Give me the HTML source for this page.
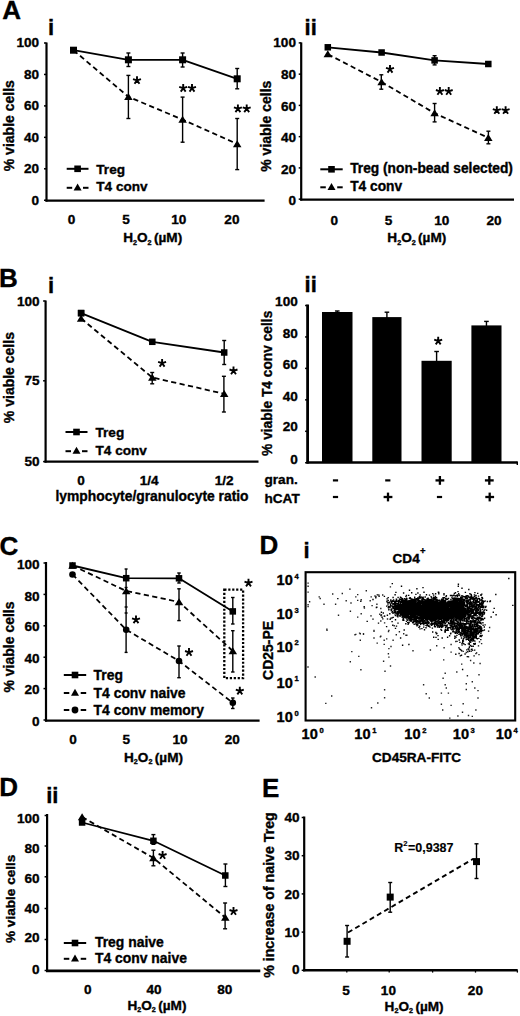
<!DOCTYPE html>
<html><head><meta charset="utf-8"><style>
html,body{margin:0;padding:0;background:#fff;overflow:hidden;}
svg{display:block;}
text{font-family:"Liberation Sans", sans-serif;font-weight:bold;fill:#000;stroke:#000;stroke-width:0.35px;}
</style></head><body>
<svg width="520" height="1016" viewBox="0 0 520 1016">
<rect width="520" height="1016" fill="#fff"/>
<text x="2.20" y="18.50" font-size="26" text-anchor="start">A</text>
<text x="47.90" y="34.60" font-size="22" text-anchor="start">i</text>
<line x1="46.50" y1="42.50" x2="46.50" y2="201.60" stroke="#000" stroke-width="2.2"/>
<line x1="44.00" y1="43.00" x2="46.50" y2="43.00" stroke="#000" stroke-width="1.5"/>
<line x1="44.00" y1="74.45" x2="46.50" y2="74.45" stroke="#000" stroke-width="1.5"/>
<line x1="44.00" y1="105.90" x2="46.50" y2="105.90" stroke="#000" stroke-width="1.5"/>
<line x1="44.00" y1="137.35" x2="46.50" y2="137.35" stroke="#000" stroke-width="1.5"/>
<line x1="44.00" y1="168.80" x2="46.50" y2="168.80" stroke="#000" stroke-width="1.5"/>
<line x1="44.00" y1="200.25" x2="46.50" y2="200.25" stroke="#000" stroke-width="1.5"/>
<text x="39.10" y="46.92" font-size="13.6" text-anchor="end">100</text>
<text x="39.10" y="78.72" font-size="13.6" text-anchor="end">80</text>
<text x="39.10" y="110.12" font-size="13.6" text-anchor="end">60</text>
<text x="39.10" y="141.52" font-size="13.6" text-anchor="end">40</text>
<text x="39.10" y="173.02" font-size="13.6" text-anchor="end">20</text>
<text x="39.10" y="204.72" font-size="13.6" text-anchor="end">0</text>
<line x1="45.50" y1="200.60" x2="264.60" y2="200.60" stroke="#000" stroke-width="2.4"/>
<text x="71.60" y="224.32" font-size="13.6" text-anchor="middle">0</text>
<text x="126.00" y="224.32" font-size="13.6" text-anchor="middle">5</text>
<text x="178.80" y="224.32" font-size="13.6" text-anchor="middle">10</text>
<text x="231.90" y="224.32" font-size="13.6" text-anchor="middle">20</text>
<text x="123.20" y="242.20" font-size="13.6" text-anchor="start">H<tspan font-size="7.2" dy="2.3">2</tspan><tspan dy="-2.3">O</tspan><tspan font-size="7.2" dy="2.3">2</tspan><tspan dy="-2.3" dx="2.4">(µM)</tspan></text>
<text x="14.30" y="125.70" font-size="14" text-anchor="middle" transform="rotate(-90 14.30 125.70)">% viable cells</text>
<polyline points="73.50,50.20 128.40,96.80 182.60,119.60 237.20,144.00" fill="none" stroke="#000" stroke-width="1.8" stroke-dasharray="5.2,3.4" stroke-linejoin="round"/>
<polyline points="73.50,50.20 128.40,59.80 182.60,59.80 237.20,78.80" fill="none" stroke="#000" stroke-width="1.8" stroke-linejoin="round"/>
<line x1="128.40" y1="53.00" x2="128.40" y2="66.50" stroke="#000" stroke-width="1.4"/>
<line x1="126.40" y1="53.00" x2="130.40" y2="53.00" stroke="#000" stroke-width="1.4"/>
<line x1="126.40" y1="66.50" x2="130.40" y2="66.50" stroke="#000" stroke-width="1.4"/>
<line x1="182.60" y1="53.00" x2="182.60" y2="67.00" stroke="#000" stroke-width="1.4"/>
<line x1="180.60" y1="53.00" x2="184.60" y2="53.00" stroke="#000" stroke-width="1.4"/>
<line x1="180.60" y1="67.00" x2="184.60" y2="67.00" stroke="#000" stroke-width="1.4"/>
<line x1="237.20" y1="68.50" x2="237.20" y2="88.80" stroke="#000" stroke-width="1.4"/>
<line x1="235.20" y1="68.50" x2="239.20" y2="68.50" stroke="#000" stroke-width="1.4"/>
<line x1="235.20" y1="88.80" x2="239.20" y2="88.80" stroke="#000" stroke-width="1.4"/>
<line x1="128.40" y1="75.40" x2="128.40" y2="118.50" stroke="#000" stroke-width="1.4"/>
<line x1="126.40" y1="75.40" x2="130.40" y2="75.40" stroke="#000" stroke-width="1.4"/>
<line x1="126.40" y1="118.50" x2="130.40" y2="118.50" stroke="#000" stroke-width="1.4"/>
<line x1="182.60" y1="97.10" x2="182.60" y2="142.20" stroke="#000" stroke-width="1.4"/>
<line x1="180.60" y1="97.10" x2="184.60" y2="97.10" stroke="#000" stroke-width="1.4"/>
<line x1="180.60" y1="142.20" x2="184.60" y2="142.20" stroke="#000" stroke-width="1.4"/>
<line x1="237.20" y1="118.50" x2="237.20" y2="169.60" stroke="#000" stroke-width="1.4"/>
<line x1="235.20" y1="118.50" x2="239.20" y2="118.50" stroke="#000" stroke-width="1.4"/>
<line x1="235.20" y1="169.60" x2="239.20" y2="169.60" stroke="#000" stroke-width="1.4"/>
<rect x="70.00" y="46.70" width="7" height="7" fill="#000"/>
<rect x="124.90" y="56.30" width="7" height="7" fill="#000"/>
<rect x="179.10" y="56.30" width="7" height="7" fill="#000"/>
<rect x="233.70" y="75.30" width="7" height="7" fill="#000"/>
<polygon points="128.40,92.95 132.65,99.95 124.15,99.95" fill="#000"/>
<polygon points="182.60,115.75 186.85,122.75 178.35,122.75" fill="#000"/>
<polygon points="237.20,140.15 241.45,147.15 232.95,147.15" fill="#000"/>
<path d="M137.00,80.40L137.00,76.20M137.00,80.40L140.99,79.10M137.00,80.40L139.47,83.80M137.00,80.40L134.53,83.80M137.00,80.40L133.01,79.10" stroke="#000" stroke-width="1.9" fill="none"/>
<path d="M183.20,88.20L183.20,84.00M183.20,88.20L187.19,86.90M183.20,88.20L185.67,91.60M183.20,88.20L180.73,91.60M183.20,88.20L179.21,86.90" stroke="#000" stroke-width="1.9" fill="none"/>
<path d="M192.00,88.20L192.00,84.00M192.00,88.20L195.99,86.90M192.00,88.20L194.47,91.60M192.00,88.20L189.53,91.60M192.00,88.20L188.01,86.90" stroke="#000" stroke-width="1.9" fill="none"/>
<path d="M237.90,108.70L237.90,104.50M237.90,108.70L241.89,107.40M237.90,108.70L240.37,112.10M237.90,108.70L235.43,112.10M237.90,108.70L233.91,107.40" stroke="#000" stroke-width="1.9" fill="none"/>
<path d="M246.70,108.70L246.70,104.50M246.70,108.70L250.69,107.40M246.70,108.70L249.17,112.10M246.70,108.70L244.23,112.10M246.70,108.70L242.71,107.40" stroke="#000" stroke-width="1.9" fill="none"/>
<line x1="66.70" y1="168.80" x2="88.50" y2="168.80" stroke="#000" stroke-width="2"/>
<rect x="74.30" y="165.50" width="6.6" height="6.6" fill="#000"/>
<text x="96.30" y="173.60" font-size="13.6" text-anchor="start">Treg</text>
<line x1="66.70" y1="187.80" x2="72.20" y2="187.80" stroke="#000" stroke-width="2"/>
<line x1="83.00" y1="187.80" x2="88.50" y2="187.80" stroke="#000" stroke-width="2"/>
<polygon points="77.60,183.45 81.60,190.45 73.60,190.45" fill="#000"/>
<text x="96.30" y="191.30" font-size="13.6" text-anchor="start">T4 conv</text>
<text x="304.60" y="34.60" font-size="22" text-anchor="start">ii</text>
<line x1="301.20" y1="42.40" x2="301.20" y2="200.60" stroke="#000" stroke-width="2.2"/>
<line x1="298.70" y1="42.90" x2="301.20" y2="42.90" stroke="#000" stroke-width="1.5"/>
<line x1="298.70" y1="74.15" x2="301.20" y2="74.15" stroke="#000" stroke-width="1.5"/>
<line x1="298.70" y1="105.40" x2="301.20" y2="105.40" stroke="#000" stroke-width="1.5"/>
<line x1="298.70" y1="136.65" x2="301.20" y2="136.65" stroke="#000" stroke-width="1.5"/>
<line x1="298.70" y1="167.90" x2="301.20" y2="167.90" stroke="#000" stroke-width="1.5"/>
<line x1="298.70" y1="199.15" x2="301.20" y2="199.15" stroke="#000" stroke-width="1.5"/>
<text x="296.00" y="47.42" font-size="13.6" text-anchor="end">100</text>
<text x="296.00" y="79.32" font-size="13.6" text-anchor="end">80</text>
<text x="296.00" y="110.82" font-size="13.6" text-anchor="end">60</text>
<text x="296.00" y="142.22" font-size="13.6" text-anchor="end">40</text>
<text x="296.00" y="173.52" font-size="13.6" text-anchor="end">20</text>
<text x="296.00" y="205.02" font-size="13.6" text-anchor="end">0</text>
<line x1="300.20" y1="199.60" x2="514.00" y2="199.60" stroke="#000" stroke-width="2.4"/>
<text x="334.20" y="224.52" font-size="13.6" text-anchor="middle">0</text>
<text x="388.60" y="224.52" font-size="13.6" text-anchor="middle">5</text>
<text x="441.70" y="224.52" font-size="13.6" text-anchor="middle">10</text>
<text x="494.00" y="224.52" font-size="13.6" text-anchor="middle">20</text>
<text x="387.30" y="242.20" font-size="13.6" text-anchor="start">H<tspan font-size="7.2" dy="2.3">2</tspan><tspan dy="-2.3">O</tspan><tspan font-size="7.2" dy="2.3">2</tspan><tspan dy="-2.3" dx="2.4">(µM)</tspan></text>
<text x="270.70" y="126.20" font-size="14" text-anchor="middle" transform="rotate(-90 270.70 126.20)">% viable cells</text>
<polyline points="327.80,54.20 381.60,82.00 434.60,113.20 488.30,137.80" fill="none" stroke="#000" stroke-width="1.8" stroke-dasharray="5.2,3.4" stroke-linejoin="round"/>
<polyline points="327.80,47.30 381.60,52.50 434.60,60.40 488.30,64.00" fill="none" stroke="#000" stroke-width="1.8" stroke-linejoin="round"/>
<line x1="381.30" y1="74.80" x2="381.30" y2="89.20" stroke="#000" stroke-width="1.4"/>
<line x1="379.30" y1="74.80" x2="383.30" y2="74.80" stroke="#000" stroke-width="1.4"/>
<line x1="379.30" y1="89.20" x2="383.30" y2="89.20" stroke="#000" stroke-width="1.4"/>
<line x1="434.60" y1="103.50" x2="434.60" y2="121.90" stroke="#000" stroke-width="1.4"/>
<line x1="432.60" y1="103.50" x2="436.60" y2="103.50" stroke="#000" stroke-width="1.4"/>
<line x1="432.60" y1="121.90" x2="436.60" y2="121.90" stroke="#000" stroke-width="1.4"/>
<line x1="488.40" y1="131.20" x2="488.40" y2="143.80" stroke="#000" stroke-width="1.4"/>
<line x1="486.40" y1="131.20" x2="490.40" y2="131.20" stroke="#000" stroke-width="1.4"/>
<line x1="486.40" y1="143.80" x2="490.40" y2="143.80" stroke="#000" stroke-width="1.4"/>
<line x1="434.60" y1="55.70" x2="434.60" y2="64.90" stroke="#000" stroke-width="1.4"/>
<line x1="432.60" y1="55.70" x2="436.60" y2="55.70" stroke="#000" stroke-width="1.4"/>
<line x1="432.60" y1="64.90" x2="436.60" y2="64.90" stroke="#000" stroke-width="1.4"/>
<rect x="324.55" y="44.05" width="6.5" height="6.5" fill="#000"/>
<rect x="378.35" y="49.25" width="6.5" height="6.5" fill="#000"/>
<rect x="431.35" y="57.15" width="6.5" height="6.5" fill="#000"/>
<rect x="485.05" y="60.75" width="6.5" height="6.5" fill="#000"/>
<polygon points="327.80,50.35 332.05,57.35 323.55,57.35" fill="#000"/>
<polygon points="381.60,78.15 385.85,85.15 377.35,85.15" fill="#000"/>
<polygon points="434.60,109.35 438.85,116.35 430.35,116.35" fill="#000"/>
<polygon points="488.30,133.95 492.55,140.95 484.05,140.95" fill="#000"/>
<path d="M390.00,69.20L390.00,65.00M390.00,69.20L393.99,67.90M390.00,69.20L392.47,72.60M390.00,69.20L387.53,72.60M390.00,69.20L386.01,67.90" stroke="#000" stroke-width="1.9" fill="none"/>
<path d="M439.90,91.30L439.90,87.10M439.90,91.30L443.89,90.00M439.90,91.30L442.37,94.70M439.90,91.30L437.43,94.70M439.90,91.30L435.91,90.00" stroke="#000" stroke-width="1.9" fill="none"/>
<path d="M448.70,91.30L448.70,87.10M448.70,91.30L452.69,90.00M448.70,91.30L451.17,94.70M448.70,91.30L446.23,94.70M448.70,91.30L444.71,90.00" stroke="#000" stroke-width="1.9" fill="none"/>
<path d="M496.80,110.40L496.80,106.20M496.80,110.40L500.79,109.10M496.80,110.40L499.27,113.80M496.80,110.40L494.33,113.80M496.80,110.40L492.81,109.10" stroke="#000" stroke-width="1.9" fill="none"/>
<path d="M505.60,110.40L505.60,106.20M505.60,110.40L509.59,109.10M505.60,110.40L508.07,113.80M505.60,110.40L503.13,113.80M505.60,110.40L501.61,109.10" stroke="#000" stroke-width="1.9" fill="none"/>
<line x1="320.30" y1="169.30" x2="342.70" y2="169.30" stroke="#000" stroke-width="2"/>
<rect x="328.20" y="166.00" width="6.6" height="6.6" fill="#000"/>
<text x="350.20" y="173.10" font-size="13.75" text-anchor="start">Treg (non-bead selected)</text>
<line x1="320.30" y1="187.30" x2="325.80" y2="187.30" stroke="#000" stroke-width="2"/>
<line x1="337.20" y1="187.30" x2="342.70" y2="187.30" stroke="#000" stroke-width="2"/>
<polygon points="331.50,182.95 335.50,189.95 327.50,189.95" fill="#000"/>
<text x="350.20" y="190.50" font-size="13.75" text-anchor="start">T4 conv</text>
<text x="-1.10" y="287.00" font-size="26" text-anchor="start">B</text>
<text x="47.90" y="292.50" font-size="22" text-anchor="start">i</text>
<line x1="45.60" y1="300.50" x2="45.60" y2="462.60" stroke="#000" stroke-width="2.2"/>
<line x1="43.10" y1="301.00" x2="45.60" y2="301.00" stroke="#000" stroke-width="1.5"/>
<line x1="43.10" y1="380.80" x2="45.60" y2="380.80" stroke="#000" stroke-width="1.5"/>
<line x1="43.10" y1="461.60" x2="45.60" y2="461.60" stroke="#000" stroke-width="1.5"/>
<text x="39.60" y="305.82" font-size="13.6" text-anchor="end">100</text>
<text x="39.60" y="385.22" font-size="13.6" text-anchor="end">75</text>
<text x="39.60" y="466.02" font-size="13.6" text-anchor="end">50</text>
<line x1="44.50" y1="461.60" x2="258.50" y2="461.60" stroke="#000" stroke-width="2.4"/>
<text x="81.00" y="484.92" font-size="13.6" text-anchor="middle">0</text>
<text x="149.10" y="484.92" font-size="13.6" text-anchor="middle">1/4</text>
<text x="224.10" y="484.92" font-size="13.6" text-anchor="middle">1/2</text>
<text x="152.00" y="501.30" font-size="13.85" text-anchor="middle">lymphocyte/granulocyte ratio</text>
<text x="14.20" y="377.60" font-size="14" text-anchor="middle" transform="rotate(-90 14.20 377.60)">% viable cells</text>
<polyline points="81.10,318.50 152.30,377.50 224.20,393.80" fill="none" stroke="#000" stroke-width="1.8" stroke-dasharray="5.2,3.4" stroke-linejoin="round"/>
<polyline points="81.10,313.10 152.30,341.80 224.20,352.50" fill="none" stroke="#000" stroke-width="1.8" stroke-linejoin="round"/>
<line x1="224.20" y1="340.50" x2="224.20" y2="364.50" stroke="#000" stroke-width="1.4"/>
<line x1="222.20" y1="340.50" x2="226.20" y2="340.50" stroke="#000" stroke-width="1.4"/>
<line x1="222.20" y1="364.50" x2="226.20" y2="364.50" stroke="#000" stroke-width="1.4"/>
<line x1="152.20" y1="372.50" x2="152.20" y2="383.80" stroke="#000" stroke-width="1.4"/>
<line x1="150.20" y1="372.50" x2="154.20" y2="372.50" stroke="#000" stroke-width="1.4"/>
<line x1="150.20" y1="383.80" x2="154.20" y2="383.80" stroke="#000" stroke-width="1.4"/>
<line x1="223.90" y1="376.30" x2="223.90" y2="412.00" stroke="#000" stroke-width="1.4"/>
<line x1="221.90" y1="376.30" x2="225.90" y2="376.30" stroke="#000" stroke-width="1.4"/>
<line x1="221.90" y1="412.00" x2="225.90" y2="412.00" stroke="#000" stroke-width="1.4"/>
<rect x="77.85" y="309.85" width="6.5" height="6.5" fill="#000"/>
<rect x="149.05" y="338.55" width="6.5" height="6.5" fill="#000"/>
<rect x="220.95" y="349.25" width="6.5" height="6.5" fill="#000"/>
<polygon points="81.10,314.65 85.35,321.65 76.85,321.65" fill="#000"/>
<polygon points="152.30,373.65 156.55,380.65 148.05,380.65" fill="#000"/>
<polygon points="224.20,389.95 228.45,396.95 219.95,396.95" fill="#000"/>
<rect x="77.85" y="309.85" width="6.5" height="6.5" fill="#000"/>
<path d="M162.10,363.20L162.10,359.00M162.10,363.20L166.09,361.90M162.10,363.20L164.57,366.60M162.10,363.20L159.63,366.60M162.10,363.20L158.11,361.90" stroke="#000" stroke-width="1.9" fill="none"/>
<path d="M233.50,370.80L233.50,366.60M233.50,370.80L237.49,369.50M233.50,370.80L235.97,374.20M233.50,370.80L231.03,374.20M233.50,370.80L229.51,369.50" stroke="#000" stroke-width="1.9" fill="none"/>
<line x1="65.50" y1="432.00" x2="87.50" y2="432.00" stroke="#000" stroke-width="2"/>
<rect x="73.20" y="428.70" width="6.6" height="6.6" fill="#000"/>
<text x="95.50" y="437.00" font-size="13.6" text-anchor="start">Treg</text>
<line x1="65.50" y1="451.20" x2="71.00" y2="451.20" stroke="#000" stroke-width="2"/>
<line x1="82.00" y1="451.20" x2="87.50" y2="451.20" stroke="#000" stroke-width="2"/>
<polygon points="76.50,446.85 80.50,453.85 72.50,453.85" fill="#000"/>
<text x="95.50" y="454.60" font-size="13.6" text-anchor="start">T4 conv</text>
<text x="304.60" y="292.00" font-size="22" text-anchor="start">ii</text>
<line x1="307.60" y1="304.50" x2="307.60" y2="463.50" stroke="#000" stroke-width="2.8"/>
<line x1="305.10" y1="305.50" x2="307.60" y2="305.50" stroke="#000" stroke-width="1.5"/>
<line x1="305.10" y1="336.95" x2="307.60" y2="336.95" stroke="#000" stroke-width="1.5"/>
<line x1="305.10" y1="368.40" x2="307.60" y2="368.40" stroke="#000" stroke-width="1.5"/>
<line x1="305.10" y1="399.85" x2="307.60" y2="399.85" stroke="#000" stroke-width="1.5"/>
<line x1="305.10" y1="431.30" x2="307.60" y2="431.30" stroke="#000" stroke-width="1.5"/>
<line x1="305.10" y1="462.75" x2="307.60" y2="462.75" stroke="#000" stroke-width="1.5"/>
<text x="297.80" y="306.12" font-size="13.6" text-anchor="end">100</text>
<text x="297.80" y="338.32" font-size="13.6" text-anchor="end">80</text>
<text x="297.80" y="368.72" font-size="13.6" text-anchor="end">60</text>
<text x="297.80" y="400.82" font-size="13.6" text-anchor="end">40</text>
<text x="297.80" y="431.22" font-size="13.6" text-anchor="end">20</text>
<text x="297.80" y="463.62" font-size="13.6" text-anchor="end">0</text>
<rect x="322" y="312" width="30.5" height="150.8" fill="#000"/>
<line x1="337.25" y1="311.00" x2="337.25" y2="314.00" stroke="#000" stroke-width="1.4"/>
<line x1="334.95" y1="311.00" x2="339.55" y2="311.00" stroke="#000" stroke-width="1.4"/>
<line x1="334.95" y1="314.00" x2="339.55" y2="314.00" stroke="#000" stroke-width="1.4"/>
<rect x="372.3" y="317.1" width="29.19999999999999" height="145.7" fill="#000"/>
<line x1="386.90" y1="312.20" x2="386.90" y2="319.10" stroke="#000" stroke-width="1.4"/>
<line x1="384.60" y1="312.20" x2="389.20" y2="312.20" stroke="#000" stroke-width="1.4"/>
<line x1="384.60" y1="319.10" x2="389.20" y2="319.10" stroke="#000" stroke-width="1.4"/>
<rect x="421.5" y="360.8" width="30.19999999999999" height="102.0" fill="#000"/>
<line x1="436.60" y1="351.50" x2="436.60" y2="362.80" stroke="#000" stroke-width="1.4"/>
<line x1="434.30" y1="351.50" x2="438.90" y2="351.50" stroke="#000" stroke-width="1.4"/>
<line x1="434.30" y1="362.80" x2="438.90" y2="362.80" stroke="#000" stroke-width="1.4"/>
<rect x="471.4" y="325.4" width="30.100000000000023" height="137.40000000000003" fill="#000"/>
<line x1="486.45" y1="321.40" x2="486.45" y2="327.40" stroke="#000" stroke-width="1.4"/>
<line x1="484.15" y1="321.40" x2="488.75" y2="321.40" stroke="#000" stroke-width="1.4"/>
<line x1="484.15" y1="327.40" x2="488.75" y2="327.40" stroke="#000" stroke-width="1.4"/>
<line x1="306.60" y1="462.50" x2="517.30" y2="462.50" stroke="#000" stroke-width="2.4"/>
<line x1="517.30" y1="461.60" x2="517.30" y2="465.00" stroke="#000" stroke-width="1.4"/>
<path d="M438.20,341.00L438.20,336.80M438.20,341.00L442.19,339.70M438.20,341.00L440.67,344.40M438.20,341.00L435.73,344.40M438.20,341.00L434.21,339.70" stroke="#000" stroke-width="1.9" fill="none"/>
<text x="272.10" y="383.30" font-size="13.75" text-anchor="middle" transform="rotate(-90 272.10 383.30)">% viable T4 conv cells</text>
<text x="264.50" y="483.70" font-size="13.6" text-anchor="start">gran.</text>
<text x="264.50" y="503.00" font-size="13.6" text-anchor="start">hCAT</text>
<line x1="332.90" y1="480.40" x2="338.10" y2="480.40" stroke="#000" stroke-width="2.2"/>
<line x1="385.20" y1="480.40" x2="390.40" y2="480.40" stroke="#000" stroke-width="2.2"/>
<line x1="435.50" y1="480.40" x2="444.30" y2="480.40" stroke="#000" stroke-width="2.3"/>
<line x1="439.90" y1="476.00" x2="439.90" y2="484.80" stroke="#000" stroke-width="2.3"/>
<line x1="484.90" y1="480.40" x2="493.70" y2="480.40" stroke="#000" stroke-width="2.3"/>
<line x1="489.30" y1="476.00" x2="489.30" y2="484.80" stroke="#000" stroke-width="2.3"/>
<line x1="332.90" y1="497.00" x2="338.10" y2="497.00" stroke="#000" stroke-width="2.2"/>
<line x1="383.60" y1="497.00" x2="392.40" y2="497.00" stroke="#000" stroke-width="2.3"/>
<line x1="388.00" y1="492.60" x2="388.00" y2="501.40" stroke="#000" stroke-width="2.3"/>
<line x1="436.90" y1="497.00" x2="442.10" y2="497.00" stroke="#000" stroke-width="2.2"/>
<line x1="485.30" y1="497.00" x2="494.10" y2="497.00" stroke="#000" stroke-width="2.3"/>
<line x1="489.70" y1="492.60" x2="489.70" y2="501.40" stroke="#000" stroke-width="2.3"/>
<text x="-0.60" y="554.50" font-size="26" text-anchor="start">C</text>
<line x1="46.00" y1="562.00" x2="46.00" y2="721.60" stroke="#000" stroke-width="2.2"/>
<line x1="43.50" y1="563.00" x2="46.00" y2="563.00" stroke="#000" stroke-width="1.5"/>
<line x1="43.50" y1="594.40" x2="46.00" y2="594.40" stroke="#000" stroke-width="1.5"/>
<line x1="43.50" y1="625.80" x2="46.00" y2="625.80" stroke="#000" stroke-width="1.5"/>
<line x1="43.50" y1="657.20" x2="46.00" y2="657.20" stroke="#000" stroke-width="1.5"/>
<line x1="43.50" y1="688.60" x2="46.00" y2="688.60" stroke="#000" stroke-width="1.5"/>
<line x1="43.50" y1="720.00" x2="46.00" y2="720.00" stroke="#000" stroke-width="1.5"/>
<text x="39.60" y="568.52" font-size="13.6" text-anchor="end">100</text>
<text x="39.60" y="600.92" font-size="13.6" text-anchor="end">80</text>
<text x="39.60" y="630.72" font-size="13.6" text-anchor="end">60</text>
<text x="39.60" y="662.72" font-size="13.6" text-anchor="end">40</text>
<text x="39.60" y="693.92" font-size="13.6" text-anchor="end">20</text>
<text x="39.60" y="725.82" font-size="13.6" text-anchor="end">0</text>
<line x1="45.00" y1="720.60" x2="259.60" y2="720.60" stroke="#000" stroke-width="2.4"/>
<text x="73.00" y="744.22" font-size="13.6" text-anchor="middle">0</text>
<text x="126.30" y="744.22" font-size="13.6" text-anchor="middle">5</text>
<text x="180.00" y="744.22" font-size="13.6" text-anchor="middle">10</text>
<text x="232.30" y="744.22" font-size="13.6" text-anchor="middle">20</text>
<text x="124.00" y="761.50" font-size="13.6" text-anchor="start">H<tspan font-size="7.2" dy="2.3">2</tspan><tspan dy="-2.3">O</tspan><tspan font-size="7.2" dy="2.3">2</tspan><tspan dy="-2.3" dx="2.4">(µM)</tspan></text>
<text x="14.20" y="647.00" font-size="14" text-anchor="middle" transform="rotate(-90 14.20 647.00)">% viable cells</text>
<polyline points="72.50,574.50 126.20,629.70 179.00,661.00 232.80,702.80" fill="none" stroke="#000" stroke-width="1.75" stroke-dasharray="5.2,3.4" stroke-linejoin="round"/>
<polyline points="72.50,565.50 126.20,591.00 179.00,602.00 232.80,651.00" fill="none" stroke="#000" stroke-width="1.75" stroke-dasharray="5.2,3.4" stroke-linejoin="round"/>
<polyline points="72.50,565.50 126.20,578.20 179.00,578.30 232.80,611.40" fill="none" stroke="#000" stroke-width="1.8" stroke-linejoin="round"/>
<line x1="126.10" y1="569.00" x2="126.10" y2="652.40" stroke="#000" stroke-width="1.4"/>
<line x1="124.60" y1="569.00" x2="127.60" y2="569.00" stroke="#000" stroke-width="1.4"/>
<line x1="124.60" y1="652.40" x2="127.60" y2="652.40" stroke="#000" stroke-width="1.4"/>
<line x1="124.60" y1="587.50" x2="127.60" y2="587.50" stroke="#000" stroke-width="1.4"/>
<line x1="124.60" y1="607.00" x2="127.60" y2="607.00" stroke="#000" stroke-width="1.4"/>
<line x1="124.60" y1="613.00" x2="127.60" y2="613.00" stroke="#000" stroke-width="1.4"/>
<line x1="179.00" y1="573.00" x2="179.00" y2="583.00" stroke="#000" stroke-width="1.4"/>
<line x1="177.25" y1="573.00" x2="180.75" y2="573.00" stroke="#000" stroke-width="1.4"/>
<line x1="177.25" y1="583.00" x2="180.75" y2="583.00" stroke="#000" stroke-width="1.4"/>
<line x1="179.00" y1="588.80" x2="179.00" y2="620.60" stroke="#000" stroke-width="1.4"/>
<line x1="177.25" y1="588.80" x2="180.75" y2="588.80" stroke="#000" stroke-width="1.4"/>
<line x1="177.25" y1="620.60" x2="180.75" y2="620.60" stroke="#000" stroke-width="1.4"/>
<line x1="179.00" y1="646.00" x2="179.00" y2="677.70" stroke="#000" stroke-width="1.4"/>
<line x1="177.25" y1="646.00" x2="180.75" y2="646.00" stroke="#000" stroke-width="1.4"/>
<line x1="177.25" y1="677.70" x2="180.75" y2="677.70" stroke="#000" stroke-width="1.4"/>
<line x1="232.80" y1="597.50" x2="232.80" y2="624.00" stroke="#000" stroke-width="1.4"/>
<line x1="231.05" y1="597.50" x2="234.55" y2="597.50" stroke="#000" stroke-width="1.4"/>
<line x1="231.05" y1="624.00" x2="234.55" y2="624.00" stroke="#000" stroke-width="1.4"/>
<line x1="232.80" y1="630.70" x2="232.80" y2="672.00" stroke="#000" stroke-width="1.4"/>
<line x1="231.05" y1="630.70" x2="234.55" y2="630.70" stroke="#000" stroke-width="1.4"/>
<line x1="231.05" y1="672.00" x2="234.55" y2="672.00" stroke="#000" stroke-width="1.4"/>
<line x1="232.80" y1="698.00" x2="232.80" y2="708.50" stroke="#000" stroke-width="1.4"/>
<line x1="231.05" y1="698.00" x2="234.55" y2="698.00" stroke="#000" stroke-width="1.4"/>
<line x1="231.05" y1="708.50" x2="234.55" y2="708.50" stroke="#000" stroke-width="1.4"/>
<circle cx="72.50" cy="574.50" r="3.3" fill="#000"/>
<circle cx="126.20" cy="629.70" r="3.3" fill="#000"/>
<circle cx="179.00" cy="661.00" r="3.3" fill="#000"/>
<circle cx="232.80" cy="702.80" r="3.3" fill="#000"/>
<polygon points="72.50,561.65 76.75,568.65 68.25,568.65" fill="#000"/>
<polygon points="126.20,587.15 130.45,594.15 121.95,594.15" fill="#000"/>
<polygon points="179.00,598.15 183.25,605.15 174.75,605.15" fill="#000"/>
<polygon points="232.80,647.15 237.05,654.15 228.55,654.15" fill="#000"/>
<rect x="69.25" y="562.25" width="6.5" height="6.5" fill="#000"/>
<rect x="122.95" y="574.95" width="6.5" height="6.5" fill="#000"/>
<rect x="175.75" y="575.05" width="6.5" height="6.5" fill="#000"/>
<rect x="229.55" y="608.15" width="6.5" height="6.5" fill="#000"/>
<rect x="224.3" y="589.6" width="18.8" height="88.6" fill="none" stroke="#000" stroke-width="2.3" stroke-dasharray="2.2,1.75"/>
<path d="M248.50,583.00L248.50,578.80M248.50,583.00L252.49,581.70M248.50,583.00L250.97,586.40M248.50,583.00L246.03,586.40M248.50,583.00L244.51,581.70" stroke="#000" stroke-width="1.9" fill="none"/>
<path d="M136.00,619.70L136.00,615.50M136.00,619.70L139.99,618.40M136.00,619.70L138.47,623.10M136.00,619.70L133.53,623.10M136.00,619.70L132.01,618.40" stroke="#000" stroke-width="1.9" fill="none"/>
<path d="M189.00,652.30L189.00,648.10M189.00,652.30L192.99,651.00M189.00,652.30L191.47,655.70M189.00,652.30L186.53,655.70M189.00,652.30L185.01,651.00" stroke="#000" stroke-width="1.9" fill="none"/>
<path d="M239.80,691.00L239.80,686.80M239.80,691.00L243.79,689.70M239.80,691.00L242.27,694.40M239.80,691.00L237.33,694.40M239.80,691.00L235.81,689.70" stroke="#000" stroke-width="1.9" fill="none"/>
<line x1="63.80" y1="675.00" x2="86.20" y2="675.00" stroke="#000" stroke-width="2"/>
<rect x="71.70" y="671.70" width="6.6" height="6.6" fill="#000"/>
<text x="93.60" y="680.20" font-size="13.9" text-anchor="start">Treg</text>
<line x1="63.80" y1="693.00" x2="69.30" y2="693.00" stroke="#000" stroke-width="2"/>
<line x1="80.70" y1="693.00" x2="86.20" y2="693.00" stroke="#000" stroke-width="2"/>
<polygon points="75.00,688.65 79.00,695.65 71.00,695.65" fill="#000"/>
<text x="93.60" y="697.60" font-size="13.9" text-anchor="start">T4 conv naive</text>
<line x1="63.80" y1="710.00" x2="69.30" y2="710.00" stroke="#000" stroke-width="2"/>
<line x1="80.70" y1="710.00" x2="86.20" y2="710.00" stroke="#000" stroke-width="2"/>
<circle cx="75.00" cy="710.00" r="3.4" fill="#000"/>
<text x="93.60" y="715.00" font-size="13.9" text-anchor="start">T4 conv memory</text>
<text x="259.60" y="553.80" font-size="26" text-anchor="start">D</text>
<text x="303.60" y="558.00" font-size="22" text-anchor="start">i</text>
<text x="392.50" y="563.30" font-size="13.6" text-anchor="start">CD4</text>
<text x="420.00" y="553.50" font-size="9.5" text-anchor="start">+</text>
<rect x="305.6" y="572.2" width="209.6" height="148.3" fill="none" stroke="#000" stroke-width="2.1"/>
<text x="292.80" y="585.23" font-size="14.6" text-anchor="end">10</text>
<text x="294.40" y="579.00" font-size="7.6" text-anchor="start">4</text>
<text x="292.80" y="619.03" font-size="14.6" text-anchor="end">10</text>
<text x="294.40" y="612.80" font-size="7.6" text-anchor="start">3</text>
<text x="292.80" y="651.53" font-size="14.6" text-anchor="end">10</text>
<text x="294.40" y="645.30" font-size="7.6" text-anchor="start">2</text>
<text x="292.80" y="687.53" font-size="14.6" text-anchor="end">10</text>
<text x="294.40" y="681.30" font-size="7.6" text-anchor="start">1</text>
<text x="292.80" y="721.83" font-size="14.6" text-anchor="end">10</text>
<text x="294.40" y="715.60" font-size="7.6" text-anchor="start">0</text>
<text x="317.80" y="739.03" font-size="14.6" text-anchor="end">10</text>
<text x="319.40" y="732.80" font-size="7.6" text-anchor="start">0</text>
<text x="370.60" y="739.03" font-size="14.6" text-anchor="end">10</text>
<text x="372.20" y="732.80" font-size="7.6" text-anchor="start">1</text>
<text x="420.60" y="739.03" font-size="14.6" text-anchor="end">10</text>
<text x="422.20" y="732.80" font-size="7.6" text-anchor="start">2</text>
<text x="469.00" y="739.03" font-size="14.6" text-anchor="end">10</text>
<text x="470.60" y="732.80" font-size="7.6" text-anchor="start">3</text>
<text x="512.00" y="739.03" font-size="14.6" text-anchor="end">10</text>
<text x="513.60" y="732.80" font-size="7.6" text-anchor="start">4</text>
<text x="372.00" y="761.70" font-size="13.6" text-anchor="start">CD45RA-FITC</text>
<text x="273.00" y="650.40" font-size="14" text-anchor="middle" transform="rotate(-90 273.00 650.40)">CD25-PE</text>
<path d="M402.5,613.1h1.4v1.4h-1.4zM434.8,603.2h1.4v1.4h-1.4zM475.6,597.1h1.4v1.4h-1.4zM396.9,613.7h1.4v1.4h-1.4zM482.1,603.3h1.4v1.4h-1.4zM446.8,617.6h1.4v1.4h-1.4zM425.8,602.0h1.4v1.4h-1.4zM434.3,596.7h1.4v1.4h-1.4zM450.3,624.9h1.4v1.4h-1.4zM415.7,608.7h1.4v1.4h-1.4zM464.8,623.1h1.4v1.4h-1.4zM434.3,598.6h1.4v1.4h-1.4zM464.8,617.8h1.4v1.4h-1.4zM407.8,614.7h1.4v1.4h-1.4zM447.0,606.1h1.4v1.4h-1.4zM408.5,606.4h1.4v1.4h-1.4zM465.5,631.4h1.4v1.4h-1.4zM468.5,607.9h1.4v1.4h-1.4zM431.1,616.5h1.4v1.4h-1.4zM474.6,621.7h1.4v1.4h-1.4zM400.0,601.4h1.4v1.4h-1.4zM406.9,606.9h1.4v1.4h-1.4zM477.1,623.5h1.4v1.4h-1.4zM430.9,611.3h1.4v1.4h-1.4zM474.0,599.2h1.4v1.4h-1.4zM422.0,611.2h1.4v1.4h-1.4zM433.2,600.5h1.4v1.4h-1.4zM468.3,635.6h1.4v1.4h-1.4zM396.9,608.7h1.4v1.4h-1.4zM402.1,614.0h1.4v1.4h-1.4zM388.8,601.8h1.4v1.4h-1.4zM467.8,608.7h1.4v1.4h-1.4zM459.4,600.8h1.4v1.4h-1.4zM442.9,604.8h1.4v1.4h-1.4zM474.4,598.2h1.4v1.4h-1.4zM463.0,599.5h1.4v1.4h-1.4zM414.8,602.4h1.4v1.4h-1.4zM457.5,630.8h1.4v1.4h-1.4zM433.4,605.0h1.4v1.4h-1.4zM472.2,636.2h1.4v1.4h-1.4zM417.9,599.2h1.4v1.4h-1.4zM413.8,600.7h1.4v1.4h-1.4zM481.1,603.5h1.4v1.4h-1.4zM419.5,604.4h1.4v1.4h-1.4zM415.6,620.0h1.4v1.4h-1.4zM459.7,618.8h1.4v1.4h-1.4zM391.3,605.3h1.4v1.4h-1.4zM427.0,611.7h1.4v1.4h-1.4zM468.1,614.4h1.4v1.4h-1.4zM459.9,613.9h1.4v1.4h-1.4zM439.4,607.0h1.4v1.4h-1.4zM453.7,602.7h1.4v1.4h-1.4zM455.4,617.3h1.4v1.4h-1.4zM463.0,632.2h1.4v1.4h-1.4zM475.1,601.3h1.4v1.4h-1.4zM445.7,595.0h1.4v1.4h-1.4zM428.4,598.8h1.4v1.4h-1.4zM466.3,621.4h1.4v1.4h-1.4zM474.2,607.4h1.4v1.4h-1.4zM460.7,624.0h1.4v1.4h-1.4zM423.0,606.2h1.4v1.4h-1.4zM403.1,615.4h1.4v1.4h-1.4zM408.8,599.8h1.4v1.4h-1.4zM419.9,611.4h1.4v1.4h-1.4zM475.1,603.1h1.4v1.4h-1.4zM450.8,615.8h1.4v1.4h-1.4zM394.3,603.7h1.4v1.4h-1.4zM397.6,603.2h1.4v1.4h-1.4zM446.5,624.2h1.4v1.4h-1.4zM417.2,599.8h1.4v1.4h-1.4zM447.8,618.2h1.4v1.4h-1.4zM416.3,609.2h1.4v1.4h-1.4zM425.4,621.3h1.4v1.4h-1.4zM475.6,609.2h1.4v1.4h-1.4zM440.2,602.5h1.4v1.4h-1.4zM480.8,630.8h1.4v1.4h-1.4zM474.9,635.2h1.4v1.4h-1.4zM454.1,622.8h1.4v1.4h-1.4zM465.1,612.1h1.4v1.4h-1.4zM456.1,599.9h1.4v1.4h-1.4zM465.8,635.2h1.4v1.4h-1.4zM456.6,602.1h1.4v1.4h-1.4zM466.8,619.6h1.4v1.4h-1.4zM458.5,599.3h1.4v1.4h-1.4zM463.6,605.1h1.4v1.4h-1.4zM414.0,602.4h1.4v1.4h-1.4zM424.0,619.9h1.4v1.4h-1.4zM434.9,626.1h1.4v1.4h-1.4zM422.7,602.1h1.4v1.4h-1.4zM457.5,599.7h1.4v1.4h-1.4zM466.0,611.6h1.4v1.4h-1.4zM454.9,626.5h1.4v1.4h-1.4zM438.6,613.0h1.4v1.4h-1.4zM482.3,619.1h1.4v1.4h-1.4zM414.2,600.5h1.4v1.4h-1.4zM441.6,608.5h1.4v1.4h-1.4zM467.9,611.4h1.4v1.4h-1.4zM465.5,607.4h1.4v1.4h-1.4zM452.5,599.1h1.4v1.4h-1.4zM477.5,633.2h1.4v1.4h-1.4zM416.2,604.9h1.4v1.4h-1.4zM449.1,605.7h1.4v1.4h-1.4zM418.9,601.5h1.4v1.4h-1.4zM459.8,625.1h1.4v1.4h-1.4zM399.1,612.0h1.4v1.4h-1.4zM470.4,631.7h1.4v1.4h-1.4zM459.0,598.1h1.4v1.4h-1.4zM462.7,623.1h1.4v1.4h-1.4zM428.7,610.5h1.4v1.4h-1.4zM393.5,600.8h1.4v1.4h-1.4zM441.4,610.6h1.4v1.4h-1.4zM466.4,601.4h1.4v1.4h-1.4zM464.5,630.9h1.4v1.4h-1.4zM433.2,622.4h1.4v1.4h-1.4zM473.1,639.9h1.4v1.4h-1.4zM475.3,604.3h1.4v1.4h-1.4zM423.4,612.1h1.4v1.4h-1.4zM447.7,608.3h1.4v1.4h-1.4zM431.6,611.1h1.4v1.4h-1.4zM469.8,629.6h1.4v1.4h-1.4zM449.6,624.4h1.4v1.4h-1.4zM429.4,599.0h1.4v1.4h-1.4zM435.2,602.3h1.4v1.4h-1.4zM397.9,609.4h1.4v1.4h-1.4zM471.2,598.3h1.4v1.4h-1.4zM406.6,610.7h1.4v1.4h-1.4zM437.1,623.1h1.4v1.4h-1.4zM400.1,607.8h1.4v1.4h-1.4zM406.1,614.8h1.4v1.4h-1.4zM453.1,608.2h1.4v1.4h-1.4zM470.8,633.3h1.4v1.4h-1.4zM461.5,597.8h1.4v1.4h-1.4zM426.2,606.8h1.4v1.4h-1.4zM459.6,621.4h1.4v1.4h-1.4zM481.5,617.8h1.4v1.4h-1.4zM394.5,611.4h1.4v1.4h-1.4zM435.3,615.0h1.4v1.4h-1.4zM392.3,600.0h1.4v1.4h-1.4zM426.7,610.1h1.4v1.4h-1.4zM443.5,613.7h1.4v1.4h-1.4zM392.8,607.5h1.4v1.4h-1.4zM430.5,602.1h1.4v1.4h-1.4zM470.8,638.2h1.4v1.4h-1.4zM475.5,636.0h1.4v1.4h-1.4zM471.9,637.4h1.4v1.4h-1.4zM478.0,597.7h1.4v1.4h-1.4zM459.9,635.2h1.4v1.4h-1.4zM440.8,615.0h1.4v1.4h-1.4zM397.1,604.8h1.4v1.4h-1.4zM449.6,607.9h1.4v1.4h-1.4zM468.8,603.4h1.4v1.4h-1.4zM475.0,599.9h1.4v1.4h-1.4zM430.2,613.0h1.4v1.4h-1.4zM397.2,616.1h1.4v1.4h-1.4zM475.9,604.5h1.4v1.4h-1.4zM472.5,596.9h1.4v1.4h-1.4zM481.9,602.8h1.4v1.4h-1.4zM406.0,602.9h1.4v1.4h-1.4zM414.7,614.5h1.4v1.4h-1.4zM419.0,600.0h1.4v1.4h-1.4zM435.9,596.9h1.4v1.4h-1.4zM430.9,614.7h1.4v1.4h-1.4zM481.5,611.6h1.4v1.4h-1.4zM402.9,614.2h1.4v1.4h-1.4zM479.3,635.5h1.4v1.4h-1.4zM404.0,610.6h1.4v1.4h-1.4zM398.5,599.6h1.4v1.4h-1.4zM438.4,622.0h1.4v1.4h-1.4zM471.8,635.4h1.4v1.4h-1.4zM472.6,621.1h1.4v1.4h-1.4zM466.3,629.6h1.4v1.4h-1.4zM436.0,607.3h1.4v1.4h-1.4zM438.3,616.0h1.4v1.4h-1.4zM427.3,624.9h1.4v1.4h-1.4zM426.7,614.9h1.4v1.4h-1.4zM465.5,637.2h1.4v1.4h-1.4zM411.7,605.7h1.4v1.4h-1.4zM456.6,626.4h1.4v1.4h-1.4zM421.9,610.5h1.4v1.4h-1.4zM404.6,610.8h1.4v1.4h-1.4zM470.8,622.0h1.4v1.4h-1.4zM426.8,619.0h1.4v1.4h-1.4zM465.0,634.3h1.4v1.4h-1.4zM443.9,602.1h1.4v1.4h-1.4zM410.1,601.5h1.4v1.4h-1.4zM424.9,603.4h1.4v1.4h-1.4zM419.4,608.5h1.4v1.4h-1.4zM443.7,621.8h1.4v1.4h-1.4zM474.9,610.1h1.4v1.4h-1.4zM421.8,615.8h1.4v1.4h-1.4zM405.9,614.2h1.4v1.4h-1.4zM443.1,612.5h1.4v1.4h-1.4zM387.2,602.4h1.4v1.4h-1.4zM422.3,611.6h1.4v1.4h-1.4zM419.2,614.9h1.4v1.4h-1.4zM406.6,616.6h1.4v1.4h-1.4zM471.2,608.3h1.4v1.4h-1.4zM458.5,616.3h1.4v1.4h-1.4zM477.6,627.0h1.4v1.4h-1.4zM467.0,631.2h1.4v1.4h-1.4zM476.8,607.7h1.4v1.4h-1.4zM397.7,602.4h1.4v1.4h-1.4zM406.3,611.1h1.4v1.4h-1.4zM428.2,611.6h1.4v1.4h-1.4zM462.4,610.4h1.4v1.4h-1.4zM393.7,608.4h1.4v1.4h-1.4zM411.9,621.5h1.4v1.4h-1.4zM458.0,599.4h1.4v1.4h-1.4zM453.9,598.3h1.4v1.4h-1.4zM426.8,618.8h1.4v1.4h-1.4zM412.6,621.7h1.4v1.4h-1.4zM467.8,600.1h1.4v1.4h-1.4zM465.2,628.3h1.4v1.4h-1.4zM480.7,602.6h1.4v1.4h-1.4zM406.4,606.5h1.4v1.4h-1.4zM414.7,618.0h1.4v1.4h-1.4zM414.9,615.2h1.4v1.4h-1.4zM426.0,613.1h1.4v1.4h-1.4zM388.9,601.6h1.4v1.4h-1.4zM409.5,600.1h1.4v1.4h-1.4zM472.2,605.5h1.4v1.4h-1.4zM414.6,605.2h1.4v1.4h-1.4zM472.2,611.2h1.4v1.4h-1.4zM456.3,602.9h1.4v1.4h-1.4zM464.9,604.9h1.4v1.4h-1.4zM403.4,607.0h1.4v1.4h-1.4zM404.5,608.6h1.4v1.4h-1.4zM460.5,615.4h1.4v1.4h-1.4zM456.9,610.3h1.4v1.4h-1.4zM476.7,608.3h1.4v1.4h-1.4zM463.7,596.1h1.4v1.4h-1.4zM427.7,622.2h1.4v1.4h-1.4zM473.8,613.3h1.4v1.4h-1.4zM453.1,616.5h1.4v1.4h-1.4zM443.3,611.1h1.4v1.4h-1.4zM421.9,599.6h1.4v1.4h-1.4zM421.0,602.3h1.4v1.4h-1.4zM435.8,607.9h1.4v1.4h-1.4zM457.3,606.7h1.4v1.4h-1.4zM479.6,612.8h1.4v1.4h-1.4zM465.9,629.6h1.4v1.4h-1.4zM479.2,603.2h1.4v1.4h-1.4zM463.0,598.5h1.4v1.4h-1.4zM465.9,609.5h1.4v1.4h-1.4zM471.3,607.2h1.4v1.4h-1.4zM401.4,610.1h1.4v1.4h-1.4zM446.0,608.8h1.4v1.4h-1.4zM403.9,616.5h1.4v1.4h-1.4zM469.2,633.3h1.4v1.4h-1.4zM443.1,609.0h1.4v1.4h-1.4zM417.7,620.7h1.4v1.4h-1.4zM448.2,603.2h1.4v1.4h-1.4zM434.6,609.4h1.4v1.4h-1.4zM438.2,617.4h1.4v1.4h-1.4zM472.2,632.3h1.4v1.4h-1.4zM432.8,604.5h1.4v1.4h-1.4zM432.6,599.4h1.4v1.4h-1.4zM412.2,614.3h1.4v1.4h-1.4zM480.2,629.0h1.4v1.4h-1.4zM471.7,597.8h1.4v1.4h-1.4zM443.5,608.8h1.4v1.4h-1.4zM403.1,609.8h1.4v1.4h-1.4zM480.1,638.9h1.4v1.4h-1.4zM466.1,622.3h1.4v1.4h-1.4zM442.9,621.2h1.4v1.4h-1.4zM457.6,599.2h1.4v1.4h-1.4zM456.7,595.7h1.4v1.4h-1.4zM408.2,608.6h1.4v1.4h-1.4zM431.0,601.6h1.4v1.4h-1.4zM475.1,614.3h1.4v1.4h-1.4zM466.7,598.2h1.4v1.4h-1.4zM484.2,608.8h1.4v1.4h-1.4zM475.4,629.8h1.4v1.4h-1.4zM409.1,613.6h1.4v1.4h-1.4zM418.6,603.3h1.4v1.4h-1.4zM402.7,613.1h1.4v1.4h-1.4zM388.2,608.5h1.4v1.4h-1.4zM473.8,628.5h1.4v1.4h-1.4zM421.2,618.7h1.4v1.4h-1.4zM448.3,608.0h1.4v1.4h-1.4zM429.7,619.7h1.4v1.4h-1.4zM460.1,609.1h1.4v1.4h-1.4zM463.4,607.8h1.4v1.4h-1.4zM436.7,601.7h1.4v1.4h-1.4zM408.1,612.1h1.4v1.4h-1.4zM418.8,614.9h1.4v1.4h-1.4zM418.8,601.3h1.4v1.4h-1.4zM469.8,626.8h1.4v1.4h-1.4zM448.0,619.3h1.4v1.4h-1.4zM479.5,603.3h1.4v1.4h-1.4zM408.2,615.4h1.4v1.4h-1.4zM475.8,615.2h1.4v1.4h-1.4zM410.2,620.5h1.4v1.4h-1.4zM437.4,621.9h1.4v1.4h-1.4zM451.4,614.5h1.4v1.4h-1.4zM464.5,607.7h1.4v1.4h-1.4zM413.9,610.9h1.4v1.4h-1.4zM481.9,613.7h1.4v1.4h-1.4zM476.4,604.7h1.4v1.4h-1.4zM442.6,606.7h1.4v1.4h-1.4zM466.0,631.7h1.4v1.4h-1.4zM472.0,621.2h1.4v1.4h-1.4zM484.6,606.6h1.4v1.4h-1.4zM430.6,611.5h1.4v1.4h-1.4zM399.9,609.5h1.4v1.4h-1.4zM438.0,611.5h1.4v1.4h-1.4zM444.1,620.1h1.4v1.4h-1.4zM457.0,600.9h1.4v1.4h-1.4zM451.5,612.6h1.4v1.4h-1.4zM451.6,615.0h1.4v1.4h-1.4zM476.0,622.8h1.4v1.4h-1.4zM453.0,609.7h1.4v1.4h-1.4zM478.4,613.3h1.4v1.4h-1.4zM438.0,613.4h1.4v1.4h-1.4zM466.3,632.6h1.4v1.4h-1.4zM475.9,618.7h1.4v1.4h-1.4zM471.6,615.8h1.4v1.4h-1.4zM448.6,611.4h1.4v1.4h-1.4zM472.2,616.8h1.4v1.4h-1.4zM456.2,625.2h1.4v1.4h-1.4zM480.2,609.2h1.4v1.4h-1.4zM479.4,614.1h1.4v1.4h-1.4zM416.1,606.5h1.4v1.4h-1.4zM432.9,623.4h1.4v1.4h-1.4zM431.1,620.5h1.4v1.4h-1.4zM414.7,599.1h1.4v1.4h-1.4zM471.4,610.0h1.4v1.4h-1.4zM478.6,617.3h1.4v1.4h-1.4zM402.5,617.8h1.4v1.4h-1.4zM414.2,598.0h1.4v1.4h-1.4zM474.8,597.2h1.4v1.4h-1.4zM422.4,596.6h1.4v1.4h-1.4zM468.5,596.5h1.4v1.4h-1.4zM391.6,601.1h1.4v1.4h-1.4zM475.2,606.5h1.4v1.4h-1.4zM403.3,602.8h1.4v1.4h-1.4zM458.5,626.6h1.4v1.4h-1.4zM459.3,600.8h1.4v1.4h-1.4zM477.0,621.8h1.4v1.4h-1.4zM444.6,599.6h1.4v1.4h-1.4zM467.4,632.0h1.4v1.4h-1.4zM438.3,608.8h1.4v1.4h-1.4zM444.1,604.4h1.4v1.4h-1.4zM460.1,602.8h1.4v1.4h-1.4zM478.3,613.9h1.4v1.4h-1.4zM468.2,616.4h1.4v1.4h-1.4zM479.3,635.5h1.4v1.4h-1.4zM450.1,621.9h1.4v1.4h-1.4zM456.2,619.1h1.4v1.4h-1.4zM444.7,606.3h1.4v1.4h-1.4zM460.4,614.8h1.4v1.4h-1.4zM406.9,610.7h1.4v1.4h-1.4zM463.1,619.6h1.4v1.4h-1.4zM432.8,616.6h1.4v1.4h-1.4zM442.4,604.0h1.4v1.4h-1.4zM431.2,599.7h1.4v1.4h-1.4zM396.5,613.2h1.4v1.4h-1.4zM420.9,613.0h1.4v1.4h-1.4zM403.8,603.7h1.4v1.4h-1.4zM433.8,608.9h1.4v1.4h-1.4zM478.2,618.2h1.4v1.4h-1.4zM395.8,605.4h1.4v1.4h-1.4zM406.1,601.7h1.4v1.4h-1.4zM409.6,617.3h1.4v1.4h-1.4zM401.2,613.5h1.4v1.4h-1.4zM394.9,606.7h1.4v1.4h-1.4zM404.6,600.5h1.4v1.4h-1.4zM409.8,617.4h1.4v1.4h-1.4zM421.2,605.6h1.4v1.4h-1.4zM401.8,609.3h1.4v1.4h-1.4zM395.9,603.0h1.4v1.4h-1.4zM434.0,624.6h1.4v1.4h-1.4zM468.6,628.1h1.4v1.4h-1.4zM455.3,601.9h1.4v1.4h-1.4zM407.3,615.0h1.4v1.4h-1.4zM424.1,618.0h1.4v1.4h-1.4zM453.4,618.1h1.4v1.4h-1.4zM452.8,599.9h1.4v1.4h-1.4zM442.3,615.0h1.4v1.4h-1.4zM476.1,612.7h1.4v1.4h-1.4zM441.9,602.0h1.4v1.4h-1.4zM440.9,616.4h1.4v1.4h-1.4zM484.4,600.2h1.4v1.4h-1.4zM444.2,606.8h1.4v1.4h-1.4zM455.5,615.8h1.4v1.4h-1.4zM402.4,605.7h1.4v1.4h-1.4zM444.5,614.7h1.4v1.4h-1.4zM425.4,599.6h1.4v1.4h-1.4zM404.8,600.4h1.4v1.4h-1.4zM468.8,603.9h1.4v1.4h-1.4zM461.9,599.1h1.4v1.4h-1.4zM403.5,600.9h1.4v1.4h-1.4zM469.9,601.5h1.4v1.4h-1.4zM462.8,611.3h1.4v1.4h-1.4zM477.7,608.7h1.4v1.4h-1.4zM413.0,599.1h1.4v1.4h-1.4zM455.2,604.2h1.4v1.4h-1.4zM399.6,609.7h1.4v1.4h-1.4zM419.4,609.2h1.4v1.4h-1.4zM419.0,604.8h1.4v1.4h-1.4zM457.0,624.1h1.4v1.4h-1.4zM427.5,597.4h1.4v1.4h-1.4zM469.7,598.7h1.4v1.4h-1.4zM479.8,614.0h1.4v1.4h-1.4zM424.5,601.3h1.4v1.4h-1.4zM470.5,603.1h1.4v1.4h-1.4zM472.5,632.6h1.4v1.4h-1.4zM455.7,597.6h1.4v1.4h-1.4zM415.9,617.2h1.4v1.4h-1.4zM457.9,621.6h1.4v1.4h-1.4zM457.0,613.8h1.4v1.4h-1.4zM409.7,613.1h1.4v1.4h-1.4zM470.0,624.8h1.4v1.4h-1.4zM417.1,597.8h1.4v1.4h-1.4zM469.2,632.3h1.4v1.4h-1.4zM469.1,596.7h1.4v1.4h-1.4zM392.3,603.0h1.4v1.4h-1.4zM413.5,610.5h1.4v1.4h-1.4zM402.7,608.4h1.4v1.4h-1.4zM434.5,605.7h1.4v1.4h-1.4zM424.3,608.0h1.4v1.4h-1.4zM468.1,615.8h1.4v1.4h-1.4zM464.1,600.2h1.4v1.4h-1.4zM436.8,610.3h1.4v1.4h-1.4zM460.9,633.1h1.4v1.4h-1.4zM474.9,602.1h1.4v1.4h-1.4zM429.6,609.9h1.4v1.4h-1.4zM476.6,615.2h1.4v1.4h-1.4zM462.6,633.3h1.4v1.4h-1.4zM465.2,623.8h1.4v1.4h-1.4zM409.2,597.4h1.4v1.4h-1.4zM432.0,608.7h1.4v1.4h-1.4zM472.1,605.1h1.4v1.4h-1.4zM412.3,615.0h1.4v1.4h-1.4zM468.4,616.2h1.4v1.4h-1.4zM438.2,603.4h1.4v1.4h-1.4zM408.5,621.4h1.4v1.4h-1.4zM426.4,601.7h1.4v1.4h-1.4zM452.7,625.8h1.4v1.4h-1.4zM457.4,610.5h1.4v1.4h-1.4zM393.2,603.1h1.4v1.4h-1.4zM459.9,616.3h1.4v1.4h-1.4zM466.7,597.8h1.4v1.4h-1.4zM443.4,605.9h1.4v1.4h-1.4zM399.1,614.9h1.4v1.4h-1.4zM477.6,609.2h1.4v1.4h-1.4zM443.0,614.2h1.4v1.4h-1.4zM397.8,599.9h1.4v1.4h-1.4zM393.9,611.8h1.4v1.4h-1.4zM403.4,605.5h1.4v1.4h-1.4zM443.3,608.7h1.4v1.4h-1.4zM444.6,609.1h1.4v1.4h-1.4zM466.1,601.6h1.4v1.4h-1.4zM394.3,610.5h1.4v1.4h-1.4zM424.1,617.9h1.4v1.4h-1.4zM427.9,601.7h1.4v1.4h-1.4zM394.5,603.4h1.4v1.4h-1.4zM395.1,601.4h1.4v1.4h-1.4zM462.0,630.7h1.4v1.4h-1.4zM413.9,618.3h1.4v1.4h-1.4zM463.1,605.4h1.4v1.4h-1.4zM416.4,621.5h1.4v1.4h-1.4zM436.3,615.4h1.4v1.4h-1.4zM431.1,604.7h1.4v1.4h-1.4zM442.1,620.5h1.4v1.4h-1.4zM466.8,634.7h1.4v1.4h-1.4zM391.2,608.2h1.4v1.4h-1.4zM441.4,621.2h1.4v1.4h-1.4zM441.5,606.1h1.4v1.4h-1.4zM469.6,609.2h1.4v1.4h-1.4zM415.4,611.5h1.4v1.4h-1.4zM439.8,606.4h1.4v1.4h-1.4zM438.8,614.2h1.4v1.4h-1.4zM476.6,638.1h1.4v1.4h-1.4zM446.3,610.8h1.4v1.4h-1.4zM477.7,603.9h1.4v1.4h-1.4zM410.2,598.0h1.4v1.4h-1.4zM449.3,605.5h1.4v1.4h-1.4zM440.8,611.5h1.4v1.4h-1.4zM450.4,611.1h1.4v1.4h-1.4zM394.3,601.6h1.4v1.4h-1.4zM431.2,623.6h1.4v1.4h-1.4zM410.0,614.3h1.4v1.4h-1.4zM452.4,628.0h1.4v1.4h-1.4zM417.1,604.3h1.4v1.4h-1.4zM397.3,600.4h1.4v1.4h-1.4zM445.6,625.3h1.4v1.4h-1.4zM432.0,602.7h1.4v1.4h-1.4zM432.5,605.8h1.4v1.4h-1.4zM477.0,611.3h1.4v1.4h-1.4zM410.2,620.3h1.4v1.4h-1.4zM444.5,605.3h1.4v1.4h-1.4zM443.9,617.5h1.4v1.4h-1.4zM455.2,612.0h1.4v1.4h-1.4zM409.2,603.2h1.4v1.4h-1.4zM419.8,620.4h1.4v1.4h-1.4zM428.8,618.4h1.4v1.4h-1.4zM418.7,597.3h1.4v1.4h-1.4zM394.3,600.5h1.4v1.4h-1.4zM442.5,598.0h1.4v1.4h-1.4zM440.1,611.7h1.4v1.4h-1.4zM455.5,610.4h1.4v1.4h-1.4zM421.1,616.9h1.4v1.4h-1.4zM476.9,598.2h1.4v1.4h-1.4zM454.2,598.8h1.4v1.4h-1.4zM429.5,623.4h1.4v1.4h-1.4zM448.3,612.0h1.4v1.4h-1.4zM424.5,611.1h1.4v1.4h-1.4zM471.8,624.1h1.4v1.4h-1.4zM465.2,620.7h1.4v1.4h-1.4zM423.8,620.3h1.4v1.4h-1.4zM437.1,605.9h1.4v1.4h-1.4zM415.8,597.9h1.4v1.4h-1.4zM463.9,627.3h1.4v1.4h-1.4zM455.7,602.8h1.4v1.4h-1.4zM429.4,612.3h1.4v1.4h-1.4zM450.4,621.8h1.4v1.4h-1.4zM425.3,608.9h1.4v1.4h-1.4zM396.5,614.7h1.4v1.4h-1.4zM410.2,614.1h1.4v1.4h-1.4zM413.3,606.0h1.4v1.4h-1.4zM425.2,617.1h1.4v1.4h-1.4zM476.1,602.3h1.4v1.4h-1.4zM435.6,622.5h1.4v1.4h-1.4zM435.1,619.7h1.4v1.4h-1.4zM476.6,617.9h1.4v1.4h-1.4zM468.6,623.7h1.4v1.4h-1.4zM450.1,613.9h1.4v1.4h-1.4zM475.2,611.0h1.4v1.4h-1.4zM458.3,625.2h1.4v1.4h-1.4zM455.2,611.3h1.4v1.4h-1.4zM427.2,599.2h1.4v1.4h-1.4zM401.2,601.5h1.4v1.4h-1.4zM459.6,612.4h1.4v1.4h-1.4zM480.4,594.5h1.4v1.4h-1.4zM473.1,633.8h1.4v1.4h-1.4zM407.3,602.3h1.4v1.4h-1.4zM478.5,630.3h1.4v1.4h-1.4zM481.0,627.6h1.4v1.4h-1.4zM452.3,608.2h1.4v1.4h-1.4zM411.5,615.2h1.4v1.4h-1.4zM482.2,622.1h1.4v1.4h-1.4zM427.4,600.7h1.4v1.4h-1.4zM461.3,613.4h1.4v1.4h-1.4zM474.5,608.2h1.4v1.4h-1.4zM416.8,616.3h1.4v1.4h-1.4zM473.2,626.2h1.4v1.4h-1.4zM418.4,605.2h1.4v1.4h-1.4zM440.6,606.0h1.4v1.4h-1.4zM441.0,599.5h1.4v1.4h-1.4zM458.7,613.2h1.4v1.4h-1.4zM413.6,613.8h1.4v1.4h-1.4zM443.2,600.6h1.4v1.4h-1.4zM464.2,615.2h1.4v1.4h-1.4zM459.8,627.6h1.4v1.4h-1.4zM459.4,598.2h1.4v1.4h-1.4zM454.7,614.1h1.4v1.4h-1.4zM437.9,602.5h1.4v1.4h-1.4zM471.0,629.3h1.4v1.4h-1.4zM424.9,604.6h1.4v1.4h-1.4zM450.7,616.1h1.4v1.4h-1.4zM398.3,611.9h1.4v1.4h-1.4zM418.7,603.3h1.4v1.4h-1.4zM458.8,609.9h1.4v1.4h-1.4zM453.6,599.8h1.4v1.4h-1.4zM425.4,599.6h1.4v1.4h-1.4zM438.2,599.7h1.4v1.4h-1.4zM456.5,597.5h1.4v1.4h-1.4zM473.0,635.0h1.4v1.4h-1.4zM467.6,610.5h1.4v1.4h-1.4zM432.5,602.7h1.4v1.4h-1.4zM420.1,604.7h1.4v1.4h-1.4zM392.5,616.7h1.4v1.4h-1.4zM457.9,599.8h1.4v1.4h-1.4zM479.4,630.0h1.4v1.4h-1.4zM429.4,606.1h1.4v1.4h-1.4zM468.3,598.9h1.4v1.4h-1.4zM458.7,627.7h1.4v1.4h-1.4zM419.2,613.7h1.4v1.4h-1.4zM460.3,615.8h1.4v1.4h-1.4zM477.8,624.9h1.4v1.4h-1.4zM469.6,639.1h1.4v1.4h-1.4zM409.7,597.2h1.4v1.4h-1.4zM475.0,625.9h1.4v1.4h-1.4zM473.9,620.0h1.4v1.4h-1.4zM453.1,607.6h1.4v1.4h-1.4zM455.1,626.8h1.4v1.4h-1.4zM440.5,622.9h1.4v1.4h-1.4zM441.2,610.3h1.4v1.4h-1.4zM455.1,626.9h1.4v1.4h-1.4zM431.5,624.2h1.4v1.4h-1.4zM452.8,599.3h1.4v1.4h-1.4zM430.2,616.4h1.4v1.4h-1.4zM463.7,626.5h1.4v1.4h-1.4zM457.9,625.0h1.4v1.4h-1.4zM413.2,613.2h1.4v1.4h-1.4zM399.4,615.6h1.4v1.4h-1.4zM417.9,601.3h1.4v1.4h-1.4zM409.3,603.0h1.4v1.4h-1.4zM463.5,617.5h1.4v1.4h-1.4zM422.2,611.8h1.4v1.4h-1.4zM471.6,612.7h1.4v1.4h-1.4zM408.9,613.2h1.4v1.4h-1.4zM454.1,622.3h1.4v1.4h-1.4zM467.9,638.4h1.4v1.4h-1.4zM450.9,618.6h1.4v1.4h-1.4zM460.1,600.1h1.4v1.4h-1.4zM462.3,605.1h1.4v1.4h-1.4zM468.9,615.3h1.4v1.4h-1.4zM387.6,606.8h1.4v1.4h-1.4zM460.9,599.9h1.4v1.4h-1.4zM480.9,601.9h1.4v1.4h-1.4zM472.9,598.7h1.4v1.4h-1.4zM429.0,601.3h1.4v1.4h-1.4zM468.9,606.0h1.4v1.4h-1.4zM389.9,604.0h1.4v1.4h-1.4zM438.2,603.1h1.4v1.4h-1.4zM447.5,604.7h1.4v1.4h-1.4zM406.9,608.8h1.4v1.4h-1.4zM450.3,628.3h1.4v1.4h-1.4zM426.2,614.4h1.4v1.4h-1.4zM425.2,617.4h1.4v1.4h-1.4zM433.8,602.8h1.4v1.4h-1.4zM425.9,621.8h1.4v1.4h-1.4zM436.3,598.8h1.4v1.4h-1.4zM447.9,615.4h1.4v1.4h-1.4zM470.3,637.3h1.4v1.4h-1.4zM442.5,598.9h1.4v1.4h-1.4zM481.9,597.7h1.4v1.4h-1.4zM388.4,606.4h1.4v1.4h-1.4zM478.6,613.1h1.4v1.4h-1.4zM412.5,616.6h1.4v1.4h-1.4zM402.5,609.8h1.4v1.4h-1.4zM425.1,604.0h1.4v1.4h-1.4zM418.8,616.7h1.4v1.4h-1.4zM470.7,605.7h1.4v1.4h-1.4zM408.4,601.3h1.4v1.4h-1.4zM478.7,625.3h1.4v1.4h-1.4zM427.2,609.1h1.4v1.4h-1.4zM420.0,623.5h1.4v1.4h-1.4zM462.0,630.4h1.4v1.4h-1.4zM476.0,597.4h1.4v1.4h-1.4zM436.0,613.7h1.4v1.4h-1.4zM466.2,613.0h1.4v1.4h-1.4zM411.6,604.5h1.4v1.4h-1.4zM419.6,607.7h1.4v1.4h-1.4zM445.7,612.4h1.4v1.4h-1.4zM408.9,601.3h1.4v1.4h-1.4zM412.1,598.6h1.4v1.4h-1.4zM406.1,608.4h1.4v1.4h-1.4zM413.7,604.8h1.4v1.4h-1.4zM468.5,627.7h1.4v1.4h-1.4zM463.9,623.9h1.4v1.4h-1.4zM397.8,612.6h1.4v1.4h-1.4zM421.7,622.9h1.4v1.4h-1.4zM458.5,605.5h1.4v1.4h-1.4zM471.3,615.3h1.4v1.4h-1.4zM442.6,609.6h1.4v1.4h-1.4zM454.5,597.8h1.4v1.4h-1.4zM409.2,608.3h1.4v1.4h-1.4zM464.1,629.2h1.4v1.4h-1.4zM467.0,626.6h1.4v1.4h-1.4zM427.6,604.4h1.4v1.4h-1.4zM448.6,602.3h1.4v1.4h-1.4zM439.6,625.2h1.4v1.4h-1.4zM430.1,598.7h1.4v1.4h-1.4zM424.6,609.3h1.4v1.4h-1.4zM472.2,602.9h1.4v1.4h-1.4zM408.5,603.0h1.4v1.4h-1.4zM478.6,631.7h1.4v1.4h-1.4zM413.9,600.9h1.4v1.4h-1.4zM444.8,606.4h1.4v1.4h-1.4zM446.7,616.7h1.4v1.4h-1.4zM452.6,610.1h1.4v1.4h-1.4zM447.3,607.0h1.4v1.4h-1.4zM451.3,626.5h1.4v1.4h-1.4zM429.5,600.1h1.4v1.4h-1.4zM410.4,620.0h1.4v1.4h-1.4zM469.5,608.4h1.4v1.4h-1.4zM412.8,612.9h1.4v1.4h-1.4zM405.0,598.5h1.4v1.4h-1.4zM465.3,629.8h1.4v1.4h-1.4zM462.0,606.4h1.4v1.4h-1.4zM469.1,603.9h1.4v1.4h-1.4zM442.5,600.4h1.4v1.4h-1.4zM445.8,606.5h1.4v1.4h-1.4zM480.2,617.3h1.4v1.4h-1.4zM462.6,616.3h1.4v1.4h-1.4zM479.7,610.4h1.4v1.4h-1.4zM476.8,599.0h1.4v1.4h-1.4zM451.7,615.6h1.4v1.4h-1.4zM435.1,606.9h1.4v1.4h-1.4zM455.2,604.9h1.4v1.4h-1.4zM475.4,637.7h1.4v1.4h-1.4zM405.2,599.8h1.4v1.4h-1.4zM402.4,609.3h1.4v1.4h-1.4zM460.8,612.8h1.4v1.4h-1.4zM467.1,610.9h1.4v1.4h-1.4zM396.2,613.3h1.4v1.4h-1.4zM418.7,616.9h1.4v1.4h-1.4zM454.4,623.4h1.4v1.4h-1.4zM461.2,603.5h1.4v1.4h-1.4zM475.8,611.1h1.4v1.4h-1.4zM472.1,631.4h1.4v1.4h-1.4zM456.6,599.4h1.4v1.4h-1.4zM458.6,606.4h1.4v1.4h-1.4zM475.3,607.7h1.4v1.4h-1.4zM401.2,608.0h1.4v1.4h-1.4zM435.3,613.0h1.4v1.4h-1.4zM420.5,622.6h1.4v1.4h-1.4zM465.3,609.4h1.4v1.4h-1.4zM399.3,611.7h1.4v1.4h-1.4zM469.9,622.7h1.4v1.4h-1.4zM447.0,610.0h1.4v1.4h-1.4zM464.0,603.4h1.4v1.4h-1.4zM458.9,617.2h1.4v1.4h-1.4zM470.5,639.9h1.4v1.4h-1.4zM482.4,624.5h1.4v1.4h-1.4zM459.0,599.9h1.4v1.4h-1.4zM467.4,617.9h1.4v1.4h-1.4zM476.5,617.9h1.4v1.4h-1.4zM409.9,607.2h1.4v1.4h-1.4zM417.7,609.3h1.4v1.4h-1.4zM465.3,608.4h1.4v1.4h-1.4zM418.8,603.2h1.4v1.4h-1.4zM461.6,602.5h1.4v1.4h-1.4zM475.7,605.1h1.4v1.4h-1.4zM468.7,637.3h1.4v1.4h-1.4zM454.4,603.0h1.4v1.4h-1.4zM388.1,609.2h1.4v1.4h-1.4zM472.2,604.6h1.4v1.4h-1.4zM450.8,610.0h1.4v1.4h-1.4zM394.6,611.7h1.4v1.4h-1.4zM416.8,599.0h1.4v1.4h-1.4zM473.6,628.2h1.4v1.4h-1.4zM421.8,613.5h1.4v1.4h-1.4zM470.3,614.0h1.4v1.4h-1.4zM397.5,614.4h1.4v1.4h-1.4zM455.5,598.7h1.4v1.4h-1.4zM468.2,634.7h1.4v1.4h-1.4zM436.7,609.3h1.4v1.4h-1.4zM410.1,615.9h1.4v1.4h-1.4zM413.6,609.0h1.4v1.4h-1.4zM457.5,610.6h1.4v1.4h-1.4zM439.6,601.1h1.4v1.4h-1.4zM419.7,605.9h1.4v1.4h-1.4zM392.2,603.6h1.4v1.4h-1.4zM403.8,601.3h1.4v1.4h-1.4zM454.1,614.1h1.4v1.4h-1.4zM459.6,600.7h1.4v1.4h-1.4zM403.8,607.6h1.4v1.4h-1.4zM444.8,599.9h1.4v1.4h-1.4zM406.1,605.6h1.4v1.4h-1.4zM460.7,632.9h1.4v1.4h-1.4zM451.9,627.5h1.4v1.4h-1.4zM451.8,613.3h1.4v1.4h-1.4zM444.0,607.6h1.4v1.4h-1.4zM467.3,610.3h1.4v1.4h-1.4zM459.0,607.6h1.4v1.4h-1.4zM432.3,604.8h1.4v1.4h-1.4zM458.5,625.4h1.4v1.4h-1.4zM421.3,598.8h1.4v1.4h-1.4zM460.6,601.0h1.4v1.4h-1.4zM430.4,596.1h1.4v1.4h-1.4zM459.5,620.2h1.4v1.4h-1.4zM454.9,601.3h1.4v1.4h-1.4zM478.9,626.5h1.4v1.4h-1.4zM427.2,620.8h1.4v1.4h-1.4zM482.7,611.7h1.4v1.4h-1.4zM436.0,617.0h1.4v1.4h-1.4zM455.4,622.5h1.4v1.4h-1.4zM480.5,599.3h1.4v1.4h-1.4zM448.8,611.2h1.4v1.4h-1.4zM462.6,627.1h1.4v1.4h-1.4zM477.0,609.0h1.4v1.4h-1.4zM472.6,614.9h1.4v1.4h-1.4zM458.9,618.1h1.4v1.4h-1.4zM472.4,619.0h1.4v1.4h-1.4zM436.4,620.9h1.4v1.4h-1.4zM393.5,609.7h1.4v1.4h-1.4zM442.4,616.2h1.4v1.4h-1.4zM480.5,635.8h1.4v1.4h-1.4zM471.9,638.8h1.4v1.4h-1.4zM459.4,624.5h1.4v1.4h-1.4zM415.1,617.0h1.4v1.4h-1.4zM435.4,599.5h1.4v1.4h-1.4zM446.3,625.1h1.4v1.4h-1.4zM421.8,619.8h1.4v1.4h-1.4zM404.1,616.8h1.4v1.4h-1.4zM477.9,605.3h1.4v1.4h-1.4zM409.2,617.9h1.4v1.4h-1.4zM413.0,602.4h1.4v1.4h-1.4zM441.8,607.8h1.4v1.4h-1.4zM391.4,611.5h1.4v1.4h-1.4zM481.5,597.7h1.4v1.4h-1.4zM437.8,603.3h1.4v1.4h-1.4zM483.9,617.6h1.4v1.4h-1.4zM402.2,615.7h1.4v1.4h-1.4zM457.6,624.1h1.4v1.4h-1.4zM435.1,601.7h1.4v1.4h-1.4zM412.5,618.8h1.4v1.4h-1.4zM422.9,598.6h1.4v1.4h-1.4zM436.9,606.6h1.4v1.4h-1.4zM425.5,610.1h1.4v1.4h-1.4zM410.9,603.5h1.4v1.4h-1.4zM427.2,609.6h1.4v1.4h-1.4zM426.5,615.4h1.4v1.4h-1.4zM451.4,624.0h1.4v1.4h-1.4zM408.2,599.9h1.4v1.4h-1.4zM467.7,610.2h1.4v1.4h-1.4zM394.0,607.3h1.4v1.4h-1.4zM447.2,601.2h1.4v1.4h-1.4zM440.3,613.4h1.4v1.4h-1.4zM405.9,604.4h1.4v1.4h-1.4zM475.7,607.4h1.4v1.4h-1.4zM402.8,614.8h1.4v1.4h-1.4zM446.5,614.9h1.4v1.4h-1.4zM444.8,622.5h1.4v1.4h-1.4zM453.4,621.4h1.4v1.4h-1.4zM400.3,612.1h1.4v1.4h-1.4zM460.8,600.6h1.4v1.4h-1.4zM431.3,604.8h1.4v1.4h-1.4zM481.1,596.7h1.4v1.4h-1.4zM446.2,617.7h1.4v1.4h-1.4zM412.2,607.7h1.4v1.4h-1.4zM477.3,626.8h1.4v1.4h-1.4zM401.4,614.2h1.4v1.4h-1.4zM460.0,610.8h1.4v1.4h-1.4zM460.9,603.0h1.4v1.4h-1.4zM437.1,612.3h1.4v1.4h-1.4zM412.9,616.9h1.4v1.4h-1.4zM399.1,598.2h1.4v1.4h-1.4zM407.1,606.5h1.4v1.4h-1.4zM409.7,602.7h1.4v1.4h-1.4zM475.4,605.7h1.4v1.4h-1.4zM399.9,607.1h1.4v1.4h-1.4zM450.2,625.0h1.4v1.4h-1.4zM481.4,615.5h1.4v1.4h-1.4zM411.0,598.4h1.4v1.4h-1.4zM469.8,616.2h1.4v1.4h-1.4zM451.0,605.4h1.4v1.4h-1.4zM457.2,607.6h1.4v1.4h-1.4zM429.0,619.0h1.4v1.4h-1.4zM402.2,599.2h1.4v1.4h-1.4zM464.0,618.8h1.4v1.4h-1.4zM430.6,622.8h1.4v1.4h-1.4zM461.6,628.5h1.4v1.4h-1.4zM454.4,626.2h1.4v1.4h-1.4zM424.5,610.8h1.4v1.4h-1.4zM449.7,627.0h1.4v1.4h-1.4zM433.6,610.3h1.4v1.4h-1.4zM407.3,602.2h1.4v1.4h-1.4zM479.2,605.8h1.4v1.4h-1.4zM430.3,600.4h1.4v1.4h-1.4zM426.3,598.2h1.4v1.4h-1.4zM473.2,613.5h1.4v1.4h-1.4zM475.6,624.4h1.4v1.4h-1.4zM416.9,608.0h1.4v1.4h-1.4zM482.1,601.1h1.4v1.4h-1.4zM473.2,635.8h1.4v1.4h-1.4zM426.6,606.5h1.4v1.4h-1.4zM432.6,600.5h1.4v1.4h-1.4zM473.0,604.6h1.4v1.4h-1.4zM466.4,604.0h1.4v1.4h-1.4zM428.6,606.0h1.4v1.4h-1.4zM460.4,616.9h1.4v1.4h-1.4zM391.9,610.7h1.4v1.4h-1.4zM428.4,622.0h1.4v1.4h-1.4zM471.2,596.3h1.4v1.4h-1.4zM476.8,612.6h1.4v1.4h-1.4zM469.8,636.1h1.4v1.4h-1.4zM413.3,616.1h1.4v1.4h-1.4zM446.8,620.0h1.4v1.4h-1.4zM420.2,602.8h1.4v1.4h-1.4zM463.2,615.1h1.4v1.4h-1.4zM413.4,616.2h1.4v1.4h-1.4zM392.4,596.8h1.4v1.4h-1.4zM405.9,610.9h1.4v1.4h-1.4zM413.8,605.9h1.4v1.4h-1.4zM458.8,614.4h1.4v1.4h-1.4zM411.0,599.8h1.4v1.4h-1.4zM426.8,614.4h1.4v1.4h-1.4zM441.6,605.8h1.4v1.4h-1.4zM419.3,599.7h1.4v1.4h-1.4zM417.0,597.3h1.4v1.4h-1.4zM478.1,605.8h1.4v1.4h-1.4zM446.9,628.0h1.4v1.4h-1.4zM412.7,599.8h1.4v1.4h-1.4zM440.2,611.8h1.4v1.4h-1.4zM478.1,600.9h1.4v1.4h-1.4zM392.3,612.6h1.4v1.4h-1.4zM480.1,626.2h1.4v1.4h-1.4zM460.9,599.6h1.4v1.4h-1.4zM476.1,609.2h1.4v1.4h-1.4zM444.4,603.3h1.4v1.4h-1.4zM467.8,617.0h1.4v1.4h-1.4zM456.2,603.4h1.4v1.4h-1.4zM415.9,605.2h1.4v1.4h-1.4zM450.1,617.6h1.4v1.4h-1.4zM415.6,615.6h1.4v1.4h-1.4zM432.7,618.6h1.4v1.4h-1.4zM469.0,625.4h1.4v1.4h-1.4zM404.9,599.7h1.4v1.4h-1.4zM468.9,617.1h1.4v1.4h-1.4zM432.0,602.7h1.4v1.4h-1.4zM415.3,609.6h1.4v1.4h-1.4zM477.4,631.5h1.4v1.4h-1.4zM432.9,597.5h1.4v1.4h-1.4zM478.3,605.6h1.4v1.4h-1.4zM476.4,623.9h1.4v1.4h-1.4zM442.7,606.0h1.4v1.4h-1.4zM461.3,607.0h1.4v1.4h-1.4zM395.8,600.3h1.4v1.4h-1.4zM393.2,605.6h1.4v1.4h-1.4zM431.7,602.7h1.4v1.4h-1.4zM446.6,616.1h1.4v1.4h-1.4zM459.6,624.6h1.4v1.4h-1.4zM473.4,625.0h1.4v1.4h-1.4zM472.3,612.2h1.4v1.4h-1.4zM445.0,625.4h1.4v1.4h-1.4zM430.8,604.3h1.4v1.4h-1.4zM469.2,627.0h1.4v1.4h-1.4zM468.5,611.8h1.4v1.4h-1.4zM451.3,612.6h1.4v1.4h-1.4zM458.3,617.8h1.4v1.4h-1.4zM401.8,613.8h1.4v1.4h-1.4zM448.7,601.0h1.4v1.4h-1.4zM460.3,603.7h1.4v1.4h-1.4zM401.7,608.9h1.4v1.4h-1.4zM459.6,602.0h1.4v1.4h-1.4zM457.1,622.6h1.4v1.4h-1.4zM452.3,602.5h1.4v1.4h-1.4zM478.4,627.4h1.4v1.4h-1.4zM471.3,634.6h1.4v1.4h-1.4zM454.4,631.6h1.4v1.4h-1.4zM422.2,620.0h1.4v1.4h-1.4zM434.7,605.9h1.4v1.4h-1.4zM466.0,621.3h1.4v1.4h-1.4zM464.5,614.8h1.4v1.4h-1.4zM409.5,602.8h1.4v1.4h-1.4zM456.0,619.1h1.4v1.4h-1.4zM481.8,600.4h1.4v1.4h-1.4zM449.7,608.1h1.4v1.4h-1.4zM464.9,629.6h1.4v1.4h-1.4zM434.4,608.7h1.4v1.4h-1.4zM464.8,605.7h1.4v1.4h-1.4zM424.2,599.0h1.4v1.4h-1.4zM465.7,601.6h1.4v1.4h-1.4zM430.7,624.5h1.4v1.4h-1.4zM423.3,617.6h1.4v1.4h-1.4zM453.4,613.8h1.4v1.4h-1.4zM473.9,601.6h1.4v1.4h-1.4zM469.8,633.6h1.4v1.4h-1.4zM465.9,611.9h1.4v1.4h-1.4zM450.1,616.1h1.4v1.4h-1.4zM466.5,600.0h1.4v1.4h-1.4zM436.8,624.6h1.4v1.4h-1.4zM441.0,598.6h1.4v1.4h-1.4zM402.6,613.5h1.4v1.4h-1.4zM453.3,605.0h1.4v1.4h-1.4zM425.3,611.9h1.4v1.4h-1.4zM442.7,618.3h1.4v1.4h-1.4zM451.9,605.0h1.4v1.4h-1.4zM453.6,626.2h1.4v1.4h-1.4zM438.9,604.5h1.4v1.4h-1.4zM471.4,611.6h1.4v1.4h-1.4zM422.6,616.3h1.4v1.4h-1.4zM431.3,617.2h1.4v1.4h-1.4zM473.9,625.7h1.4v1.4h-1.4zM480.9,615.5h1.4v1.4h-1.4zM467.6,602.3h1.4v1.4h-1.4zM476.6,600.1h1.4v1.4h-1.4zM429.9,607.6h1.4v1.4h-1.4zM429.2,606.1h1.4v1.4h-1.4zM477.1,629.9h1.4v1.4h-1.4zM448.9,612.7h1.4v1.4h-1.4zM437.7,601.3h1.4v1.4h-1.4zM439.5,620.9h1.4v1.4h-1.4zM445.3,595.9h1.4v1.4h-1.4zM429.9,603.4h1.4v1.4h-1.4zM397.4,607.0h1.4v1.4h-1.4zM431.0,597.2h1.4v1.4h-1.4zM451.3,623.6h1.4v1.4h-1.4zM410.7,608.6h1.4v1.4h-1.4zM415.0,620.4h1.4v1.4h-1.4zM465.7,636.0h1.4v1.4h-1.4zM403.9,615.3h1.4v1.4h-1.4zM465.5,622.8h1.4v1.4h-1.4zM472.4,635.8h1.4v1.4h-1.4zM464.9,597.3h1.4v1.4h-1.4zM459.3,624.9h1.4v1.4h-1.4zM476.3,628.3h1.4v1.4h-1.4zM476.9,624.2h1.4v1.4h-1.4zM482.6,602.2h1.4v1.4h-1.4zM448.0,619.9h1.4v1.4h-1.4zM449.6,615.9h1.4v1.4h-1.4zM468.3,619.2h1.4v1.4h-1.4zM426.3,613.7h1.4v1.4h-1.4zM400.9,609.6h1.4v1.4h-1.4zM426.9,623.4h1.4v1.4h-1.4zM426.0,602.2h1.4v1.4h-1.4zM437.1,603.5h1.4v1.4h-1.4zM437.0,626.3h1.4v1.4h-1.4zM422.2,605.7h1.4v1.4h-1.4zM479.5,625.5h1.4v1.4h-1.4zM402.8,618.4h1.4v1.4h-1.4zM481.0,628.5h1.4v1.4h-1.4zM443.6,604.2h1.4v1.4h-1.4zM409.3,597.2h1.4v1.4h-1.4zM411.7,600.3h1.4v1.4h-1.4zM414.5,602.0h1.4v1.4h-1.4zM421.5,597.8h1.4v1.4h-1.4zM482.8,606.5h1.4v1.4h-1.4zM444.8,600.4h1.4v1.4h-1.4zM407.7,603.8h1.4v1.4h-1.4zM428.0,617.6h1.4v1.4h-1.4zM436.9,604.9h1.4v1.4h-1.4zM475.3,630.0h1.4v1.4h-1.4zM455.9,601.3h1.4v1.4h-1.4zM402.3,599.7h1.4v1.4h-1.4zM475.7,617.8h1.4v1.4h-1.4zM422.4,606.4h1.4v1.4h-1.4zM398.5,609.2h1.4v1.4h-1.4zM481.2,600.4h1.4v1.4h-1.4zM451.3,596.7h1.4v1.4h-1.4zM427.5,605.7h1.4v1.4h-1.4zM468.4,617.8h1.4v1.4h-1.4zM428.4,625.3h1.4v1.4h-1.4zM458.6,628.4h1.4v1.4h-1.4zM460.6,627.2h1.4v1.4h-1.4zM407.0,616.2h1.4v1.4h-1.4zM456.7,608.4h1.4v1.4h-1.4zM478.2,601.6h1.4v1.4h-1.4zM453.8,601.1h1.4v1.4h-1.4zM463.3,611.8h1.4v1.4h-1.4zM431.1,621.0h1.4v1.4h-1.4zM441.3,600.8h1.4v1.4h-1.4zM459.9,633.8h1.4v1.4h-1.4zM447.9,611.4h1.4v1.4h-1.4zM394.0,603.8h1.4v1.4h-1.4zM467.7,615.4h1.4v1.4h-1.4zM406.0,607.1h1.4v1.4h-1.4zM418.9,608.0h1.4v1.4h-1.4zM467.7,635.1h1.4v1.4h-1.4zM412.9,611.2h1.4v1.4h-1.4zM458.7,598.5h1.4v1.4h-1.4zM421.1,611.6h1.4v1.4h-1.4zM470.8,633.9h1.4v1.4h-1.4zM403.1,616.4h1.4v1.4h-1.4zM415.3,610.4h1.4v1.4h-1.4zM441.8,623.6h1.4v1.4h-1.4zM386.3,601.2h1.4v1.4h-1.4zM466.7,616.4h1.4v1.4h-1.4zM467.3,631.1h1.4v1.4h-1.4zM435.8,623.5h1.4v1.4h-1.4zM448.6,616.4h1.4v1.4h-1.4zM455.8,624.9h1.4v1.4h-1.4zM457.2,620.7h1.4v1.4h-1.4zM423.3,616.0h1.4v1.4h-1.4zM412.7,603.5h1.4v1.4h-1.4zM472.7,604.6h1.4v1.4h-1.4zM475.9,611.4h1.4v1.4h-1.4zM475.3,598.0h1.4v1.4h-1.4zM404.0,599.9h1.4v1.4h-1.4zM476.5,621.6h1.4v1.4h-1.4zM460.1,597.7h1.4v1.4h-1.4zM442.6,605.1h1.4v1.4h-1.4zM457.9,605.9h1.4v1.4h-1.4zM460.9,608.1h1.4v1.4h-1.4zM467.7,603.2h1.4v1.4h-1.4zM473.9,606.2h1.4v1.4h-1.4zM446.0,610.6h1.4v1.4h-1.4zM471.0,631.8h1.4v1.4h-1.4zM428.5,606.2h1.4v1.4h-1.4zM409.2,603.3h1.4v1.4h-1.4zM466.3,605.1h1.4v1.4h-1.4zM475.1,633.9h1.4v1.4h-1.4zM388.9,602.0h1.4v1.4h-1.4zM456.8,618.0h1.4v1.4h-1.4zM441.9,616.2h1.4v1.4h-1.4zM473.7,594.2h1.4v1.4h-1.4zM400.6,614.4h1.4v1.4h-1.4zM449.2,611.7h1.4v1.4h-1.4zM413.4,620.1h1.4v1.4h-1.4zM478.8,598.6h1.4v1.4h-1.4zM401.5,615.0h1.4v1.4h-1.4zM475.4,615.2h1.4v1.4h-1.4zM471.1,601.4h1.4v1.4h-1.4zM456.1,628.4h1.4v1.4h-1.4zM433.8,615.0h1.4v1.4h-1.4zM484.4,624.2h1.4v1.4h-1.4zM440.9,613.2h1.4v1.4h-1.4zM473.6,612.7h1.4v1.4h-1.4zM471.5,635.9h1.4v1.4h-1.4zM458.2,633.4h1.4v1.4h-1.4zM429.9,620.3h1.4v1.4h-1.4zM418.6,620.2h1.4v1.4h-1.4zM419.4,610.3h1.4v1.4h-1.4zM414.7,613.3h1.4v1.4h-1.4zM445.1,614.1h1.4v1.4h-1.4zM467.1,629.8h1.4v1.4h-1.4zM439.6,621.8h1.4v1.4h-1.4zM469.6,623.4h1.4v1.4h-1.4zM456.6,615.3h1.4v1.4h-1.4zM454.0,603.6h1.4v1.4h-1.4zM463.4,602.0h1.4v1.4h-1.4zM468.2,615.0h1.4v1.4h-1.4zM444.1,622.2h1.4v1.4h-1.4zM399.4,606.9h1.4v1.4h-1.4zM404.6,610.6h1.4v1.4h-1.4zM414.9,620.1h1.4v1.4h-1.4zM467.2,613.5h1.4v1.4h-1.4zM420.3,618.5h1.4v1.4h-1.4zM425.9,608.2h1.4v1.4h-1.4zM402.8,606.5h1.4v1.4h-1.4zM440.9,607.5h1.4v1.4h-1.4zM429.7,605.9h1.4v1.4h-1.4zM475.0,612.6h1.4v1.4h-1.4zM449.9,614.0h1.4v1.4h-1.4zM469.5,627.4h1.4v1.4h-1.4zM435.6,608.6h1.4v1.4h-1.4zM411.5,610.6h1.4v1.4h-1.4zM458.4,616.1h1.4v1.4h-1.4zM450.5,604.0h1.4v1.4h-1.4zM418.9,609.6h1.4v1.4h-1.4zM433.0,605.3h1.4v1.4h-1.4zM463.3,628.1h1.4v1.4h-1.4zM401.7,603.4h1.4v1.4h-1.4zM413.2,620.8h1.4v1.4h-1.4zM477.8,595.4h1.4v1.4h-1.4zM416.4,608.7h1.4v1.4h-1.4zM401.5,598.0h1.4v1.4h-1.4zM447.2,604.9h1.4v1.4h-1.4zM465.4,595.3h1.4v1.4h-1.4zM483.4,610.0h1.4v1.4h-1.4zM442.4,601.8h1.4v1.4h-1.4zM422.5,619.2h1.4v1.4h-1.4zM464.3,623.3h1.4v1.4h-1.4zM476.3,610.4h1.4v1.4h-1.4zM462.2,595.5h1.4v1.4h-1.4zM397.5,612.9h1.4v1.4h-1.4zM444.9,627.1h1.4v1.4h-1.4zM464.0,616.7h1.4v1.4h-1.4zM427.8,601.7h1.4v1.4h-1.4zM467.7,622.9h1.4v1.4h-1.4zM437.9,620.3h1.4v1.4h-1.4zM464.2,631.8h1.4v1.4h-1.4zM428.9,599.7h1.4v1.4h-1.4zM456.5,609.0h1.4v1.4h-1.4zM424.6,615.2h1.4v1.4h-1.4zM463.4,631.2h1.4v1.4h-1.4zM441.1,605.3h1.4v1.4h-1.4zM454.2,599.5h1.4v1.4h-1.4zM452.8,601.2h1.4v1.4h-1.4zM479.2,621.5h1.4v1.4h-1.4zM429.7,610.9h1.4v1.4h-1.4zM407.9,605.5h1.4v1.4h-1.4zM407.9,617.7h1.4v1.4h-1.4zM407.1,605.3h1.4v1.4h-1.4zM442.9,620.9h1.4v1.4h-1.4zM468.2,626.9h1.4v1.4h-1.4zM434.2,617.3h1.4v1.4h-1.4zM403.2,609.3h1.4v1.4h-1.4zM444.5,610.2h1.4v1.4h-1.4zM428.9,602.5h1.4v1.4h-1.4zM476.7,604.0h1.4v1.4h-1.4zM441.2,609.1h1.4v1.4h-1.4zM458.8,625.7h1.4v1.4h-1.4zM419.6,605.4h1.4v1.4h-1.4zM472.4,606.8h1.4v1.4h-1.4zM444.7,614.7h1.4v1.4h-1.4zM475.6,636.9h1.4v1.4h-1.4zM396.9,605.5h1.4v1.4h-1.4zM392.5,607.0h1.4v1.4h-1.4zM420.2,608.4h1.4v1.4h-1.4zM460.3,633.0h1.4v1.4h-1.4zM430.7,613.1h1.4v1.4h-1.4zM415.1,607.9h1.4v1.4h-1.4zM439.5,609.1h1.4v1.4h-1.4zM444.0,611.3h1.4v1.4h-1.4zM445.4,610.5h1.4v1.4h-1.4zM402.8,611.0h1.4v1.4h-1.4zM437.3,616.8h1.4v1.4h-1.4zM390.7,609.3h1.4v1.4h-1.4zM408.8,603.5h1.4v1.4h-1.4zM443.4,610.9h1.4v1.4h-1.4zM450.2,610.9h1.4v1.4h-1.4zM456.7,601.3h1.4v1.4h-1.4zM441.3,622.2h1.4v1.4h-1.4zM407.6,603.9h1.4v1.4h-1.4zM458.6,614.1h1.4v1.4h-1.4zM448.2,615.2h1.4v1.4h-1.4zM405.9,616.7h1.4v1.4h-1.4zM463.9,624.8h1.4v1.4h-1.4zM458.5,608.4h1.4v1.4h-1.4zM409.5,609.3h1.4v1.4h-1.4zM446.2,620.1h1.4v1.4h-1.4zM475.7,619.0h1.4v1.4h-1.4zM482.0,608.9h1.4v1.4h-1.4zM447.8,603.1h1.4v1.4h-1.4zM412.2,600.4h1.4v1.4h-1.4zM397.1,612.5h1.4v1.4h-1.4zM407.1,619.6h1.4v1.4h-1.4zM413.8,619.0h1.4v1.4h-1.4zM456.7,617.1h1.4v1.4h-1.4zM450.6,619.6h1.4v1.4h-1.4zM468.2,636.5h1.4v1.4h-1.4zM475.2,628.4h1.4v1.4h-1.4zM389.8,604.7h1.4v1.4h-1.4zM475.4,604.0h1.4v1.4h-1.4zM461.6,627.9h1.4v1.4h-1.4zM395.9,600.8h1.4v1.4h-1.4zM482.4,607.2h1.4v1.4h-1.4zM395.4,612.3h1.4v1.4h-1.4zM460.3,608.0h1.4v1.4h-1.4zM410.9,613.4h1.4v1.4h-1.4zM455.6,629.7h1.4v1.4h-1.4zM471.2,630.6h1.4v1.4h-1.4zM417.9,622.2h1.4v1.4h-1.4zM474.2,602.0h1.4v1.4h-1.4zM433.9,598.0h1.4v1.4h-1.4zM393.9,605.6h1.4v1.4h-1.4zM397.2,607.3h1.4v1.4h-1.4zM461.9,610.6h1.4v1.4h-1.4zM431.3,622.6h1.4v1.4h-1.4zM422.1,621.6h1.4v1.4h-1.4zM432.6,602.3h1.4v1.4h-1.4zM449.7,607.7h1.4v1.4h-1.4zM457.2,623.0h1.4v1.4h-1.4zM462.6,616.8h1.4v1.4h-1.4zM462.5,607.9h1.4v1.4h-1.4zM459.7,627.4h1.4v1.4h-1.4zM431.7,615.4h1.4v1.4h-1.4zM472.8,610.6h1.4v1.4h-1.4zM444.4,617.9h1.4v1.4h-1.4zM449.7,620.9h1.4v1.4h-1.4zM483.8,612.0h1.4v1.4h-1.4zM406.0,616.0h1.4v1.4h-1.4zM442.6,620.1h1.4v1.4h-1.4zM398.6,609.6h1.4v1.4h-1.4zM413.0,620.6h1.4v1.4h-1.4zM475.8,606.5h1.4v1.4h-1.4zM430.7,606.0h1.4v1.4h-1.4zM442.7,621.3h1.4v1.4h-1.4zM459.2,606.0h1.4v1.4h-1.4zM411.0,602.7h1.4v1.4h-1.4zM451.3,601.0h1.4v1.4h-1.4zM410.4,601.5h1.4v1.4h-1.4zM390.4,608.6h1.4v1.4h-1.4zM419.7,616.0h1.4v1.4h-1.4zM436.6,621.4h1.4v1.4h-1.4zM463.0,616.9h1.4v1.4h-1.4zM444.6,601.6h1.4v1.4h-1.4zM460.1,608.7h1.4v1.4h-1.4zM408.8,609.1h1.4v1.4h-1.4zM412.2,622.0h1.4v1.4h-1.4zM444.1,608.2h1.4v1.4h-1.4zM450.8,618.8h1.4v1.4h-1.4zM436.8,609.2h1.4v1.4h-1.4zM462.4,600.3h1.4v1.4h-1.4zM454.9,619.6h1.4v1.4h-1.4zM408.6,603.9h1.4v1.4h-1.4zM475.4,595.2h1.4v1.4h-1.4zM406.3,618.6h1.4v1.4h-1.4zM435.7,600.4h1.4v1.4h-1.4zM457.8,631.5h1.4v1.4h-1.4zM451.3,608.5h1.4v1.4h-1.4zM408.7,597.7h1.4v1.4h-1.4zM397.5,604.9h1.4v1.4h-1.4zM457.1,615.2h1.4v1.4h-1.4zM432.2,610.6h1.4v1.4h-1.4zM463.5,637.0h1.4v1.4h-1.4zM406.9,600.4h1.4v1.4h-1.4zM481.9,615.2h1.4v1.4h-1.4zM392.9,599.2h1.4v1.4h-1.4zM439.1,608.8h1.4v1.4h-1.4zM454.3,628.1h1.4v1.4h-1.4zM418.8,604.9h1.4v1.4h-1.4zM421.3,598.2h1.4v1.4h-1.4zM405.2,595.7h1.4v1.4h-1.4zM413.4,600.5h1.4v1.4h-1.4zM469.4,614.1h1.4v1.4h-1.4zM398.6,609.7h1.4v1.4h-1.4zM451.5,601.2h1.4v1.4h-1.4zM422.3,598.8h1.4v1.4h-1.4zM437.1,619.4h1.4v1.4h-1.4zM424.5,596.3h1.4v1.4h-1.4zM457.1,628.8h1.4v1.4h-1.4zM482.6,611.3h1.4v1.4h-1.4zM430.7,611.2h1.4v1.4h-1.4zM454.9,625.7h1.4v1.4h-1.4zM440.6,626.3h1.4v1.4h-1.4zM429.3,609.1h1.4v1.4h-1.4zM410.5,601.3h1.4v1.4h-1.4zM441.9,626.2h1.4v1.4h-1.4zM397.8,605.8h1.4v1.4h-1.4zM447.8,597.8h1.4v1.4h-1.4zM466.8,605.2h1.4v1.4h-1.4zM463.5,611.3h1.4v1.4h-1.4zM439.5,606.9h1.4v1.4h-1.4zM398.6,603.5h1.4v1.4h-1.4zM404.0,610.9h1.4v1.4h-1.4zM453.5,623.3h1.4v1.4h-1.4zM456.0,611.6h1.4v1.4h-1.4zM481.8,612.2h1.4v1.4h-1.4zM411.6,618.6h1.4v1.4h-1.4zM425.2,606.9h1.4v1.4h-1.4zM476.4,608.8h1.4v1.4h-1.4zM449.1,616.4h1.4v1.4h-1.4zM456.6,632.5h1.4v1.4h-1.4zM433.7,623.0h1.4v1.4h-1.4zM433.6,602.4h1.4v1.4h-1.4zM403.8,597.9h1.4v1.4h-1.4zM463.3,635.6h1.4v1.4h-1.4zM473.6,622.0h1.4v1.4h-1.4zM477.8,609.6h1.4v1.4h-1.4zM440.2,603.7h1.4v1.4h-1.4zM404.6,604.3h1.4v1.4h-1.4zM400.4,613.5h1.4v1.4h-1.4zM453.5,623.5h1.4v1.4h-1.4zM418.2,611.2h1.4v1.4h-1.4zM451.6,607.3h1.4v1.4h-1.4zM473.4,623.8h1.4v1.4h-1.4zM442.3,596.9h1.4v1.4h-1.4zM401.9,607.0h1.4v1.4h-1.4zM403.8,609.7h1.4v1.4h-1.4zM458.4,633.5h1.4v1.4h-1.4zM443.4,620.6h1.4v1.4h-1.4zM463.5,604.7h1.4v1.4h-1.4zM451.6,614.6h1.4v1.4h-1.4zM438.4,622.0h1.4v1.4h-1.4zM466.3,603.1h1.4v1.4h-1.4zM403.1,619.7h1.4v1.4h-1.4zM478.8,604.2h1.4v1.4h-1.4zM468.0,620.9h1.4v1.4h-1.4zM460.1,625.5h1.4v1.4h-1.4zM474.6,602.8h1.4v1.4h-1.4zM425.8,616.2h1.4v1.4h-1.4zM477.5,601.1h1.4v1.4h-1.4zM403.7,598.4h1.4v1.4h-1.4zM421.8,617.4h1.4v1.4h-1.4zM415.3,616.1h1.4v1.4h-1.4zM479.4,599.4h1.4v1.4h-1.4zM424.3,604.6h1.4v1.4h-1.4zM470.8,616.2h1.4v1.4h-1.4zM460.3,609.5h1.4v1.4h-1.4zM418.9,618.0h1.4v1.4h-1.4zM418.3,612.0h1.4v1.4h-1.4zM432.7,619.6h1.4v1.4h-1.4zM477.4,619.2h1.4v1.4h-1.4zM473.2,599.9h1.4v1.4h-1.4zM444.6,608.4h1.4v1.4h-1.4zM475.1,611.1h1.4v1.4h-1.4zM427.7,609.7h1.4v1.4h-1.4zM451.6,600.2h1.4v1.4h-1.4zM474.0,606.1h1.4v1.4h-1.4zM425.2,599.7h1.4v1.4h-1.4zM467.0,607.1h1.4v1.4h-1.4zM430.9,609.1h1.4v1.4h-1.4zM448.7,603.5h1.4v1.4h-1.4zM465.3,614.9h1.4v1.4h-1.4zM456.8,602.2h1.4v1.4h-1.4zM420.1,608.8h1.4v1.4h-1.4zM413.7,609.2h1.4v1.4h-1.4zM436.5,602.4h1.4v1.4h-1.4zM443.9,603.4h1.4v1.4h-1.4zM470.6,611.4h1.4v1.4h-1.4zM443.9,612.5h1.4v1.4h-1.4zM425.3,624.7h1.4v1.4h-1.4zM436.2,617.9h1.4v1.4h-1.4zM396.1,607.3h1.4v1.4h-1.4zM463.2,623.9h1.4v1.4h-1.4zM437.9,620.3h1.4v1.4h-1.4zM414.5,603.3h1.4v1.4h-1.4zM426.6,598.5h1.4v1.4h-1.4zM462.8,615.1h1.4v1.4h-1.4zM415.6,618.5h1.4v1.4h-1.4zM411.7,610.1h1.4v1.4h-1.4zM417.4,607.7h1.4v1.4h-1.4zM463.5,615.7h1.4v1.4h-1.4zM418.3,597.6h1.4v1.4h-1.4zM408.7,617.0h1.4v1.4h-1.4zM430.0,609.7h1.4v1.4h-1.4zM441.9,600.2h1.4v1.4h-1.4zM451.3,604.3h1.4v1.4h-1.4zM428.5,608.0h1.4v1.4h-1.4zM471.8,625.0h1.4v1.4h-1.4zM481.6,618.9h1.4v1.4h-1.4zM439.2,611.2h1.4v1.4h-1.4zM482.2,603.1h1.4v1.4h-1.4zM478.2,604.5h1.4v1.4h-1.4zM453.0,597.6h1.4v1.4h-1.4zM402.2,619.3h1.4v1.4h-1.4zM451.5,616.7h1.4v1.4h-1.4zM439.8,601.3h1.4v1.4h-1.4zM453.8,598.5h1.4v1.4h-1.4zM412.7,604.9h1.4v1.4h-1.4zM414.0,608.0h1.4v1.4h-1.4zM430.5,610.4h1.4v1.4h-1.4zM414.0,618.0h1.4v1.4h-1.4zM452.1,602.1h1.4v1.4h-1.4zM459.2,607.7h1.4v1.4h-1.4zM476.5,607.7h1.4v1.4h-1.4zM443.9,606.2h1.4v1.4h-1.4zM415.6,606.7h1.4v1.4h-1.4zM460.2,599.1h1.4v1.4h-1.4zM461.8,634.1h1.4v1.4h-1.4zM466.1,634.9h1.4v1.4h-1.4zM477.1,621.6h1.4v1.4h-1.4zM455.8,602.1h1.4v1.4h-1.4zM422.8,623.2h1.4v1.4h-1.4zM469.1,602.6h1.4v1.4h-1.4zM440.0,621.2h1.4v1.4h-1.4zM452.2,628.0h1.4v1.4h-1.4zM453.6,624.3h1.4v1.4h-1.4zM463.8,628.5h1.4v1.4h-1.4zM467.8,607.5h1.4v1.4h-1.4zM403.9,609.3h1.4v1.4h-1.4zM480.6,623.2h1.4v1.4h-1.4zM432.4,609.1h1.4v1.4h-1.4zM479.0,628.4h1.4v1.4h-1.4zM404.4,604.0h1.4v1.4h-1.4zM424.9,621.8h1.4v1.4h-1.4zM469.1,630.8h1.4v1.4h-1.4zM481.8,600.1h1.4v1.4h-1.4zM436.9,604.5h1.4v1.4h-1.4zM422.4,598.8h1.4v1.4h-1.4zM461.8,603.4h1.4v1.4h-1.4zM430.4,607.1h1.4v1.4h-1.4zM459.1,624.4h1.4v1.4h-1.4zM461.4,624.0h1.4v1.4h-1.4zM479.3,630.6h1.4v1.4h-1.4zM460.6,608.2h1.4v1.4h-1.4zM417.4,601.9h1.4v1.4h-1.4zM392.6,607.2h1.4v1.4h-1.4zM429.3,613.9h1.4v1.4h-1.4zM404.7,603.6h1.4v1.4h-1.4zM474.3,614.7h1.4v1.4h-1.4zM440.0,609.0h1.4v1.4h-1.4zM455.6,632.2h1.4v1.4h-1.4zM460.7,604.9h1.4v1.4h-1.4zM452.4,611.5h1.4v1.4h-1.4zM465.4,630.5h1.4v1.4h-1.4zM473.1,634.5h1.4v1.4h-1.4zM429.7,609.8h1.4v1.4h-1.4zM445.4,613.3h1.4v1.4h-1.4zM478.9,625.7h1.4v1.4h-1.4zM402.6,605.7h1.4v1.4h-1.4zM399.5,608.8h1.4v1.4h-1.4zM437.1,613.6h1.4v1.4h-1.4zM458.3,627.3h1.4v1.4h-1.4zM459.0,615.9h1.4v1.4h-1.4zM471.1,616.8h1.4v1.4h-1.4zM453.4,624.4h1.4v1.4h-1.4zM434.5,622.4h1.4v1.4h-1.4zM417.0,619.8h1.4v1.4h-1.4zM443.1,603.2h1.4v1.4h-1.4zM457.7,603.2h1.4v1.4h-1.4zM405.8,597.6h1.4v1.4h-1.4zM477.0,622.2h1.4v1.4h-1.4zM448.4,605.1h1.4v1.4h-1.4zM420.0,617.7h1.4v1.4h-1.4zM396.5,615.4h1.4v1.4h-1.4zM463.7,602.1h1.4v1.4h-1.4zM419.7,610.4h1.4v1.4h-1.4zM463.8,599.2h1.4v1.4h-1.4zM457.8,612.3h1.4v1.4h-1.4zM427.0,611.1h1.4v1.4h-1.4zM432.9,604.2h1.4v1.4h-1.4zM481.2,599.1h1.4v1.4h-1.4zM395.3,603.5h1.4v1.4h-1.4zM460.2,597.2h1.4v1.4h-1.4zM480.5,627.3h1.4v1.4h-1.4zM440.9,601.9h1.4v1.4h-1.4zM413.7,602.0h1.4v1.4h-1.4zM480.2,606.0h1.4v1.4h-1.4zM480.1,621.7h1.4v1.4h-1.4zM394.9,606.3h1.4v1.4h-1.4zM430.2,616.4h1.4v1.4h-1.4zM461.0,603.0h1.4v1.4h-1.4zM476.4,623.5h1.4v1.4h-1.4zM443.7,620.4h1.4v1.4h-1.4zM448.4,612.2h1.4v1.4h-1.4zM467.2,616.6h1.4v1.4h-1.4zM453.0,599.8h1.4v1.4h-1.4zM477.9,631.4h1.4v1.4h-1.4zM403.6,607.2h1.4v1.4h-1.4zM443.5,613.4h1.4v1.4h-1.4zM433.0,611.1h1.4v1.4h-1.4zM477.8,633.0h1.4v1.4h-1.4zM475.1,610.1h1.4v1.4h-1.4zM446.8,614.0h1.4v1.4h-1.4zM464.4,596.1h1.4v1.4h-1.4zM452.6,603.4h1.4v1.4h-1.4zM413.2,618.3h1.4v1.4h-1.4zM472.0,620.7h1.4v1.4h-1.4zM482.4,600.3h1.4v1.4h-1.4zM419.6,597.4h1.4v1.4h-1.4zM427.5,611.3h1.4v1.4h-1.4zM439.9,618.6h1.4v1.4h-1.4zM472.9,617.4h1.4v1.4h-1.4zM469.7,597.9h1.4v1.4h-1.4zM425.7,604.1h1.4v1.4h-1.4zM433.5,596.7h1.4v1.4h-1.4zM449.5,624.9h1.4v1.4h-1.4zM465.2,608.4h1.4v1.4h-1.4zM406.5,607.8h1.4v1.4h-1.4zM471.2,632.3h1.4v1.4h-1.4zM458.7,605.5h1.4v1.4h-1.4zM478.8,598.0h1.4v1.4h-1.4zM403.3,605.1h1.4v1.4h-1.4zM441.6,610.6h1.4v1.4h-1.4zM466.0,619.1h1.4v1.4h-1.4zM400.8,597.2h1.4v1.4h-1.4zM397.6,609.4h1.4v1.4h-1.4zM454.8,616.9h1.4v1.4h-1.4zM461.4,625.1h1.4v1.4h-1.4zM461.1,626.4h1.4v1.4h-1.4zM438.4,602.8h1.4v1.4h-1.4zM483.2,613.4h1.4v1.4h-1.4zM424.8,600.8h1.4v1.4h-1.4zM428.7,618.8h1.4v1.4h-1.4zM434.1,600.8h1.4v1.4h-1.4zM467.8,621.2h1.4v1.4h-1.4zM410.3,618.2h1.4v1.4h-1.4zM468.2,623.2h1.4v1.4h-1.4zM450.1,605.5h1.4v1.4h-1.4zM455.3,612.8h1.4v1.4h-1.4zM452.7,626.1h1.4v1.4h-1.4zM470.8,634.0h1.4v1.4h-1.4zM400.5,611.3h1.4v1.4h-1.4zM466.4,634.4h1.4v1.4h-1.4zM453.0,628.4h1.4v1.4h-1.4zM465.5,622.7h1.4v1.4h-1.4zM423.2,624.2h1.4v1.4h-1.4zM471.9,632.0h1.4v1.4h-1.4zM458.3,603.2h1.4v1.4h-1.4zM468.2,636.1h1.4v1.4h-1.4zM408.4,613.5h1.4v1.4h-1.4zM445.4,607.7h1.4v1.4h-1.4zM447.1,611.7h1.4v1.4h-1.4zM474.3,635.4h1.4v1.4h-1.4zM444.3,622.8h1.4v1.4h-1.4zM444.1,613.1h1.4v1.4h-1.4zM474.7,621.7h1.4v1.4h-1.4zM420.7,596.4h1.4v1.4h-1.4zM442.3,611.4h1.4v1.4h-1.4zM465.0,629.8h1.4v1.4h-1.4zM455.0,626.0h1.4v1.4h-1.4zM394.3,603.9h1.4v1.4h-1.4zM432.9,613.8h1.4v1.4h-1.4zM430.5,602.5h1.4v1.4h-1.4zM424.7,602.0h1.4v1.4h-1.4zM459.9,596.5h1.4v1.4h-1.4zM450.7,603.6h1.4v1.4h-1.4zM432.7,609.6h1.4v1.4h-1.4zM473.9,595.7h1.4v1.4h-1.4zM434.6,616.0h1.4v1.4h-1.4zM465.7,618.0h1.4v1.4h-1.4zM412.9,606.8h1.4v1.4h-1.4zM457.3,606.6h1.4v1.4h-1.4zM463.8,599.7h1.4v1.4h-1.4zM425.4,607.1h1.4v1.4h-1.4zM394.5,608.7h1.4v1.4h-1.4zM412.8,611.5h1.4v1.4h-1.4zM471.3,606.3h1.4v1.4h-1.4zM413.1,614.6h1.4v1.4h-1.4zM462.1,629.8h1.4v1.4h-1.4zM420.6,601.8h1.4v1.4h-1.4zM463.3,633.2h1.4v1.4h-1.4zM394.5,610.5h1.4v1.4h-1.4zM453.0,610.1h1.4v1.4h-1.4zM457.8,606.2h1.4v1.4h-1.4zM447.1,607.7h1.4v1.4h-1.4zM422.6,618.3h1.4v1.4h-1.4zM435.1,622.9h1.4v1.4h-1.4zM462.3,633.1h1.4v1.4h-1.4zM480.1,630.9h1.4v1.4h-1.4zM396.4,612.8h1.4v1.4h-1.4zM410.8,609.1h1.4v1.4h-1.4zM401.3,611.7h1.4v1.4h-1.4zM406.9,614.3h1.4v1.4h-1.4zM469.1,624.0h1.4v1.4h-1.4zM457.1,608.7h1.4v1.4h-1.4zM416.2,609.6h1.4v1.4h-1.4zM467.4,635.7h1.4v1.4h-1.4zM415.8,616.3h1.4v1.4h-1.4zM441.3,617.9h1.4v1.4h-1.4zM404.6,606.5h1.4v1.4h-1.4zM422.7,597.7h1.4v1.4h-1.4zM435.5,623.2h1.4v1.4h-1.4zM408.0,594.7h1.4v1.4h-1.4zM443.6,613.6h1.4v1.4h-1.4zM470.4,628.4h1.4v1.4h-1.4zM405.0,615.0h1.4v1.4h-1.4zM475.4,606.7h1.4v1.4h-1.4zM435.5,600.3h1.4v1.4h-1.4zM481.7,613.0h1.4v1.4h-1.4zM453.7,599.9h1.4v1.4h-1.4zM411.6,604.6h1.4v1.4h-1.4zM446.7,598.5h1.4v1.4h-1.4zM471.8,633.6h1.4v1.4h-1.4zM439.9,610.7h1.4v1.4h-1.4zM468.4,617.3h1.4v1.4h-1.4zM465.6,631.6h1.4v1.4h-1.4zM428.0,612.2h1.4v1.4h-1.4zM397.9,600.0h1.4v1.4h-1.4zM470.1,623.6h1.4v1.4h-1.4zM452.6,623.4h1.4v1.4h-1.4zM405.8,620.6h1.4v1.4h-1.4zM473.3,620.1h1.4v1.4h-1.4zM473.6,625.1h1.4v1.4h-1.4zM475.4,632.9h1.4v1.4h-1.4zM412.7,600.4h1.4v1.4h-1.4zM432.2,606.9h1.4v1.4h-1.4zM452.5,610.6h1.4v1.4h-1.4zM427.9,599.7h1.4v1.4h-1.4zM390.5,609.9h1.4v1.4h-1.4zM436.9,609.6h1.4v1.4h-1.4zM407.6,617.2h1.4v1.4h-1.4zM469.2,625.9h1.4v1.4h-1.4zM448.6,608.2h1.4v1.4h-1.4zM462.2,607.8h1.4v1.4h-1.4zM453.6,600.4h1.4v1.4h-1.4zM451.0,607.5h1.4v1.4h-1.4zM457.6,609.9h1.4v1.4h-1.4zM401.8,606.6h1.4v1.4h-1.4zM452.6,615.2h1.4v1.4h-1.4zM462.8,601.3h1.4v1.4h-1.4zM478.3,616.6h1.4v1.4h-1.4zM458.1,602.1h1.4v1.4h-1.4zM480.3,626.1h1.4v1.4h-1.4zM461.4,630.9h1.4v1.4h-1.4zM478.1,637.7h1.4v1.4h-1.4zM465.3,626.8h1.4v1.4h-1.4zM399.6,607.1h1.4v1.4h-1.4zM419.5,605.0h1.4v1.4h-1.4zM447.3,603.2h1.4v1.4h-1.4zM417.6,607.9h1.4v1.4h-1.4zM472.6,604.8h1.4v1.4h-1.4zM464.9,610.0h1.4v1.4h-1.4zM466.9,632.1h1.4v1.4h-1.4zM391.5,600.5h1.4v1.4h-1.4zM480.0,628.7h1.4v1.4h-1.4zM467.8,628.8h1.4v1.4h-1.4zM426.5,610.8h1.4v1.4h-1.4zM442.9,599.7h1.4v1.4h-1.4zM433.7,613.3h1.4v1.4h-1.4zM436.8,605.4h1.4v1.4h-1.4zM472.0,608.8h1.4v1.4h-1.4zM469.3,606.7h1.4v1.4h-1.4zM457.2,607.1h1.4v1.4h-1.4zM463.2,626.4h1.4v1.4h-1.4zM473.3,612.3h1.4v1.4h-1.4zM476.8,625.2h1.4v1.4h-1.4zM437.0,614.7h1.4v1.4h-1.4zM453.7,625.2h1.4v1.4h-1.4zM472.7,637.7h1.4v1.4h-1.4zM433.4,597.3h1.4v1.4h-1.4zM403.5,615.1h1.4v1.4h-1.4zM428.7,603.6h1.4v1.4h-1.4zM433.0,605.1h1.4v1.4h-1.4zM465.4,600.5h1.4v1.4h-1.4zM443.8,607.6h1.4v1.4h-1.4zM463.6,618.0h1.4v1.4h-1.4zM459.8,604.4h1.4v1.4h-1.4zM447.2,612.4h1.4v1.4h-1.4zM411.9,607.8h1.4v1.4h-1.4zM443.3,607.0h1.4v1.4h-1.4zM448.7,604.6h1.4v1.4h-1.4zM461.4,623.6h1.4v1.4h-1.4zM389.9,603.5h1.4v1.4h-1.4zM427.6,604.1h1.4v1.4h-1.4zM421.8,612.9h1.4v1.4h-1.4zM393.2,606.0h1.4v1.4h-1.4zM421.8,618.0h1.4v1.4h-1.4zM445.2,610.9h1.4v1.4h-1.4zM409.6,603.5h1.4v1.4h-1.4zM461.6,620.1h1.4v1.4h-1.4zM461.0,614.6h1.4v1.4h-1.4zM434.8,618.7h1.4v1.4h-1.4zM389.5,606.1h1.4v1.4h-1.4zM477.8,607.0h1.4v1.4h-1.4zM472.2,628.1h1.4v1.4h-1.4zM435.1,607.7h1.4v1.4h-1.4zM404.9,600.8h1.4v1.4h-1.4zM416.7,617.1h1.4v1.4h-1.4zM478.0,612.0h1.4v1.4h-1.4zM422.2,600.4h1.4v1.4h-1.4zM398.0,611.4h1.4v1.4h-1.4zM442.0,617.1h1.4v1.4h-1.4zM473.0,637.1h1.4v1.4h-1.4zM437.9,619.8h1.4v1.4h-1.4zM427.6,615.7h1.4v1.4h-1.4zM451.3,613.3h1.4v1.4h-1.4zM412.2,609.6h1.4v1.4h-1.4zM478.3,616.7h1.4v1.4h-1.4zM467.0,605.7h1.4v1.4h-1.4zM457.4,610.8h1.4v1.4h-1.4zM451.3,608.5h1.4v1.4h-1.4zM475.8,599.9h1.4v1.4h-1.4zM430.7,618.2h1.4v1.4h-1.4zM450.0,620.1h1.4v1.4h-1.4zM454.0,624.0h1.4v1.4h-1.4zM460.5,613.0h1.4v1.4h-1.4zM481.5,605.3h1.4v1.4h-1.4zM444.6,604.2h1.4v1.4h-1.4zM476.3,624.1h1.4v1.4h-1.4zM474.9,630.4h1.4v1.4h-1.4zM435.0,597.3h1.4v1.4h-1.4zM434.2,608.5h1.4v1.4h-1.4zM441.1,611.8h1.4v1.4h-1.4zM439.0,621.0h1.4v1.4h-1.4zM475.1,629.1h1.4v1.4h-1.4zM429.9,602.7h1.4v1.4h-1.4zM472.2,606.8h1.4v1.4h-1.4zM409.1,604.1h1.4v1.4h-1.4zM402.2,612.8h1.4v1.4h-1.4zM404.5,610.3h1.4v1.4h-1.4zM454.2,616.3h1.4v1.4h-1.4zM470.3,610.0h1.4v1.4h-1.4zM474.8,624.0h1.4v1.4h-1.4zM413.5,611.2h1.4v1.4h-1.4zM429.7,619.1h1.4v1.4h-1.4zM453.6,605.7h1.4v1.4h-1.4zM470.7,610.1h1.4v1.4h-1.4zM471.8,637.4h1.4v1.4h-1.4zM398.0,606.4h1.4v1.4h-1.4zM425.1,621.3h1.4v1.4h-1.4zM392.3,600.7h1.4v1.4h-1.4zM464.9,612.3h1.4v1.4h-1.4zM471.0,617.9h1.4v1.4h-1.4zM414.6,619.2h1.4v1.4h-1.4zM467.9,609.7h1.4v1.4h-1.4zM481.3,600.5h1.4v1.4h-1.4zM454.9,616.6h1.4v1.4h-1.4zM439.0,604.0h1.4v1.4h-1.4zM445.8,616.7h1.4v1.4h-1.4zM436.3,598.8h1.4v1.4h-1.4zM434.6,618.7h1.4v1.4h-1.4zM451.3,629.0h1.4v1.4h-1.4zM464.0,629.1h1.4v1.4h-1.4zM473.4,604.1h1.4v1.4h-1.4zM465.0,604.5h1.4v1.4h-1.4zM472.0,617.1h1.4v1.4h-1.4zM433.9,607.9h1.4v1.4h-1.4zM387.5,599.8h1.4v1.4h-1.4zM469.2,606.3h1.4v1.4h-1.4zM468.0,637.7h1.4v1.4h-1.4zM461.5,597.0h1.4v1.4h-1.4zM396.2,600.9h1.4v1.4h-1.4zM453.0,601.9h1.4v1.4h-1.4zM438.9,599.6h1.4v1.4h-1.4zM463.7,610.2h1.4v1.4h-1.4zM462.1,622.6h1.4v1.4h-1.4zM470.5,638.2h1.4v1.4h-1.4zM453.6,624.6h1.4v1.4h-1.4zM463.5,611.8h1.4v1.4h-1.4zM430.0,600.3h1.4v1.4h-1.4zM452.0,605.8h1.4v1.4h-1.4zM441.8,607.9h1.4v1.4h-1.4zM459.2,612.3h1.4v1.4h-1.4zM417.4,599.3h1.4v1.4h-1.4zM461.9,627.0h1.4v1.4h-1.4zM483.6,626.3h1.4v1.4h-1.4zM449.6,622.8h1.4v1.4h-1.4zM446.1,616.0h1.4v1.4h-1.4zM472.3,610.1h1.4v1.4h-1.4zM449.0,617.3h1.4v1.4h-1.4zM469.5,603.6h1.4v1.4h-1.4zM479.3,615.2h1.4v1.4h-1.4zM426.3,615.8h1.4v1.4h-1.4zM432.2,599.8h1.4v1.4h-1.4zM469.8,623.0h1.4v1.4h-1.4zM470.4,625.6h1.4v1.4h-1.4zM398.7,599.7h1.4v1.4h-1.4zM413.8,602.1h1.4v1.4h-1.4zM481.4,602.7h1.4v1.4h-1.4zM462.2,598.9h1.4v1.4h-1.4zM446.4,615.8h1.4v1.4h-1.4zM427.8,610.3h1.4v1.4h-1.4zM425.5,610.8h1.4v1.4h-1.4zM459.2,603.6h1.4v1.4h-1.4zM434.9,621.1h1.4v1.4h-1.4zM460.2,611.4h1.4v1.4h-1.4zM396.3,605.1h1.4v1.4h-1.4zM447.0,605.2h1.4v1.4h-1.4zM471.5,609.1h1.4v1.4h-1.4zM475.2,618.1h1.4v1.4h-1.4zM465.8,617.2h1.4v1.4h-1.4zM419.8,605.3h1.4v1.4h-1.4zM473.4,632.9h1.4v1.4h-1.4zM478.3,618.0h1.4v1.4h-1.4zM421.9,618.9h1.4v1.4h-1.4zM455.6,608.1h1.4v1.4h-1.4zM450.2,610.0h1.4v1.4h-1.4zM470.5,595.9h1.4v1.4h-1.4zM482.8,618.4h1.4v1.4h-1.4zM442.8,618.0h1.4v1.4h-1.4zM436.7,605.0h1.4v1.4h-1.4zM456.7,621.0h1.4v1.4h-1.4zM471.0,634.8h1.4v1.4h-1.4zM451.2,594.8h1.4v1.4h-1.4zM447.0,619.8h1.4v1.4h-1.4zM441.2,625.4h1.4v1.4h-1.4zM409.3,596.9h1.4v1.4h-1.4zM461.3,619.2h1.4v1.4h-1.4zM406.9,602.6h1.4v1.4h-1.4zM410.8,598.6h1.4v1.4h-1.4zM465.9,595.5h1.4v1.4h-1.4zM422.7,616.4h1.4v1.4h-1.4zM429.0,616.0h1.4v1.4h-1.4zM428.1,604.2h1.4v1.4h-1.4zM481.1,606.6h1.4v1.4h-1.4zM452.9,613.9h1.4v1.4h-1.4zM470.3,613.1h1.4v1.4h-1.4zM482.1,611.6h1.4v1.4h-1.4zM399.9,607.5h1.4v1.4h-1.4zM477.7,619.8h1.4v1.4h-1.4zM447.1,602.8h1.4v1.4h-1.4zM433.7,600.4h1.4v1.4h-1.4zM479.3,622.7h1.4v1.4h-1.4zM470.6,621.5h1.4v1.4h-1.4zM434.4,606.0h1.4v1.4h-1.4zM422.0,614.6h1.4v1.4h-1.4zM427.3,616.2h1.4v1.4h-1.4zM433.8,607.9h1.4v1.4h-1.4zM404.2,615.7h1.4v1.4h-1.4zM451.0,606.1h1.4v1.4h-1.4zM463.6,619.8h1.4v1.4h-1.4zM473.0,637.8h1.4v1.4h-1.4zM417.6,609.5h1.4v1.4h-1.4zM406.5,615.6h1.4v1.4h-1.4zM445.0,597.8h1.4v1.4h-1.4zM417.4,612.0h1.4v1.4h-1.4zM477.4,606.5h1.4v1.4h-1.4zM432.2,623.2h1.4v1.4h-1.4zM462.0,606.6h1.4v1.4h-1.4zM472.6,605.1h1.4v1.4h-1.4zM462.3,625.5h1.4v1.4h-1.4zM453.8,614.7h1.4v1.4h-1.4zM429.1,613.5h1.4v1.4h-1.4zM482.3,605.3h1.4v1.4h-1.4zM443.8,606.5h1.4v1.4h-1.4zM443.4,619.5h1.4v1.4h-1.4zM392.5,605.6h1.4v1.4h-1.4zM479.8,610.0h1.4v1.4h-1.4zM464.3,604.7h1.4v1.4h-1.4zM442.1,603.1h1.4v1.4h-1.4zM400.1,598.8h1.4v1.4h-1.4zM455.6,602.5h1.4v1.4h-1.4zM416.6,612.0h1.4v1.4h-1.4zM423.0,611.0h1.4v1.4h-1.4zM422.7,620.9h1.4v1.4h-1.4zM463.8,619.3h1.4v1.4h-1.4zM469.8,622.9h1.4v1.4h-1.4zM480.6,618.7h1.4v1.4h-1.4zM481.5,605.6h1.4v1.4h-1.4zM434.8,613.1h1.4v1.4h-1.4zM441.1,602.3h1.4v1.4h-1.4zM443.2,603.2h1.4v1.4h-1.4zM436.4,601.2h1.4v1.4h-1.4zM462.9,600.0h1.4v1.4h-1.4zM458.5,616.5h1.4v1.4h-1.4zM443.2,608.5h1.4v1.4h-1.4zM472.9,632.9h1.4v1.4h-1.4zM409.8,618.3h1.4v1.4h-1.4zM428.3,600.0h1.4v1.4h-1.4zM403.0,613.9h1.4v1.4h-1.4zM459.3,600.8h1.4v1.4h-1.4zM395.1,600.3h1.4v1.4h-1.4zM464.0,634.4h1.4v1.4h-1.4zM475.2,631.5h1.4v1.4h-1.4zM476.7,628.2h1.4v1.4h-1.4zM445.8,619.7h1.4v1.4h-1.4zM444.1,614.5h1.4v1.4h-1.4zM424.3,603.1h1.4v1.4h-1.4zM445.1,614.2h1.4v1.4h-1.4zM450.9,601.6h1.4v1.4h-1.4zM475.7,631.9h1.4v1.4h-1.4zM422.4,599.4h1.4v1.4h-1.4zM396.9,600.7h1.4v1.4h-1.4zM477.2,626.8h1.4v1.4h-1.4zM404.7,612.9h1.4v1.4h-1.4zM422.3,607.5h1.4v1.4h-1.4zM467.4,600.6h1.4v1.4h-1.4zM459.2,600.2h1.4v1.4h-1.4zM475.8,612.1h1.4v1.4h-1.4zM394.7,602.2h1.4v1.4h-1.4zM394.2,604.3h1.4v1.4h-1.4zM410.9,603.8h1.4v1.4h-1.4zM400.4,600.9h1.4v1.4h-1.4zM449.2,602.4h1.4v1.4h-1.4zM410.0,618.8h1.4v1.4h-1.4zM481.9,606.9h1.4v1.4h-1.4zM399.7,609.3h1.4v1.4h-1.4zM468.8,628.7h1.4v1.4h-1.4zM434.9,608.8h1.4v1.4h-1.4zM460.9,600.3h1.4v1.4h-1.4zM440.4,606.3h1.4v1.4h-1.4zM475.5,602.3h1.4v1.4h-1.4zM423.3,607.7h1.4v1.4h-1.4zM404.6,604.5h1.4v1.4h-1.4zM388.0,606.0h1.4v1.4h-1.4zM474.3,617.6h1.4v1.4h-1.4zM441.9,624.8h1.4v1.4h-1.4zM426.2,612.8h1.4v1.4h-1.4zM404.0,616.3h1.4v1.4h-1.4zM425.9,617.9h1.4v1.4h-1.4zM470.3,607.7h1.4v1.4h-1.4zM407.0,616.9h1.4v1.4h-1.4zM469.1,633.1h1.4v1.4h-1.4zM450.2,625.3h1.4v1.4h-1.4zM386.2,600.4h1.4v1.4h-1.4zM479.8,602.4h1.4v1.4h-1.4zM415.4,608.3h1.4v1.4h-1.4zM475.6,618.6h1.4v1.4h-1.4zM451.1,615.2h1.4v1.4h-1.4zM472.8,600.1h1.4v1.4h-1.4zM452.7,623.4h1.4v1.4h-1.4zM458.1,628.1h1.4v1.4h-1.4zM427.6,622.5h1.4v1.4h-1.4zM464.1,628.8h1.4v1.4h-1.4zM405.4,617.3h1.4v1.4h-1.4zM476.0,601.6h1.4v1.4h-1.4zM441.8,625.6h1.4v1.4h-1.4zM427.1,610.7h1.4v1.4h-1.4zM460.0,597.4h1.4v1.4h-1.4zM461.0,610.1h1.4v1.4h-1.4zM462.4,639.3h1.4v1.4h-1.4zM433.9,605.1h1.4v1.4h-1.4zM469.1,602.4h1.4v1.4h-1.4zM466.7,636.2h1.4v1.4h-1.4zM443.1,612.6h1.4v1.4h-1.4zM468.0,610.4h1.4v1.4h-1.4zM475.8,625.5h1.4v1.4h-1.4zM475.5,613.7h1.4v1.4h-1.4zM459.4,632.0h1.4v1.4h-1.4zM468.5,613.5h1.4v1.4h-1.4zM422.9,617.3h1.4v1.4h-1.4zM464.6,611.4h1.4v1.4h-1.4zM419.3,622.5h1.4v1.4h-1.4zM410.7,619.4h1.4v1.4h-1.4zM424.4,613.5h1.4v1.4h-1.4zM431.2,605.6h1.4v1.4h-1.4zM394.4,613.4h1.4v1.4h-1.4zM471.7,605.1h1.4v1.4h-1.4zM485.2,606.1h1.4v1.4h-1.4zM403.5,603.0h1.4v1.4h-1.4zM424.5,610.9h1.4v1.4h-1.4zM452.5,627.2h1.4v1.4h-1.4zM393.0,603.4h1.4v1.4h-1.4zM477.0,628.4h1.4v1.4h-1.4zM479.9,606.8h1.4v1.4h-1.4zM437.9,607.1h1.4v1.4h-1.4zM441.5,617.4h1.4v1.4h-1.4zM414.2,616.1h1.4v1.4h-1.4zM428.9,611.4h1.4v1.4h-1.4zM472.7,612.4h1.4v1.4h-1.4zM415.6,613.1h1.4v1.4h-1.4zM469.7,612.3h1.4v1.4h-1.4zM440.4,603.9h1.4v1.4h-1.4zM462.7,603.5h1.4v1.4h-1.4zM417.3,598.5h1.4v1.4h-1.4zM459.1,608.0h1.4v1.4h-1.4zM450.2,598.8h1.4v1.4h-1.4zM416.3,612.9h1.4v1.4h-1.4zM448.1,607.9h1.4v1.4h-1.4zM481.3,615.3h1.4v1.4h-1.4zM423.5,618.0h1.4v1.4h-1.4zM475.8,633.0h1.4v1.4h-1.4zM452.2,620.3h1.4v1.4h-1.4zM402.8,619.5h1.4v1.4h-1.4zM461.9,601.8h1.4v1.4h-1.4zM445.0,607.7h1.4v1.4h-1.4zM449.7,602.0h1.4v1.4h-1.4zM442.8,607.6h1.4v1.4h-1.4zM449.4,608.5h1.4v1.4h-1.4zM434.7,602.9h1.4v1.4h-1.4zM459.7,620.1h1.4v1.4h-1.4zM390.9,608.7h1.4v1.4h-1.4zM446.5,608.1h1.4v1.4h-1.4zM410.1,604.4h1.4v1.4h-1.4zM479.0,611.5h1.4v1.4h-1.4zM458.6,629.1h1.4v1.4h-1.4zM433.3,603.0h1.4v1.4h-1.4zM420.3,600.5h1.4v1.4h-1.4zM463.7,628.9h1.4v1.4h-1.4zM415.1,607.8h1.4v1.4h-1.4zM443.4,619.9h1.4v1.4h-1.4zM435.6,598.7h1.4v1.4h-1.4zM427.9,621.2h1.4v1.4h-1.4zM417.1,608.1h1.4v1.4h-1.4zM465.1,631.8h1.4v1.4h-1.4zM413.0,613.9h1.4v1.4h-1.4zM418.7,620.7h1.4v1.4h-1.4zM454.8,607.1h1.4v1.4h-1.4zM475.9,618.9h1.4v1.4h-1.4zM405.2,609.2h1.4v1.4h-1.4zM442.3,607.3h1.4v1.4h-1.4zM469.3,604.6h1.4v1.4h-1.4zM437.6,613.9h1.4v1.4h-1.4zM468.0,622.7h1.4v1.4h-1.4zM465.2,629.4h1.4v1.4h-1.4zM397.0,615.4h1.4v1.4h-1.4zM401.8,603.2h1.4v1.4h-1.4zM394.7,614.9h1.4v1.4h-1.4zM465.9,599.6h1.4v1.4h-1.4zM399.0,600.9h1.4v1.4h-1.4zM427.0,603.2h1.4v1.4h-1.4zM468.5,601.6h1.4v1.4h-1.4zM457.0,616.2h1.4v1.4h-1.4zM485.3,605.8h1.4v1.4h-1.4zM481.6,596.9h1.4v1.4h-1.4zM422.3,604.0h1.4v1.4h-1.4zM458.6,603.5h1.4v1.4h-1.4zM455.9,628.9h1.4v1.4h-1.4zM475.4,635.7h1.4v1.4h-1.4zM421.2,620.4h1.4v1.4h-1.4zM418.8,608.7h1.4v1.4h-1.4zM454.4,613.5h1.4v1.4h-1.4zM433.2,608.5h1.4v1.4h-1.4zM411.8,615.6h1.4v1.4h-1.4zM476.4,633.3h1.4v1.4h-1.4zM469.9,632.6h1.4v1.4h-1.4zM469.4,597.6h1.4v1.4h-1.4zM449.2,616.4h1.4v1.4h-1.4zM443.8,599.8h1.4v1.4h-1.4zM405.0,611.2h1.4v1.4h-1.4zM427.1,597.8h1.4v1.4h-1.4zM469.9,620.1h1.4v1.4h-1.4zM426.7,620.0h1.4v1.4h-1.4zM402.8,600.1h1.4v1.4h-1.4zM478.4,601.2h1.4v1.4h-1.4zM446.1,598.3h1.4v1.4h-1.4zM399.6,607.4h1.4v1.4h-1.4zM389.1,613.0h1.4v1.4h-1.4zM425.4,613.7h1.4v1.4h-1.4zM416.2,598.0h1.4v1.4h-1.4zM475.9,610.8h1.4v1.4h-1.4zM467.3,629.2h1.4v1.4h-1.4zM454.3,623.0h1.4v1.4h-1.4zM396.1,606.4h1.4v1.4h-1.4zM463.9,616.1h1.4v1.4h-1.4zM423.4,609.8h1.4v1.4h-1.4zM473.3,616.4h1.4v1.4h-1.4zM403.2,610.4h1.4v1.4h-1.4zM401.4,598.6h1.4v1.4h-1.4zM466.6,604.4h1.4v1.4h-1.4zM479.2,613.8h1.4v1.4h-1.4zM463.6,620.4h1.4v1.4h-1.4zM432.6,620.2h1.4v1.4h-1.4zM419.2,599.9h1.4v1.4h-1.4zM427.2,621.2h1.4v1.4h-1.4zM395.9,598.9h1.4v1.4h-1.4zM473.7,598.0h1.4v1.4h-1.4zM434.3,616.2h1.4v1.4h-1.4zM454.2,602.3h1.4v1.4h-1.4zM465.6,619.9h1.4v1.4h-1.4zM452.0,604.7h1.4v1.4h-1.4zM426.4,619.5h1.4v1.4h-1.4zM393.6,607.9h1.4v1.4h-1.4zM463.0,614.6h1.4v1.4h-1.4zM442.0,599.1h1.4v1.4h-1.4zM415.1,606.1h1.4v1.4h-1.4zM425.5,612.9h1.4v1.4h-1.4zM468.9,606.6h1.4v1.4h-1.4zM406.8,601.1h1.4v1.4h-1.4zM406.5,607.4h1.4v1.4h-1.4zM433.7,603.9h1.4v1.4h-1.4zM435.6,620.4h1.4v1.4h-1.4zM476.2,610.9h1.4v1.4h-1.4zM429.0,608.6h1.4v1.4h-1.4zM438.1,624.7h1.4v1.4h-1.4zM466.3,605.8h1.4v1.4h-1.4zM436.3,605.3h1.4v1.4h-1.4zM401.8,598.2h1.4v1.4h-1.4zM393.3,611.7h1.4v1.4h-1.4zM419.2,608.0h1.4v1.4h-1.4zM432.5,608.1h1.4v1.4h-1.4zM421.6,613.9h1.4v1.4h-1.4zM452.9,604.7h1.4v1.4h-1.4zM482.8,606.5h1.4v1.4h-1.4zM436.6,603.8h1.4v1.4h-1.4zM484.4,600.3h1.4v1.4h-1.4zM427.4,602.0h1.4v1.4h-1.4zM412.0,616.8h1.4v1.4h-1.4zM472.5,598.7h1.4v1.4h-1.4zM407.8,614.9h1.4v1.4h-1.4zM442.7,604.3h1.4v1.4h-1.4zM391.7,606.4h1.4v1.4h-1.4zM463.0,601.8h1.4v1.4h-1.4zM462.7,630.7h1.4v1.4h-1.4zM463.3,601.0h1.4v1.4h-1.4zM462.3,614.5h1.4v1.4h-1.4zM479.2,607.7h1.4v1.4h-1.4zM403.8,600.3h1.4v1.4h-1.4zM470.7,608.1h1.4v1.4h-1.4zM456.9,611.6h1.4v1.4h-1.4zM480.2,628.1h1.4v1.4h-1.4zM409.5,612.6h1.4v1.4h-1.4zM412.3,612.5h1.4v1.4h-1.4zM426.7,606.3h1.4v1.4h-1.4zM460.0,608.1h1.4v1.4h-1.4zM425.9,602.9h1.4v1.4h-1.4zM415.6,604.8h1.4v1.4h-1.4zM426.6,608.8h1.4v1.4h-1.4zM421.7,606.5h1.4v1.4h-1.4zM441.4,613.6h1.4v1.4h-1.4zM432.8,610.5h1.4v1.4h-1.4zM418.6,607.1h1.4v1.4h-1.4zM460.1,614.2h1.4v1.4h-1.4zM425.6,612.0h1.4v1.4h-1.4zM458.9,610.9h1.4v1.4h-1.4zM437.7,604.6h1.4v1.4h-1.4zM410.8,615.5h1.4v1.4h-1.4zM410.9,613.6h1.4v1.4h-1.4zM404.5,616.2h1.4v1.4h-1.4zM396.6,605.5h1.4v1.4h-1.4zM401.1,607.3h1.4v1.4h-1.4zM421.2,606.9h1.4v1.4h-1.4zM413.0,608.9h1.4v1.4h-1.4zM446.6,604.7h1.4v1.4h-1.4zM447.5,611.2h1.4v1.4h-1.4zM417.8,610.2h1.4v1.4h-1.4zM417.6,600.4h1.4v1.4h-1.4zM458.7,610.9h1.4v1.4h-1.4zM411.8,609.9h1.4v1.4h-1.4zM451.5,614.8h1.4v1.4h-1.4zM421.8,602.4h1.4v1.4h-1.4zM448.8,600.5h1.4v1.4h-1.4zM415.2,610.5h1.4v1.4h-1.4zM432.3,611.8h1.4v1.4h-1.4zM450.4,615.2h1.4v1.4h-1.4zM454.1,615.3h1.4v1.4h-1.4zM399.9,607.0h1.4v1.4h-1.4zM420.8,606.2h1.4v1.4h-1.4zM419.6,606.1h1.4v1.4h-1.4zM452.2,603.6h1.4v1.4h-1.4zM459.6,609.9h1.4v1.4h-1.4zM440.2,614.2h1.4v1.4h-1.4zM446.3,605.4h1.4v1.4h-1.4zM431.2,617.8h1.4v1.4h-1.4zM407.8,610.7h1.4v1.4h-1.4zM452.1,603.0h1.4v1.4h-1.4zM459.7,604.4h1.4v1.4h-1.4zM423.4,607.3h1.4v1.4h-1.4zM414.6,611.8h1.4v1.4h-1.4zM460.9,607.0h1.4v1.4h-1.4zM405.3,612.4h1.4v1.4h-1.4zM448.4,604.2h1.4v1.4h-1.4zM430.8,610.0h1.4v1.4h-1.4zM450.8,612.1h1.4v1.4h-1.4zM412.0,609.0h1.4v1.4h-1.4zM454.2,608.3h1.4v1.4h-1.4zM441.5,616.9h1.4v1.4h-1.4zM434.8,618.9h1.4v1.4h-1.4zM415.5,601.0h1.4v1.4h-1.4zM456.9,615.1h1.4v1.4h-1.4zM421.3,610.6h1.4v1.4h-1.4zM402.8,602.2h1.4v1.4h-1.4zM446.5,607.8h1.4v1.4h-1.4zM421.3,614.4h1.4v1.4h-1.4zM451.2,614.3h1.4v1.4h-1.4zM424.6,613.6h1.4v1.4h-1.4zM446.7,610.1h1.4v1.4h-1.4zM397.8,609.2h1.4v1.4h-1.4zM432.7,618.9h1.4v1.4h-1.4zM437.9,603.9h1.4v1.4h-1.4zM441.6,611.4h1.4v1.4h-1.4zM455.3,612.3h1.4v1.4h-1.4zM441.8,614.5h1.4v1.4h-1.4zM455.0,615.6h1.4v1.4h-1.4zM443.3,610.5h1.4v1.4h-1.4zM462.0,609.4h1.4v1.4h-1.4zM442.7,611.6h1.4v1.4h-1.4zM433.7,607.6h1.4v1.4h-1.4zM424.1,606.7h1.4v1.4h-1.4zM453.8,606.5h1.4v1.4h-1.4zM432.2,607.3h1.4v1.4h-1.4zM432.9,614.7h1.4v1.4h-1.4zM445.1,603.4h1.4v1.4h-1.4zM434.3,614.1h1.4v1.4h-1.4zM463.7,609.8h1.4v1.4h-1.4zM422.6,614.2h1.4v1.4h-1.4zM429.7,609.5h1.4v1.4h-1.4zM448.5,613.7h1.4v1.4h-1.4zM427.2,604.0h1.4v1.4h-1.4zM445.5,617.1h1.4v1.4h-1.4zM408.2,603.3h1.4v1.4h-1.4zM401.2,610.3h1.4v1.4h-1.4zM405.4,615.5h1.4v1.4h-1.4zM426.2,602.8h1.4v1.4h-1.4zM408.8,612.2h1.4v1.4h-1.4zM435.2,614.6h1.4v1.4h-1.4zM450.2,613.8h1.4v1.4h-1.4zM430.8,605.3h1.4v1.4h-1.4zM417.3,607.1h1.4v1.4h-1.4zM449.0,610.4h1.4v1.4h-1.4zM434.7,614.0h1.4v1.4h-1.4zM441.4,608.8h1.4v1.4h-1.4zM433.9,615.4h1.4v1.4h-1.4zM407.0,614.1h1.4v1.4h-1.4zM441.0,610.0h1.4v1.4h-1.4zM405.2,613.7h1.4v1.4h-1.4zM401.4,600.3h1.4v1.4h-1.4zM400.1,609.1h1.4v1.4h-1.4zM416.4,605.6h1.4v1.4h-1.4zM431.6,602.7h1.4v1.4h-1.4zM401.4,609.0h1.4v1.4h-1.4zM449.0,612.2h1.4v1.4h-1.4zM452.0,606.0h1.4v1.4h-1.4zM452.3,603.4h1.4v1.4h-1.4zM420.9,615.5h1.4v1.4h-1.4zM421.5,612.0h1.4v1.4h-1.4zM429.9,613.4h1.4v1.4h-1.4zM443.6,618.4h1.4v1.4h-1.4zM406.7,604.6h1.4v1.4h-1.4zM449.6,612.7h1.4v1.4h-1.4zM422.4,605.4h1.4v1.4h-1.4zM458.5,605.1h1.4v1.4h-1.4zM410.3,615.1h1.4v1.4h-1.4zM430.4,607.7h1.4v1.4h-1.4zM410.1,599.8h1.4v1.4h-1.4zM439.8,609.9h1.4v1.4h-1.4zM431.1,612.5h1.4v1.4h-1.4zM436.4,611.3h1.4v1.4h-1.4zM456.5,612.4h1.4v1.4h-1.4zM438.0,608.5h1.4v1.4h-1.4zM436.0,607.7h1.4v1.4h-1.4zM432.3,606.7h1.4v1.4h-1.4zM416.2,606.0h1.4v1.4h-1.4zM459.5,601.8h1.4v1.4h-1.4zM437.7,612.3h1.4v1.4h-1.4zM413.7,603.0h1.4v1.4h-1.4zM454.9,607.2h1.4v1.4h-1.4zM453.0,614.0h1.4v1.4h-1.4zM404.9,608.2h1.4v1.4h-1.4zM463.5,611.4h1.4v1.4h-1.4zM454.8,611.9h1.4v1.4h-1.4zM429.3,614.6h1.4v1.4h-1.4zM437.9,612.1h1.4v1.4h-1.4zM417.0,601.8h1.4v1.4h-1.4zM462.5,609.7h1.4v1.4h-1.4zM404.4,610.0h1.4v1.4h-1.4zM440.8,606.5h1.4v1.4h-1.4zM448.2,616.9h1.4v1.4h-1.4zM412.4,610.5h1.4v1.4h-1.4zM415.8,612.1h1.4v1.4h-1.4zM423.4,604.5h1.4v1.4h-1.4zM446.9,614.2h1.4v1.4h-1.4zM415.4,612.9h1.4v1.4h-1.4zM437.6,619.4h1.4v1.4h-1.4zM426.4,614.1h1.4v1.4h-1.4zM409.8,610.5h1.4v1.4h-1.4zM426.0,617.6h1.4v1.4h-1.4zM427.7,602.0h1.4v1.4h-1.4zM426.5,608.1h1.4v1.4h-1.4zM424.8,609.3h1.4v1.4h-1.4zM414.2,610.5h1.4v1.4h-1.4zM436.7,616.7h1.4v1.4h-1.4zM408.5,608.1h1.4v1.4h-1.4zM455.2,618.6h1.4v1.4h-1.4zM459.1,609.5h1.4v1.4h-1.4zM409.8,604.8h1.4v1.4h-1.4zM445.2,610.2h1.4v1.4h-1.4zM438.0,603.6h1.4v1.4h-1.4zM405.9,602.5h1.4v1.4h-1.4zM444.4,611.9h1.4v1.4h-1.4zM449.0,612.3h1.4v1.4h-1.4zM407.5,606.4h1.4v1.4h-1.4zM412.2,607.9h1.4v1.4h-1.4zM434.6,601.6h1.4v1.4h-1.4zM432.7,610.5h1.4v1.4h-1.4zM399.0,607.9h1.4v1.4h-1.4zM420.0,606.2h1.4v1.4h-1.4zM452.3,600.2h1.4v1.4h-1.4zM406.1,600.8h1.4v1.4h-1.4zM411.4,616.4h1.4v1.4h-1.4zM405.0,601.8h1.4v1.4h-1.4zM455.9,613.7h1.4v1.4h-1.4zM426.2,610.5h1.4v1.4h-1.4zM412.1,604.9h1.4v1.4h-1.4zM456.8,613.1h1.4v1.4h-1.4zM415.7,609.7h1.4v1.4h-1.4zM439.2,605.6h1.4v1.4h-1.4zM437.9,612.1h1.4v1.4h-1.4zM450.7,606.3h1.4v1.4h-1.4zM413.4,612.6h1.4v1.4h-1.4zM409.8,612.1h1.4v1.4h-1.4zM446.9,605.4h1.4v1.4h-1.4zM425.4,602.8h1.4v1.4h-1.4zM440.4,619.1h1.4v1.4h-1.4zM437.5,605.8h1.4v1.4h-1.4zM403.2,603.5h1.4v1.4h-1.4zM427.2,615.5h1.4v1.4h-1.4zM427.3,606.7h1.4v1.4h-1.4zM424.8,611.0h1.4v1.4h-1.4zM401.7,605.9h1.4v1.4h-1.4zM421.7,608.9h1.4v1.4h-1.4zM431.6,609.3h1.4v1.4h-1.4zM456.2,606.5h1.4v1.4h-1.4zM407.9,604.9h1.4v1.4h-1.4zM449.5,615.9h1.4v1.4h-1.4zM439.8,606.0h1.4v1.4h-1.4zM435.3,613.4h1.4v1.4h-1.4zM452.4,611.6h1.4v1.4h-1.4zM421.9,609.9h1.4v1.4h-1.4zM408.5,609.5h1.4v1.4h-1.4zM428.6,614.2h1.4v1.4h-1.4zM406.4,605.0h1.4v1.4h-1.4zM420.1,610.7h1.4v1.4h-1.4zM456.1,616.9h1.4v1.4h-1.4zM440.2,604.3h1.4v1.4h-1.4zM421.4,600.4h1.4v1.4h-1.4zM398.2,608.8h1.4v1.4h-1.4zM415.4,607.7h1.4v1.4h-1.4zM432.6,613.1h1.4v1.4h-1.4zM399.4,612.0h1.4v1.4h-1.4zM441.5,601.3h1.4v1.4h-1.4zM434.0,613.7h1.4v1.4h-1.4zM397.2,604.1h1.4v1.4h-1.4zM431.9,610.4h1.4v1.4h-1.4zM437.1,613.6h1.4v1.4h-1.4zM396.9,607.8h1.4v1.4h-1.4zM452.4,605.0h1.4v1.4h-1.4zM448.0,615.5h1.4v1.4h-1.4zM452.4,609.4h1.4v1.4h-1.4zM453.1,614.0h1.4v1.4h-1.4zM454.4,614.4h1.4v1.4h-1.4zM403.8,613.5h1.4v1.4h-1.4zM438.6,604.2h1.4v1.4h-1.4zM402.5,604.4h1.4v1.4h-1.4zM429.5,600.8h1.4v1.4h-1.4zM460.2,606.5h1.4v1.4h-1.4zM409.5,600.2h1.4v1.4h-1.4zM430.1,605.1h1.4v1.4h-1.4zM453.8,605.1h1.4v1.4h-1.4zM431.5,609.6h1.4v1.4h-1.4zM408.1,610.8h1.4v1.4h-1.4zM435.7,604.9h1.4v1.4h-1.4zM430.4,608.2h1.4v1.4h-1.4zM403.3,609.9h1.4v1.4h-1.4zM450.1,615.6h1.4v1.4h-1.4zM442.8,604.4h1.4v1.4h-1.4zM429.7,606.5h1.4v1.4h-1.4zM442.5,608.7h1.4v1.4h-1.4zM407.1,610.4h1.4v1.4h-1.4zM454.7,603.9h1.4v1.4h-1.4zM447.3,607.1h1.4v1.4h-1.4zM447.5,606.0h1.4v1.4h-1.4zM416.5,612.0h1.4v1.4h-1.4zM427.6,605.4h1.4v1.4h-1.4zM447.4,610.5h1.4v1.4h-1.4zM405.9,612.0h1.4v1.4h-1.4zM446.4,604.1h1.4v1.4h-1.4zM451.3,617.5h1.4v1.4h-1.4zM410.6,605.8h1.4v1.4h-1.4zM444.6,617.8h1.4v1.4h-1.4zM427.2,608.3h1.4v1.4h-1.4zM414.4,602.9h1.4v1.4h-1.4zM406.0,606.3h1.4v1.4h-1.4zM448.0,612.0h1.4v1.4h-1.4zM452.2,606.8h1.4v1.4h-1.4zM457.1,606.2h1.4v1.4h-1.4zM459.2,603.1h1.4v1.4h-1.4zM403.9,607.6h1.4v1.4h-1.4zM445.2,609.6h1.4v1.4h-1.4zM449.3,600.7h1.4v1.4h-1.4zM441.9,616.8h1.4v1.4h-1.4zM429.5,606.3h1.4v1.4h-1.4zM460.2,611.6h1.4v1.4h-1.4zM464.8,610.8h1.4v1.4h-1.4zM413.9,601.7h1.4v1.4h-1.4zM408.9,608.1h1.4v1.4h-1.4zM423.7,601.7h1.4v1.4h-1.4zM408.1,610.1h1.4v1.4h-1.4zM438.5,601.5h1.4v1.4h-1.4zM451.6,611.0h1.4v1.4h-1.4zM424.3,612.0h1.4v1.4h-1.4zM459.5,613.9h1.4v1.4h-1.4zM413.7,603.2h1.4v1.4h-1.4zM406.7,609.2h1.4v1.4h-1.4zM448.1,603.1h1.4v1.4h-1.4zM460.5,608.9h1.4v1.4h-1.4zM430.3,608.5h1.4v1.4h-1.4zM410.1,612.7h1.4v1.4h-1.4zM443.0,611.7h1.4v1.4h-1.4zM453.7,599.0h1.4v1.4h-1.4zM404.1,605.1h1.4v1.4h-1.4zM439.1,615.3h1.4v1.4h-1.4zM437.1,599.5h1.4v1.4h-1.4zM444.1,612.5h1.4v1.4h-1.4zM462.9,602.0h1.4v1.4h-1.4zM428.5,612.1h1.4v1.4h-1.4zM427.9,611.2h1.4v1.4h-1.4zM441.6,605.1h1.4v1.4h-1.4zM425.7,600.3h1.4v1.4h-1.4zM397.4,603.3h1.4v1.4h-1.4zM449.4,609.6h1.4v1.4h-1.4zM444.4,609.1h1.4v1.4h-1.4zM412.5,605.5h1.4v1.4h-1.4zM442.9,609.1h1.4v1.4h-1.4zM412.1,613.9h1.4v1.4h-1.4zM456.8,615.5h1.4v1.4h-1.4zM439.1,607.7h1.4v1.4h-1.4zM397.5,613.1h1.4v1.4h-1.4zM461.3,601.9h1.4v1.4h-1.4zM447.2,605.3h1.4v1.4h-1.4zM444.9,604.2h1.4v1.4h-1.4zM446.0,604.5h1.4v1.4h-1.4zM424.5,610.0h1.4v1.4h-1.4zM457.8,604.6h1.4v1.4h-1.4zM421.5,608.5h1.4v1.4h-1.4zM404.0,613.4h1.4v1.4h-1.4zM453.5,613.7h1.4v1.4h-1.4zM432.3,603.4h1.4v1.4h-1.4zM458.7,615.1h1.4v1.4h-1.4zM431.4,607.5h1.4v1.4h-1.4zM413.1,608.2h1.4v1.4h-1.4zM397.9,606.8h1.4v1.4h-1.4zM464.9,610.4h1.4v1.4h-1.4zM456.1,602.1h1.4v1.4h-1.4zM406.8,608.9h1.4v1.4h-1.4zM445.2,601.6h1.4v1.4h-1.4zM439.2,609.5h1.4v1.4h-1.4zM438.1,605.7h1.4v1.4h-1.4zM399.8,608.8h1.4v1.4h-1.4zM451.2,601.7h1.4v1.4h-1.4zM403.4,612.4h1.4v1.4h-1.4zM456.1,607.8h1.4v1.4h-1.4zM452.5,605.6h1.4v1.4h-1.4zM438.9,608.2h1.4v1.4h-1.4zM400.6,600.0h1.4v1.4h-1.4zM399.1,609.2h1.4v1.4h-1.4zM399.1,607.1h1.4v1.4h-1.4zM452.2,610.3h1.4v1.4h-1.4zM461.5,608.0h1.4v1.4h-1.4zM456.0,607.2h1.4v1.4h-1.4zM434.0,606.1h1.4v1.4h-1.4zM436.9,608.8h1.4v1.4h-1.4zM447.2,609.6h1.4v1.4h-1.4zM417.5,609.6h1.4v1.4h-1.4zM424.9,608.2h1.4v1.4h-1.4zM450.5,604.0h1.4v1.4h-1.4zM427.0,614.3h1.4v1.4h-1.4zM442.1,610.1h1.4v1.4h-1.4zM399.0,607.2h1.4v1.4h-1.4zM412.8,616.6h1.4v1.4h-1.4zM450.6,601.8h1.4v1.4h-1.4zM401.7,605.1h1.4v1.4h-1.4zM397.9,609.1h1.4v1.4h-1.4zM425.9,611.1h1.4v1.4h-1.4zM399.6,606.8h1.4v1.4h-1.4zM438.9,611.5h1.4v1.4h-1.4zM453.2,603.1h1.4v1.4h-1.4zM422.5,615.6h1.4v1.4h-1.4zM426.8,607.6h1.4v1.4h-1.4zM408.0,611.3h1.4v1.4h-1.4zM427.6,607.3h1.4v1.4h-1.4zM446.1,608.9h1.4v1.4h-1.4zM410.5,612.1h1.4v1.4h-1.4zM431.8,607.5h1.4v1.4h-1.4zM435.9,602.9h1.4v1.4h-1.4zM454.1,607.3h1.4v1.4h-1.4zM425.2,609.1h1.4v1.4h-1.4zM398.2,608.5h1.4v1.4h-1.4zM423.3,601.6h1.4v1.4h-1.4zM451.4,611.8h1.4v1.4h-1.4zM399.8,611.2h1.4v1.4h-1.4zM461.8,617.7h1.4v1.4h-1.4zM423.0,612.7h1.4v1.4h-1.4zM426.4,603.3h1.4v1.4h-1.4zM411.1,605.7h1.4v1.4h-1.4zM439.1,604.8h1.4v1.4h-1.4zM425.6,609.7h1.4v1.4h-1.4zM405.9,611.5h1.4v1.4h-1.4zM459.2,613.2h1.4v1.4h-1.4zM413.8,613.3h1.4v1.4h-1.4zM434.0,608.0h1.4v1.4h-1.4zM441.2,610.3h1.4v1.4h-1.4zM413.1,605.5h1.4v1.4h-1.4zM403.8,606.2h1.4v1.4h-1.4zM441.8,609.9h1.4v1.4h-1.4zM431.7,611.5h1.4v1.4h-1.4zM413.2,607.4h1.4v1.4h-1.4zM402.1,610.3h1.4v1.4h-1.4zM433.9,606.2h1.4v1.4h-1.4zM429.9,605.4h1.4v1.4h-1.4zM422.6,609.6h1.4v1.4h-1.4zM409.9,605.4h1.4v1.4h-1.4zM410.4,606.7h1.4v1.4h-1.4zM439.6,607.8h1.4v1.4h-1.4zM415.1,615.6h1.4v1.4h-1.4zM419.8,603.4h1.4v1.4h-1.4zM410.3,603.3h1.4v1.4h-1.4zM434.5,608.7h1.4v1.4h-1.4zM456.7,614.5h1.4v1.4h-1.4zM414.0,604.1h1.4v1.4h-1.4zM451.8,612.8h1.4v1.4h-1.4zM427.0,601.0h1.4v1.4h-1.4zM442.6,611.9h1.4v1.4h-1.4zM428.1,616.6h1.4v1.4h-1.4zM427.9,609.6h1.4v1.4h-1.4zM432.3,615.1h1.4v1.4h-1.4zM436.4,608.7h1.4v1.4h-1.4zM459.0,613.8h1.4v1.4h-1.4zM412.9,605.9h1.4v1.4h-1.4zM436.5,613.5h1.4v1.4h-1.4zM411.7,608.9h1.4v1.4h-1.4zM409.9,605.2h1.4v1.4h-1.4zM414.1,600.2h1.4v1.4h-1.4zM433.9,602.7h1.4v1.4h-1.4zM446.0,612.2h1.4v1.4h-1.4zM443.3,611.7h1.4v1.4h-1.4zM426.9,605.0h1.4v1.4h-1.4zM457.2,616.9h1.4v1.4h-1.4zM447.9,614.3h1.4v1.4h-1.4zM459.6,607.6h1.4v1.4h-1.4zM406.1,609.9h1.4v1.4h-1.4zM436.8,616.5h1.4v1.4h-1.4zM438.9,607.6h1.4v1.4h-1.4zM413.7,605.5h1.4v1.4h-1.4zM429.2,612.4h1.4v1.4h-1.4zM457.6,610.6h1.4v1.4h-1.4zM452.8,611.4h1.4v1.4h-1.4zM446.1,617.1h1.4v1.4h-1.4zM424.1,614.4h1.4v1.4h-1.4zM415.2,614.5h1.4v1.4h-1.4zM405.6,606.6h1.4v1.4h-1.4zM406.6,602.9h1.4v1.4h-1.4zM399.2,603.4h1.4v1.4h-1.4zM410.1,600.7h1.4v1.4h-1.4zM436.9,607.6h1.4v1.4h-1.4zM456.4,612.7h1.4v1.4h-1.4zM422.3,605.2h1.4v1.4h-1.4zM436.2,602.6h1.4v1.4h-1.4zM409.5,611.4h1.4v1.4h-1.4zM428.2,610.7h1.4v1.4h-1.4zM461.5,612.3h1.4v1.4h-1.4zM457.6,613.6h1.4v1.4h-1.4zM458.7,603.2h1.4v1.4h-1.4zM412.1,614.3h1.4v1.4h-1.4zM418.5,614.3h1.4v1.4h-1.4zM447.1,617.0h1.4v1.4h-1.4zM434.6,603.4h1.4v1.4h-1.4zM428.2,606.6h1.4v1.4h-1.4zM395.7,605.9h1.4v1.4h-1.4zM430.3,609.2h1.4v1.4h-1.4zM433.6,616.5h1.4v1.4h-1.4zM406.5,606.0h1.4v1.4h-1.4zM447.3,610.9h1.4v1.4h-1.4zM442.0,610.8h1.4v1.4h-1.4zM401.3,608.9h1.4v1.4h-1.4zM459.2,617.1h1.4v1.4h-1.4zM445.6,618.3h1.4v1.4h-1.4zM430.2,604.5h1.4v1.4h-1.4zM414.2,606.7h1.4v1.4h-1.4zM423.9,613.6h1.4v1.4h-1.4zM432.7,613.8h1.4v1.4h-1.4zM403.8,606.7h1.4v1.4h-1.4zM413.5,608.6h1.4v1.4h-1.4zM430.4,617.5h1.4v1.4h-1.4zM434.5,607.4h1.4v1.4h-1.4zM462.3,604.2h1.4v1.4h-1.4zM458.8,613.6h1.4v1.4h-1.4zM443.0,602.7h1.4v1.4h-1.4zM429.1,602.6h1.4v1.4h-1.4zM406.6,602.5h1.4v1.4h-1.4zM409.3,605.1h1.4v1.4h-1.4zM418.6,607.8h1.4v1.4h-1.4zM430.1,610.3h1.4v1.4h-1.4zM445.9,605.8h1.4v1.4h-1.4zM418.7,610.9h1.4v1.4h-1.4zM402.8,609.1h1.4v1.4h-1.4zM457.9,612.0h1.4v1.4h-1.4zM413.0,607.3h1.4v1.4h-1.4zM431.7,614.9h1.4v1.4h-1.4zM427.3,612.5h1.4v1.4h-1.4zM448.2,603.3h1.4v1.4h-1.4zM426.6,614.4h1.4v1.4h-1.4zM404.2,602.2h1.4v1.4h-1.4zM417.7,602.7h1.4v1.4h-1.4zM422.0,613.6h1.4v1.4h-1.4zM444.4,611.1h1.4v1.4h-1.4zM400.6,604.4h1.4v1.4h-1.4zM415.4,609.0h1.4v1.4h-1.4zM458.7,612.7h1.4v1.4h-1.4zM454.3,602.3h1.4v1.4h-1.4zM454.4,616.2h1.4v1.4h-1.4zM403.6,609.1h1.4v1.4h-1.4zM419.9,603.3h1.4v1.4h-1.4zM432.1,614.7h1.4v1.4h-1.4zM400.3,608.0h1.4v1.4h-1.4zM452.3,608.3h1.4v1.4h-1.4zM448.4,612.7h1.4v1.4h-1.4zM460.3,612.7h1.4v1.4h-1.4zM449.8,615.2h1.4v1.4h-1.4zM451.3,614.4h1.4v1.4h-1.4zM424.1,613.0h1.4v1.4h-1.4zM441.7,607.4h1.4v1.4h-1.4zM434.3,612.4h1.4v1.4h-1.4zM421.9,610.4h1.4v1.4h-1.4zM421.9,612.0h1.4v1.4h-1.4zM425.5,606.7h1.4v1.4h-1.4zM445.1,603.8h1.4v1.4h-1.4zM454.3,604.1h1.4v1.4h-1.4zM452.6,618.9h1.4v1.4h-1.4zM437.1,613.8h1.4v1.4h-1.4zM417.5,598.6h1.4v1.4h-1.4zM429.0,607.1h1.4v1.4h-1.4zM431.7,601.8h1.4v1.4h-1.4zM447.9,604.2h1.4v1.4h-1.4zM430.9,614.9h1.4v1.4h-1.4zM418.3,612.8h1.4v1.4h-1.4zM458.7,611.0h1.4v1.4h-1.4zM433.8,614.6h1.4v1.4h-1.4zM452.8,603.1h1.4v1.4h-1.4zM438.7,604.3h1.4v1.4h-1.4zM451.2,610.8h1.4v1.4h-1.4zM457.2,614.2h1.4v1.4h-1.4zM439.8,607.0h1.4v1.4h-1.4zM410.7,609.0h1.4v1.4h-1.4zM454.5,615.6h1.4v1.4h-1.4zM434.8,611.8h1.4v1.4h-1.4zM458.2,610.7h1.4v1.4h-1.4zM415.1,609.7h1.4v1.4h-1.4zM448.8,613.5h1.4v1.4h-1.4zM419.9,603.7h1.4v1.4h-1.4zM426.4,598.7h1.4v1.4h-1.4zM440.0,617.6h1.4v1.4h-1.4zM444.0,617.1h1.4v1.4h-1.4zM420.0,604.3h1.4v1.4h-1.4zM461.1,606.1h1.4v1.4h-1.4zM431.6,616.0h1.4v1.4h-1.4zM455.9,608.9h1.4v1.4h-1.4zM408.7,612.6h1.4v1.4h-1.4zM429.3,607.6h1.4v1.4h-1.4zM418.4,605.3h1.4v1.4h-1.4zM463.2,604.0h1.4v1.4h-1.4zM458.1,615.3h1.4v1.4h-1.4zM417.4,609.9h1.4v1.4h-1.4zM408.5,605.2h1.4v1.4h-1.4zM424.8,600.6h1.4v1.4h-1.4zM433.9,610.5h1.4v1.4h-1.4zM435.3,617.3h1.4v1.4h-1.4zM449.9,600.7h1.4v1.4h-1.4zM408.4,610.8h1.4v1.4h-1.4zM439.1,612.2h1.4v1.4h-1.4zM415.9,603.2h1.4v1.4h-1.4zM457.7,605.4h1.4v1.4h-1.4zM429.1,607.0h1.4v1.4h-1.4zM459.3,610.2h1.4v1.4h-1.4zM434.3,613.0h1.4v1.4h-1.4zM463.5,604.9h1.4v1.4h-1.4zM439.5,609.1h1.4v1.4h-1.4zM447.1,609.3h1.4v1.4h-1.4zM423.7,614.0h1.4v1.4h-1.4zM431.4,611.8h1.4v1.4h-1.4zM421.7,612.1h1.4v1.4h-1.4zM419.6,609.6h1.4v1.4h-1.4zM430.1,604.6h1.4v1.4h-1.4zM408.2,609.6h1.4v1.4h-1.4zM448.5,608.8h1.4v1.4h-1.4zM440.8,613.0h1.4v1.4h-1.4zM447.3,610.6h1.4v1.4h-1.4zM445.0,608.3h1.4v1.4h-1.4zM450.7,612.8h1.4v1.4h-1.4zM438.4,614.7h1.4v1.4h-1.4zM459.1,609.6h1.4v1.4h-1.4zM462.0,607.1h1.4v1.4h-1.4zM438.1,607.0h1.4v1.4h-1.4zM412.6,608.3h1.4v1.4h-1.4zM451.0,613.2h1.4v1.4h-1.4zM410.5,609.8h1.4v1.4h-1.4zM453.5,610.9h1.4v1.4h-1.4zM433.9,605.4h1.4v1.4h-1.4zM411.4,610.5h1.4v1.4h-1.4zM433.6,617.4h1.4v1.4h-1.4zM413.9,608.0h1.4v1.4h-1.4zM427.6,604.4h1.4v1.4h-1.4zM413.4,607.8h1.4v1.4h-1.4zM461.3,613.9h1.4v1.4h-1.4zM405.2,605.8h1.4v1.4h-1.4zM430.5,604.0h1.4v1.4h-1.4zM430.7,607.5h1.4v1.4h-1.4zM437.6,611.8h1.4v1.4h-1.4zM440.0,614.7h1.4v1.4h-1.4zM443.7,608.5h1.4v1.4h-1.4zM455.0,610.3h1.4v1.4h-1.4zM448.4,610.9h1.4v1.4h-1.4zM423.6,600.7h1.4v1.4h-1.4zM435.6,603.7h1.4v1.4h-1.4zM447.3,615.7h1.4v1.4h-1.4zM440.1,606.8h1.4v1.4h-1.4zM431.2,611.2h1.4v1.4h-1.4zM428.3,613.4h1.4v1.4h-1.4zM452.3,610.3h1.4v1.4h-1.4zM426.5,616.4h1.4v1.4h-1.4zM417.7,605.0h1.4v1.4h-1.4zM459.5,610.9h1.4v1.4h-1.4zM437.9,616.7h1.4v1.4h-1.4zM455.1,612.6h1.4v1.4h-1.4zM436.6,615.8h1.4v1.4h-1.4zM425.7,603.8h1.4v1.4h-1.4zM455.6,609.7h1.4v1.4h-1.4zM433.5,614.4h1.4v1.4h-1.4zM442.2,613.0h1.4v1.4h-1.4zM455.9,601.3h1.4v1.4h-1.4zM435.6,611.9h1.4v1.4h-1.4zM408.0,602.3h1.4v1.4h-1.4zM445.0,602.0h1.4v1.4h-1.4zM420.3,612.0h1.4v1.4h-1.4zM456.1,609.0h1.4v1.4h-1.4zM439.5,614.8h1.4v1.4h-1.4zM449.2,605.3h1.4v1.4h-1.4zM431.8,603.0h1.4v1.4h-1.4zM434.7,612.0h1.4v1.4h-1.4zM415.0,600.4h1.4v1.4h-1.4zM442.9,607.8h1.4v1.4h-1.4zM456.9,615.4h1.4v1.4h-1.4zM427.5,602.9h1.4v1.4h-1.4zM435.0,607.2h1.4v1.4h-1.4zM431.5,616.6h1.4v1.4h-1.4zM443.1,607.2h1.4v1.4h-1.4zM419.2,602.5h1.4v1.4h-1.4zM434.9,614.4h1.4v1.4h-1.4zM429.4,606.9h1.4v1.4h-1.4zM423.7,609.0h1.4v1.4h-1.4zM408.6,613.7h1.4v1.4h-1.4zM400.9,609.5h1.4v1.4h-1.4zM455.5,608.6h1.4v1.4h-1.4zM430.1,614.6h1.4v1.4h-1.4zM436.9,607.2h1.4v1.4h-1.4zM413.2,602.8h1.4v1.4h-1.4zM450.4,614.8h1.4v1.4h-1.4zM436.4,603.4h1.4v1.4h-1.4zM421.8,606.6h1.4v1.4h-1.4zM442.7,616.5h1.4v1.4h-1.4zM461.7,611.3h1.4v1.4h-1.4zM419.7,605.1h1.4v1.4h-1.4zM440.9,601.3h1.4v1.4h-1.4zM409.3,610.4h1.4v1.4h-1.4zM412.1,612.5h1.4v1.4h-1.4zM445.8,602.7h1.4v1.4h-1.4zM429.8,606.5h1.4v1.4h-1.4zM428.4,618.9h1.4v1.4h-1.4zM402.0,604.5h1.4v1.4h-1.4zM436.0,601.5h1.4v1.4h-1.4zM420.7,607.1h1.4v1.4h-1.4zM453.2,612.7h1.4v1.4h-1.4zM437.0,609.1h1.4v1.4h-1.4zM421.4,609.8h1.4v1.4h-1.4zM406.9,600.6h1.4v1.4h-1.4zM451.6,617.4h1.4v1.4h-1.4zM400.0,606.9h1.4v1.4h-1.4zM407.3,605.4h1.4v1.4h-1.4zM433.5,607.9h1.4v1.4h-1.4zM439.5,612.6h1.4v1.4h-1.4zM428.4,604.8h1.4v1.4h-1.4zM440.9,613.5h1.4v1.4h-1.4zM411.8,611.9h1.4v1.4h-1.4zM432.7,605.7h1.4v1.4h-1.4zM410.5,610.3h1.4v1.4h-1.4zM430.2,613.9h1.4v1.4h-1.4zM431.3,602.1h1.4v1.4h-1.4zM433.6,604.9h1.4v1.4h-1.4zM415.1,613.6h1.4v1.4h-1.4zM424.9,617.1h1.4v1.4h-1.4zM401.3,609.0h1.4v1.4h-1.4zM414.0,609.1h1.4v1.4h-1.4zM428.9,607.1h1.4v1.4h-1.4zM412.8,605.6h1.4v1.4h-1.4zM460.0,605.3h1.4v1.4h-1.4zM447.7,601.1h1.4v1.4h-1.4zM419.2,601.8h1.4v1.4h-1.4zM413.5,609.8h1.4v1.4h-1.4zM410.2,605.2h1.4v1.4h-1.4zM399.6,609.9h1.4v1.4h-1.4zM450.1,608.2h1.4v1.4h-1.4zM427.0,600.9h1.4v1.4h-1.4zM434.9,614.7h1.4v1.4h-1.4zM434.8,603.8h1.4v1.4h-1.4zM459.9,610.1h1.4v1.4h-1.4zM430.8,614.1h1.4v1.4h-1.4zM422.1,608.0h1.4v1.4h-1.4zM436.2,605.4h1.4v1.4h-1.4zM430.5,609.6h1.4v1.4h-1.4zM431.1,601.1h1.4v1.4h-1.4zM463.3,607.0h1.4v1.4h-1.4zM429.2,613.0h1.4v1.4h-1.4zM429.5,612.8h1.4v1.4h-1.4zM446.6,611.7h1.4v1.4h-1.4zM445.6,604.4h1.4v1.4h-1.4zM424.3,605.7h1.4v1.4h-1.4zM423.8,613.6h1.4v1.4h-1.4zM454.6,604.8h1.4v1.4h-1.4zM406.1,606.5h1.4v1.4h-1.4zM431.5,611.7h1.4v1.4h-1.4zM436.2,609.8h1.4v1.4h-1.4zM463.1,612.5h1.4v1.4h-1.4zM443.9,603.5h1.4v1.4h-1.4zM423.4,614.8h1.4v1.4h-1.4zM445.6,606.5h1.4v1.4h-1.4zM429.2,610.5h1.4v1.4h-1.4zM439.3,611.2h1.4v1.4h-1.4zM425.1,616.0h1.4v1.4h-1.4zM449.4,607.6h1.4v1.4h-1.4zM417.2,604.4h1.4v1.4h-1.4zM428.6,615.8h1.4v1.4h-1.4zM447.5,609.0h1.4v1.4h-1.4zM460.7,607.9h1.4v1.4h-1.4zM437.1,606.1h1.4v1.4h-1.4zM454.8,611.2h1.4v1.4h-1.4zM449.3,614.0h1.4v1.4h-1.4zM425.4,614.9h1.4v1.4h-1.4zM448.7,608.7h1.4v1.4h-1.4zM414.5,607.2h1.4v1.4h-1.4zM435.0,612.5h1.4v1.4h-1.4zM440.4,606.1h1.4v1.4h-1.4zM427.8,603.6h1.4v1.4h-1.4zM412.8,604.8h1.4v1.4h-1.4zM400.9,607.1h1.4v1.4h-1.4zM415.9,612.8h1.4v1.4h-1.4zM418.4,614.1h1.4v1.4h-1.4zM463.1,604.9h1.4v1.4h-1.4zM451.6,614.2h1.4v1.4h-1.4zM404.9,613.3h1.4v1.4h-1.4zM443.3,607.9h1.4v1.4h-1.4zM449.1,613.1h1.4v1.4h-1.4zM459.1,602.4h1.4v1.4h-1.4zM416.2,605.9h1.4v1.4h-1.4zM429.9,602.6h1.4v1.4h-1.4zM430.0,609.6h1.4v1.4h-1.4zM424.6,600.7h1.4v1.4h-1.4zM423.2,610.7h1.4v1.4h-1.4zM403.9,605.3h1.4v1.4h-1.4zM428.4,603.8h1.4v1.4h-1.4zM432.1,606.0h1.4v1.4h-1.4zM414.4,610.3h1.4v1.4h-1.4zM419.8,610.1h1.4v1.4h-1.4zM413.6,610.8h1.4v1.4h-1.4zM415.9,610.9h1.4v1.4h-1.4zM442.2,611.9h1.4v1.4h-1.4zM433.0,616.7h1.4v1.4h-1.4zM409.8,611.2h1.4v1.4h-1.4zM427.4,607.6h1.4v1.4h-1.4zM432.1,610.6h1.4v1.4h-1.4zM418.7,606.3h1.4v1.4h-1.4zM443.2,603.9h1.4v1.4h-1.4zM431.5,606.6h1.4v1.4h-1.4zM428.2,600.3h1.4v1.4h-1.4zM425.6,617.9h1.4v1.4h-1.4zM425.6,600.5h1.4v1.4h-1.4zM463.5,610.4h1.4v1.4h-1.4zM440.5,611.8h1.4v1.4h-1.4zM455.3,609.7h1.4v1.4h-1.4zM452.2,609.5h1.4v1.4h-1.4zM443.7,615.7h1.4v1.4h-1.4zM405.1,612.3h1.4v1.4h-1.4zM439.1,606.7h1.4v1.4h-1.4zM437.7,603.2h1.4v1.4h-1.4zM425.3,604.3h1.4v1.4h-1.4zM414.3,610.7h1.4v1.4h-1.4zM444.7,615.2h1.4v1.4h-1.4zM447.0,609.8h1.4v1.4h-1.4zM417.2,601.1h1.4v1.4h-1.4zM398.2,608.0h1.4v1.4h-1.4zM432.0,609.2h1.4v1.4h-1.4zM412.7,605.3h1.4v1.4h-1.4zM406.0,607.2h1.4v1.4h-1.4zM421.4,606.8h1.4v1.4h-1.4zM407.8,613.3h1.4v1.4h-1.4zM401.6,603.0h1.4v1.4h-1.4zM424.3,608.2h1.4v1.4h-1.4zM404.2,609.0h1.4v1.4h-1.4zM417.6,604.5h1.4v1.4h-1.4zM450.6,603.3h1.4v1.4h-1.4zM437.8,613.3h1.4v1.4h-1.4zM412.6,612.4h1.4v1.4h-1.4zM415.5,610.1h1.4v1.4h-1.4zM455.4,616.6h1.4v1.4h-1.4zM444.2,604.0h1.4v1.4h-1.4zM407.9,602.0h1.4v1.4h-1.4zM427.1,601.2h1.4v1.4h-1.4zM455.6,609.2h1.4v1.4h-1.4zM463.0,607.9h1.4v1.4h-1.4zM432.7,603.5h1.4v1.4h-1.4zM441.2,609.6h1.4v1.4h-1.4zM445.5,614.9h1.4v1.4h-1.4zM421.1,599.2h1.4v1.4h-1.4zM453.6,607.5h1.4v1.4h-1.4zM459.0,611.7h1.4v1.4h-1.4zM405.6,603.5h1.4v1.4h-1.4zM418.9,616.6h1.4v1.4h-1.4zM452.2,606.5h1.4v1.4h-1.4zM441.6,609.3h1.4v1.4h-1.4zM442.1,614.0h1.4v1.4h-1.4zM462.4,608.8h1.4v1.4h-1.4zM395.7,605.3h1.4v1.4h-1.4zM421.1,615.1h1.4v1.4h-1.4zM398.8,607.2h1.4v1.4h-1.4zM444.2,614.0h1.4v1.4h-1.4zM449.0,614.0h1.4v1.4h-1.4zM413.5,613.2h1.4v1.4h-1.4zM424.4,618.1h1.4v1.4h-1.4zM449.7,607.4h1.4v1.4h-1.4zM428.5,616.8h1.4v1.4h-1.4zM463.8,608.6h1.4v1.4h-1.4zM434.2,612.6h1.4v1.4h-1.4zM436.5,612.2h1.4v1.4h-1.4zM423.4,605.3h1.4v1.4h-1.4zM412.7,610.3h1.4v1.4h-1.4zM436.1,613.4h1.4v1.4h-1.4zM431.6,613.5h1.4v1.4h-1.4zM443.8,618.7h1.4v1.4h-1.4zM461.0,613.2h1.4v1.4h-1.4zM456.7,605.2h1.4v1.4h-1.4zM426.9,614.7h1.4v1.4h-1.4zM467.0,608.6h1.4v1.4h-1.4zM411.0,615.6h1.4v1.4h-1.4zM439.9,613.0h1.4v1.4h-1.4zM439.8,611.6h1.4v1.4h-1.4zM419.6,615.1h1.4v1.4h-1.4zM427.0,609.2h1.4v1.4h-1.4zM443.4,606.9h1.4v1.4h-1.4zM425.8,614.5h1.4v1.4h-1.4zM429.4,608.4h1.4v1.4h-1.4zM446.4,606.1h1.4v1.4h-1.4zM448.1,609.4h1.4v1.4h-1.4zM411.7,611.2h1.4v1.4h-1.4zM421.6,612.3h1.4v1.4h-1.4zM459.4,606.2h1.4v1.4h-1.4zM444.5,608.7h1.4v1.4h-1.4zM427.5,609.8h1.4v1.4h-1.4zM441.9,612.0h1.4v1.4h-1.4zM417.4,613.6h1.4v1.4h-1.4zM415.0,609.0h1.4v1.4h-1.4zM419.3,608.7h1.4v1.4h-1.4zM425.4,613.6h1.4v1.4h-1.4zM407.0,613.1h1.4v1.4h-1.4zM405.0,608.2h1.4v1.4h-1.4zM397.0,603.0h1.4v1.4h-1.4zM441.9,611.8h1.4v1.4h-1.4zM412.9,601.9h1.4v1.4h-1.4zM418.4,613.0h1.4v1.4h-1.4zM432.6,603.8h1.4v1.4h-1.4zM401.0,606.4h1.4v1.4h-1.4zM439.4,604.0h1.4v1.4h-1.4zM425.3,610.2h1.4v1.4h-1.4zM436.0,610.7h1.4v1.4h-1.4zM411.3,606.4h1.4v1.4h-1.4zM419.0,608.7h1.4v1.4h-1.4zM420.7,614.9h1.4v1.4h-1.4zM411.5,611.6h1.4v1.4h-1.4zM431.8,601.5h1.4v1.4h-1.4zM423.8,609.4h1.4v1.4h-1.4zM415.5,608.6h1.4v1.4h-1.4zM408.2,613.0h1.4v1.4h-1.4zM444.9,616.4h1.4v1.4h-1.4zM453.5,609.4h1.4v1.4h-1.4zM442.0,606.1h1.4v1.4h-1.4zM428.3,614.8h1.4v1.4h-1.4zM431.3,613.7h1.4v1.4h-1.4zM446.5,607.8h1.4v1.4h-1.4zM454.6,614.3h1.4v1.4h-1.4zM450.7,615.6h1.4v1.4h-1.4zM415.6,611.3h1.4v1.4h-1.4zM417.6,602.5h1.4v1.4h-1.4zM400.0,611.8h1.4v1.4h-1.4zM406.2,610.5h1.4v1.4h-1.4zM429.1,606.9h1.4v1.4h-1.4zM431.8,613.6h1.4v1.4h-1.4zM406.1,604.1h1.4v1.4h-1.4zM438.7,611.4h1.4v1.4h-1.4zM460.5,604.4h1.4v1.4h-1.4zM453.2,608.8h1.4v1.4h-1.4zM430.7,609.3h1.4v1.4h-1.4zM451.6,608.5h1.4v1.4h-1.4zM448.0,600.7h1.4v1.4h-1.4zM443.2,605.5h1.4v1.4h-1.4zM461.8,614.3h1.4v1.4h-1.4zM441.6,603.6h1.4v1.4h-1.4zM433.5,613.8h1.4v1.4h-1.4zM405.0,605.3h1.4v1.4h-1.4zM427.8,609.9h1.4v1.4h-1.4zM397.1,604.5h1.4v1.4h-1.4zM407.5,615.0h1.4v1.4h-1.4zM442.7,608.9h1.4v1.4h-1.4zM434.9,603.6h1.4v1.4h-1.4zM460.2,611.4h1.4v1.4h-1.4zM437.5,608.0h1.4v1.4h-1.4zM422.1,607.5h1.4v1.4h-1.4zM427.6,615.3h1.4v1.4h-1.4zM438.9,610.0h1.4v1.4h-1.4zM422.4,617.7h1.4v1.4h-1.4zM451.6,608.9h1.4v1.4h-1.4zM435.1,605.3h1.4v1.4h-1.4zM454.8,607.6h1.4v1.4h-1.4zM432.3,616.3h1.4v1.4h-1.4zM418.3,609.8h1.4v1.4h-1.4zM399.7,601.7h1.4v1.4h-1.4zM447.0,604.4h1.4v1.4h-1.4zM402.0,607.4h1.4v1.4h-1.4zM418.6,609.0h1.4v1.4h-1.4zM433.5,610.2h1.4v1.4h-1.4zM453.6,613.0h1.4v1.4h-1.4zM424.2,603.2h1.4v1.4h-1.4zM412.0,606.3h1.4v1.4h-1.4zM425.1,609.0h1.4v1.4h-1.4zM452.8,603.1h1.4v1.4h-1.4zM458.2,611.6h1.4v1.4h-1.4zM439.7,616.3h1.4v1.4h-1.4zM463.1,613.6h1.4v1.4h-1.4zM426.4,602.6h1.4v1.4h-1.4zM441.3,610.2h1.4v1.4h-1.4zM417.2,601.8h1.4v1.4h-1.4zM418.8,611.5h1.4v1.4h-1.4zM422.3,604.8h1.4v1.4h-1.4zM412.1,615.2h1.4v1.4h-1.4zM439.8,614.2h1.4v1.4h-1.4zM425.1,601.4h1.4v1.4h-1.4zM437.5,602.0h1.4v1.4h-1.4zM439.3,611.9h1.4v1.4h-1.4zM448.2,610.8h1.4v1.4h-1.4zM399.0,607.2h1.4v1.4h-1.4zM431.6,606.7h1.4v1.4h-1.4zM421.7,611.4h1.4v1.4h-1.4zM434.1,606.3h1.4v1.4h-1.4zM425.0,606.1h1.4v1.4h-1.4zM413.8,616.5h1.4v1.4h-1.4zM428.0,615.7h1.4v1.4h-1.4zM408.7,599.8h1.4v1.4h-1.4zM450.4,610.4h1.4v1.4h-1.4zM430.8,603.2h1.4v1.4h-1.4zM416.2,606.8h1.4v1.4h-1.4zM436.9,610.9h1.4v1.4h-1.4zM420.5,606.5h1.4v1.4h-1.4zM421.9,614.9h1.4v1.4h-1.4zM445.8,604.4h1.4v1.4h-1.4zM460.7,605.2h1.4v1.4h-1.4zM449.6,608.7h1.4v1.4h-1.4zM441.3,614.9h1.4v1.4h-1.4zM430.5,605.7h1.4v1.4h-1.4zM420.1,614.6h1.4v1.4h-1.4zM437.8,604.5h1.4v1.4h-1.4zM455.2,602.7h1.4v1.4h-1.4zM422.2,603.5h1.4v1.4h-1.4zM411.9,601.7h1.4v1.4h-1.4zM410.8,611.7h1.4v1.4h-1.4zM443.8,618.2h1.4v1.4h-1.4zM432.8,599.5h1.4v1.4h-1.4zM426.7,608.3h1.4v1.4h-1.4zM401.5,601.5h1.4v1.4h-1.4zM411.5,605.1h1.4v1.4h-1.4zM448.7,615.9h1.4v1.4h-1.4zM436.8,611.7h1.4v1.4h-1.4zM410.1,610.4h1.4v1.4h-1.4zM460.8,605.2h1.4v1.4h-1.4zM426.2,602.6h1.4v1.4h-1.4zM411.8,606.7h1.4v1.4h-1.4zM427.7,612.3h1.4v1.4h-1.4zM409.3,609.4h1.4v1.4h-1.4zM428.1,612.6h1.4v1.4h-1.4zM455.5,612.6h1.4v1.4h-1.4zM441.9,601.1h1.4v1.4h-1.4zM437.9,606.0h1.4v1.4h-1.4zM438.4,610.6h1.4v1.4h-1.4zM447.3,617.5h1.4v1.4h-1.4zM433.1,606.2h1.4v1.4h-1.4zM437.4,602.8h1.4v1.4h-1.4zM433.5,616.0h1.4v1.4h-1.4zM447.5,607.7h1.4v1.4h-1.4zM462.4,611.1h1.4v1.4h-1.4zM463.1,604.3h1.4v1.4h-1.4zM426.9,608.4h1.4v1.4h-1.4zM452.5,616.4h1.4v1.4h-1.4zM420.2,620.5h1.4v1.4h-1.4zM428.7,614.1h1.4v1.4h-1.4zM402.3,615.5h1.4v1.4h-1.4zM440.6,608.0h1.4v1.4h-1.4zM436.1,617.8h1.4v1.4h-1.4zM423.0,603.9h1.4v1.4h-1.4zM429.9,607.6h1.4v1.4h-1.4zM402.6,602.5h1.4v1.4h-1.4zM403.8,602.8h1.4v1.4h-1.4zM417.7,605.6h1.4v1.4h-1.4zM461.2,604.9h1.4v1.4h-1.4zM455.2,607.3h1.4v1.4h-1.4zM417.7,612.7h1.4v1.4h-1.4zM454.4,604.7h1.4v1.4h-1.4zM401.9,601.5h1.4v1.4h-1.4zM410.2,609.1h1.4v1.4h-1.4zM408.6,604.5h1.4v1.4h-1.4zM420.9,610.0h1.4v1.4h-1.4zM455.8,617.3h1.4v1.4h-1.4zM407.7,610.4h1.4v1.4h-1.4zM428.3,614.8h1.4v1.4h-1.4zM407.7,610.7h1.4v1.4h-1.4zM402.6,607.9h1.4v1.4h-1.4zM426.9,613.3h1.4v1.4h-1.4zM454.4,608.4h1.4v1.4h-1.4zM412.7,616.7h1.4v1.4h-1.4zM412.7,612.3h1.4v1.4h-1.4zM467.2,609.8h1.4v1.4h-1.4zM424.2,612.3h1.4v1.4h-1.4zM452.8,615.8h1.4v1.4h-1.4zM416.0,606.8h1.4v1.4h-1.4zM405.2,604.1h1.4v1.4h-1.4zM448.2,609.1h1.4v1.4h-1.4zM452.8,613.8h1.4v1.4h-1.4zM445.4,602.0h1.4v1.4h-1.4zM435.4,607.8h1.4v1.4h-1.4zM452.9,604.0h1.4v1.4h-1.4zM412.8,609.5h1.4v1.4h-1.4zM397.8,611.9h1.4v1.4h-1.4zM422.5,606.6h1.4v1.4h-1.4zM435.8,604.0h1.4v1.4h-1.4zM437.0,607.5h1.4v1.4h-1.4zM414.3,607.3h1.4v1.4h-1.4zM431.2,614.4h1.4v1.4h-1.4zM453.8,603.6h1.4v1.4h-1.4zM441.2,610.9h1.4v1.4h-1.4zM417.7,601.7h1.4v1.4h-1.4zM458.9,611.7h1.4v1.4h-1.4zM436.5,615.0h1.4v1.4h-1.4zM404.6,604.0h1.4v1.4h-1.4zM448.7,607.9h1.4v1.4h-1.4zM455.3,611.9h1.4v1.4h-1.4zM461.6,610.1h1.4v1.4h-1.4zM455.3,613.8h1.4v1.4h-1.4zM404.2,600.6h1.4v1.4h-1.4zM462.5,613.2h1.4v1.4h-1.4zM455.2,602.6h1.4v1.4h-1.4zM418.3,607.9h1.4v1.4h-1.4zM412.9,600.1h1.4v1.4h-1.4zM428.5,608.6h1.4v1.4h-1.4zM410.2,612.5h1.4v1.4h-1.4zM433.9,616.5h1.4v1.4h-1.4zM429.1,615.8h1.4v1.4h-1.4zM422.6,605.6h1.4v1.4h-1.4zM399.3,609.7h1.4v1.4h-1.4zM422.0,601.5h1.4v1.4h-1.4zM409.8,614.8h1.4v1.4h-1.4zM437.7,617.2h1.4v1.4h-1.4zM451.3,614.1h1.4v1.4h-1.4zM459.1,605.1h1.4v1.4h-1.4zM442.2,601.2h1.4v1.4h-1.4zM432.1,609.1h1.4v1.4h-1.4zM413.6,602.4h1.4v1.4h-1.4zM436.0,610.3h1.4v1.4h-1.4zM452.5,612.0h1.4v1.4h-1.4zM452.5,618.2h1.4v1.4h-1.4zM437.8,617.1h1.4v1.4h-1.4zM431.5,610.0h1.4v1.4h-1.4zM444.3,615.2h1.4v1.4h-1.4zM452.5,602.6h1.4v1.4h-1.4zM441.6,614.4h1.4v1.4h-1.4zM456.7,605.4h1.4v1.4h-1.4zM413.1,602.7h1.4v1.4h-1.4zM417.6,604.5h1.4v1.4h-1.4zM437.2,621.3h1.4v1.4h-1.4zM435.6,603.3h1.4v1.4h-1.4zM439.3,608.4h1.4v1.4h-1.4zM437.9,615.1h1.4v1.4h-1.4zM451.2,612.6h1.4v1.4h-1.4zM448.8,617.8h1.4v1.4h-1.4zM452.8,607.6h1.4v1.4h-1.4zM404.7,604.4h1.4v1.4h-1.4zM436.4,614.1h1.4v1.4h-1.4zM451.2,604.0h1.4v1.4h-1.4zM436.8,614.4h1.4v1.4h-1.4zM462.4,604.6h1.4v1.4h-1.4zM423.1,613.9h1.4v1.4h-1.4zM403.3,614.4h1.4v1.4h-1.4zM458.3,612.8h1.4v1.4h-1.4zM412.7,610.2h1.4v1.4h-1.4zM415.8,608.5h1.4v1.4h-1.4zM411.3,604.9h1.4v1.4h-1.4zM427.5,608.8h1.4v1.4h-1.4zM458.4,610.0h1.4v1.4h-1.4zM404.0,604.6h1.4v1.4h-1.4zM415.7,611.4h1.4v1.4h-1.4zM424.0,601.7h1.4v1.4h-1.4zM454.4,612.2h1.4v1.4h-1.4zM450.9,605.8h1.4v1.4h-1.4zM454.5,612.2h1.4v1.4h-1.4zM446.7,607.7h1.4v1.4h-1.4zM430.4,611.8h1.4v1.4h-1.4zM421.8,612.7h1.4v1.4h-1.4zM418.7,608.1h1.4v1.4h-1.4zM463.1,604.3h1.4v1.4h-1.4zM439.4,613.3h1.4v1.4h-1.4zM440.0,606.7h1.4v1.4h-1.4zM411.8,609.8h1.4v1.4h-1.4zM444.6,612.0h1.4v1.4h-1.4zM437.9,613.8h1.4v1.4h-1.4zM424.4,601.8h1.4v1.4h-1.4zM426.8,605.1h1.4v1.4h-1.4zM465.0,605.5h1.4v1.4h-1.4zM447.7,615.1h1.4v1.4h-1.4zM410.7,604.1h1.4v1.4h-1.4zM449.8,606.1h1.4v1.4h-1.4zM446.8,611.5h1.4v1.4h-1.4zM437.3,620.2h1.4v1.4h-1.4zM450.8,607.9h1.4v1.4h-1.4zM449.1,609.7h1.4v1.4h-1.4zM408.7,612.0h1.4v1.4h-1.4zM449.1,601.3h1.4v1.4h-1.4zM415.9,610.8h1.4v1.4h-1.4zM433.1,606.1h1.4v1.4h-1.4zM408.0,609.9h1.4v1.4h-1.4zM436.4,610.2h1.4v1.4h-1.4zM431.6,607.6h1.4v1.4h-1.4zM408.1,609.3h1.4v1.4h-1.4zM440.3,609.9h1.4v1.4h-1.4zM405.6,604.9h1.4v1.4h-1.4zM449.5,606.1h1.4v1.4h-1.4zM458.7,614.9h1.4v1.4h-1.4zM402.0,604.9h1.4v1.4h-1.4zM446.9,601.5h1.4v1.4h-1.4zM414.5,605.8h1.4v1.4h-1.4zM419.0,609.7h1.4v1.4h-1.4zM462.1,611.0h1.4v1.4h-1.4zM455.9,609.6h1.4v1.4h-1.4zM464.0,603.8h1.4v1.4h-1.4zM421.4,601.9h1.4v1.4h-1.4zM450.1,601.0h1.4v1.4h-1.4zM437.6,613.3h1.4v1.4h-1.4zM418.3,605.7h1.4v1.4h-1.4zM455.6,615.8h1.4v1.4h-1.4zM413.8,603.1h1.4v1.4h-1.4zM454.1,605.8h1.4v1.4h-1.4zM442.7,609.5h1.4v1.4h-1.4zM404.9,604.8h1.4v1.4h-1.4zM451.5,604.8h1.4v1.4h-1.4zM437.0,614.2h1.4v1.4h-1.4zM443.0,613.7h1.4v1.4h-1.4zM405.5,614.6h1.4v1.4h-1.4zM411.7,601.8h1.4v1.4h-1.4zM401.5,603.7h1.4v1.4h-1.4zM414.8,610.5h1.4v1.4h-1.4zM452.9,607.7h1.4v1.4h-1.4zM406.2,606.4h1.4v1.4h-1.4zM411.7,602.2h1.4v1.4h-1.4zM410.7,602.0h1.4v1.4h-1.4zM416.6,611.1h1.4v1.4h-1.4zM409.7,609.3h1.4v1.4h-1.4zM440.7,616.5h1.4v1.4h-1.4zM460.8,613.0h1.4v1.4h-1.4zM452.5,608.9h1.4v1.4h-1.4zM440.3,615.5h1.4v1.4h-1.4zM413.2,602.7h1.4v1.4h-1.4zM442.2,606.2h1.4v1.4h-1.4zM425.3,602.8h1.4v1.4h-1.4zM426.8,608.6h1.4v1.4h-1.4zM406.5,607.0h1.4v1.4h-1.4zM445.8,616.1h1.4v1.4h-1.4zM405.7,609.0h1.4v1.4h-1.4zM440.8,609.8h1.4v1.4h-1.4zM415.6,603.2h1.4v1.4h-1.4zM406.7,607.7h1.4v1.4h-1.4zM436.3,611.6h1.4v1.4h-1.4zM454.3,599.5h1.4v1.4h-1.4zM399.7,609.7h1.4v1.4h-1.4zM406.1,606.0h1.4v1.4h-1.4zM426.2,621.6h1.4v1.4h-1.4zM403.5,607.0h1.4v1.4h-1.4zM443.4,602.5h1.4v1.4h-1.4zM422.6,612.5h1.4v1.4h-1.4zM432.0,612.6h1.4v1.4h-1.4zM430.9,607.4h1.4v1.4h-1.4zM422.7,610.9h1.4v1.4h-1.4zM443.1,617.2h1.4v1.4h-1.4zM427.9,618.4h1.4v1.4h-1.4zM406.5,612.1h1.4v1.4h-1.4zM436.2,614.3h1.4v1.4h-1.4zM433.5,610.6h1.4v1.4h-1.4zM450.0,609.1h1.4v1.4h-1.4zM400.5,610.5h1.4v1.4h-1.4zM425.7,613.0h1.4v1.4h-1.4zM434.7,616.4h1.4v1.4h-1.4zM423.5,609.8h1.4v1.4h-1.4zM422.6,602.1h1.4v1.4h-1.4zM436.1,608.6h1.4v1.4h-1.4zM453.2,605.8h1.4v1.4h-1.4zM440.9,603.0h1.4v1.4h-1.4zM424.4,611.9h1.4v1.4h-1.4zM450.2,612.2h1.4v1.4h-1.4zM412.8,604.3h1.4v1.4h-1.4zM443.9,604.2h1.4v1.4h-1.4zM444.2,619.3h1.4v1.4h-1.4zM414.7,609.6h1.4v1.4h-1.4zM412.5,601.4h1.4v1.4h-1.4zM435.2,610.7h1.4v1.4h-1.4zM442.6,612.7h1.4v1.4h-1.4zM438.4,609.6h1.4v1.4h-1.4zM433.4,611.2h1.4v1.4h-1.4zM401.5,609.6h1.4v1.4h-1.4zM436.2,607.8h1.4v1.4h-1.4zM438.0,611.4h1.4v1.4h-1.4zM439.1,613.8h1.4v1.4h-1.4zM453.7,601.4h1.4v1.4h-1.4zM434.8,607.6h1.4v1.4h-1.4zM430.0,610.9h1.4v1.4h-1.4zM436.8,613.7h1.4v1.4h-1.4zM406.2,612.2h1.4v1.4h-1.4zM451.9,610.0h1.4v1.4h-1.4zM407.1,610.7h1.4v1.4h-1.4zM420.5,612.9h1.4v1.4h-1.4zM420.8,613.3h1.4v1.4h-1.4zM449.3,603.0h1.4v1.4h-1.4zM442.7,615.5h1.4v1.4h-1.4zM406.0,606.9h1.4v1.4h-1.4zM418.1,602.3h1.4v1.4h-1.4zM439.7,610.4h1.4v1.4h-1.4zM422.9,604.8h1.4v1.4h-1.4zM411.8,603.6h1.4v1.4h-1.4zM423.8,608.6h1.4v1.4h-1.4zM399.3,604.7h1.4v1.4h-1.4zM435.1,610.2h1.4v1.4h-1.4zM421.7,607.7h1.4v1.4h-1.4zM453.6,611.6h1.4v1.4h-1.4zM431.2,607.7h1.4v1.4h-1.4zM435.6,611.7h1.4v1.4h-1.4zM401.9,610.6h1.4v1.4h-1.4zM457.4,605.9h1.4v1.4h-1.4zM412.1,614.2h1.4v1.4h-1.4zM429.6,613.2h1.4v1.4h-1.4zM404.0,608.0h1.4v1.4h-1.4zM446.8,608.1h1.4v1.4h-1.4zM415.0,608.9h1.4v1.4h-1.4zM426.1,619.4h1.4v1.4h-1.4zM429.4,611.6h1.4v1.4h-1.4zM410.6,609.9h1.4v1.4h-1.4zM452.2,606.4h1.4v1.4h-1.4zM439.1,609.8h1.4v1.4h-1.4zM404.6,611.6h1.4v1.4h-1.4zM423.1,612.7h1.4v1.4h-1.4zM441.5,615.9h1.4v1.4h-1.4zM451.2,609.0h1.4v1.4h-1.4zM464.8,613.3h1.4v1.4h-1.4zM401.5,605.1h1.4v1.4h-1.4zM459.7,609.1h1.4v1.4h-1.4zM459.2,608.7h1.4v1.4h-1.4zM398.9,606.7h1.4v1.4h-1.4zM442.3,606.9h1.4v1.4h-1.4zM449.0,613.0h1.4v1.4h-1.4zM461.0,608.6h1.4v1.4h-1.4zM458.1,609.5h1.4v1.4h-1.4zM423.6,606.6h1.4v1.4h-1.4zM421.4,609.0h1.4v1.4h-1.4zM439.0,603.6h1.4v1.4h-1.4zM422.2,618.6h1.4v1.4h-1.4zM436.5,601.0h1.4v1.4h-1.4zM418.7,606.8h1.4v1.4h-1.4zM462.9,602.8h1.4v1.4h-1.4zM405.0,603.9h1.4v1.4h-1.4zM427.3,616.3h1.4v1.4h-1.4zM443.5,608.8h1.4v1.4h-1.4zM411.7,611.1h1.4v1.4h-1.4zM455.3,600.2h1.4v1.4h-1.4zM401.0,609.0h1.4v1.4h-1.4zM441.0,613.3h1.4v1.4h-1.4zM402.8,602.3h1.4v1.4h-1.4zM418.7,613.3h1.4v1.4h-1.4zM455.5,607.9h1.4v1.4h-1.4zM424.9,614.1h1.4v1.4h-1.4zM420.3,608.5h1.4v1.4h-1.4zM452.0,605.7h1.4v1.4h-1.4zM434.2,613.4h1.4v1.4h-1.4zM399.9,601.9h1.4v1.4h-1.4zM454.8,606.4h1.4v1.4h-1.4zM434.1,614.7h1.4v1.4h-1.4zM449.6,605.6h1.4v1.4h-1.4zM404.4,603.8h1.4v1.4h-1.4zM428.6,617.3h1.4v1.4h-1.4zM460.6,613.5h1.4v1.4h-1.4zM444.7,610.2h1.4v1.4h-1.4zM431.3,610.8h1.4v1.4h-1.4zM452.7,616.1h1.4v1.4h-1.4zM432.6,606.8h1.4v1.4h-1.4zM429.3,607.5h1.4v1.4h-1.4zM408.1,607.6h1.4v1.4h-1.4zM417.8,614.5h1.4v1.4h-1.4zM443.8,609.6h1.4v1.4h-1.4zM413.2,610.6h1.4v1.4h-1.4zM416.1,606.3h1.4v1.4h-1.4zM461.4,609.6h1.4v1.4h-1.4zM436.5,606.9h1.4v1.4h-1.4zM409.0,610.2h1.4v1.4h-1.4zM435.3,612.7h1.4v1.4h-1.4zM458.7,606.6h1.4v1.4h-1.4zM452.2,614.5h1.4v1.4h-1.4zM416.0,606.0h1.4v1.4h-1.4zM437.4,611.4h1.4v1.4h-1.4zM404.8,606.8h1.4v1.4h-1.4zM443.0,600.6h1.4v1.4h-1.4zM408.7,609.8h1.4v1.4h-1.4zM409.6,608.7h1.4v1.4h-1.4zM441.0,619.1h1.4v1.4h-1.4zM439.9,611.3h1.4v1.4h-1.4zM430.9,609.1h1.4v1.4h-1.4zM441.9,615.5h1.4v1.4h-1.4zM422.8,606.1h1.4v1.4h-1.4zM454.8,605.3h1.4v1.4h-1.4zM428.3,604.6h1.4v1.4h-1.4zM444.5,606.7h1.4v1.4h-1.4zM406.9,605.2h1.4v1.4h-1.4zM434.0,612.2h1.4v1.4h-1.4zM447.6,604.3h1.4v1.4h-1.4zM423.0,614.0h1.4v1.4h-1.4zM444.3,605.3h1.4v1.4h-1.4zM424.2,601.1h1.4v1.4h-1.4zM412.6,616.4h1.4v1.4h-1.4zM444.0,607.5h1.4v1.4h-1.4zM456.0,611.6h1.4v1.4h-1.4zM418.5,604.3h1.4v1.4h-1.4zM441.2,611.9h1.4v1.4h-1.4zM399.3,609.3h1.4v1.4h-1.4zM460.9,612.0h1.4v1.4h-1.4zM400.5,598.8h1.4v1.4h-1.4zM433.0,614.7h1.4v1.4h-1.4zM419.3,600.7h1.4v1.4h-1.4zM455.2,612.1h1.4v1.4h-1.4zM443.2,603.4h1.4v1.4h-1.4zM414.8,610.6h1.4v1.4h-1.4zM424.0,609.9h1.4v1.4h-1.4zM410.6,600.2h1.4v1.4h-1.4zM414.0,613.8h1.4v1.4h-1.4zM459.1,612.4h1.4v1.4h-1.4zM420.7,609.9h1.4v1.4h-1.4zM440.4,614.7h1.4v1.4h-1.4zM450.8,608.3h1.4v1.4h-1.4zM398.8,605.1h1.4v1.4h-1.4zM459.3,615.3h1.4v1.4h-1.4zM426.3,611.6h1.4v1.4h-1.4zM458.8,610.8h1.4v1.4h-1.4zM424.3,608.3h1.4v1.4h-1.4zM444.0,603.6h1.4v1.4h-1.4zM427.9,612.1h1.4v1.4h-1.4zM432.2,610.2h1.4v1.4h-1.4zM415.6,612.9h1.4v1.4h-1.4zM410.8,605.9h1.4v1.4h-1.4zM420.1,602.5h1.4v1.4h-1.4zM402.9,600.5h1.4v1.4h-1.4zM414.3,614.2h1.4v1.4h-1.4zM444.4,611.5h1.4v1.4h-1.4zM429.6,606.7h1.4v1.4h-1.4zM458.8,610.9h1.4v1.4h-1.4zM425.9,601.8h1.4v1.4h-1.4zM452.8,611.6h1.4v1.4h-1.4zM402.0,605.0h1.4v1.4h-1.4zM420.6,613.0h1.4v1.4h-1.4zM395.2,606.9h1.4v1.4h-1.4zM402.3,602.9h1.4v1.4h-1.4zM445.6,617.6h1.4v1.4h-1.4zM411.5,609.0h1.4v1.4h-1.4zM457.1,613.3h1.4v1.4h-1.4zM408.7,611.3h1.4v1.4h-1.4zM445.2,613.2h1.4v1.4h-1.4zM428.1,611.6h1.4v1.4h-1.4zM423.4,612.1h1.4v1.4h-1.4zM439.3,604.4h1.4v1.4h-1.4zM411.6,608.0h1.4v1.4h-1.4zM397.9,601.9h1.4v1.4h-1.4zM408.0,604.3h1.4v1.4h-1.4zM433.7,604.6h1.4v1.4h-1.4zM452.0,609.0h1.4v1.4h-1.4zM430.4,618.4h1.4v1.4h-1.4zM416.5,601.8h1.4v1.4h-1.4zM452.2,608.4h1.4v1.4h-1.4zM417.8,608.2h1.4v1.4h-1.4zM420.9,601.9h1.4v1.4h-1.4zM459.0,606.2h1.4v1.4h-1.4zM428.6,611.0h1.4v1.4h-1.4zM440.0,617.3h1.4v1.4h-1.4zM438.3,607.1h1.4v1.4h-1.4zM419.0,604.3h1.4v1.4h-1.4zM414.5,603.7h1.4v1.4h-1.4zM461.1,605.7h1.4v1.4h-1.4zM427.6,610.3h1.4v1.4h-1.4zM431.1,604.5h1.4v1.4h-1.4zM453.2,614.2h1.4v1.4h-1.4zM455.4,598.7h1.4v1.4h-1.4zM446.9,616.8h1.4v1.4h-1.4zM407.2,610.7h1.4v1.4h-1.4zM443.3,608.8h1.4v1.4h-1.4zM447.7,609.4h1.4v1.4h-1.4zM399.8,603.0h1.4v1.4h-1.4zM408.1,606.9h1.4v1.4h-1.4zM456.8,609.8h1.4v1.4h-1.4zM442.0,614.9h1.4v1.4h-1.4zM460.2,607.6h1.4v1.4h-1.4zM412.1,609.2h1.4v1.4h-1.4zM435.3,608.4h1.4v1.4h-1.4zM419.0,605.4h1.4v1.4h-1.4zM407.0,611.7h1.4v1.4h-1.4zM446.6,608.4h1.4v1.4h-1.4zM446.8,613.5h1.4v1.4h-1.4zM457.1,604.4h1.4v1.4h-1.4zM406.4,606.0h1.4v1.4h-1.4zM400.8,608.4h1.4v1.4h-1.4zM465.2,614.1h1.4v1.4h-1.4zM444.3,605.6h1.4v1.4h-1.4zM439.6,621.5h1.4v1.4h-1.4zM421.7,608.8h1.4v1.4h-1.4zM467.1,613.7h1.4v1.4h-1.4zM444.0,609.6h1.4v1.4h-1.4zM409.3,602.5h1.4v1.4h-1.4zM448.6,614.6h1.4v1.4h-1.4zM448.2,610.2h1.4v1.4h-1.4zM434.7,611.9h1.4v1.4h-1.4zM413.7,614.3h1.4v1.4h-1.4zM457.3,604.4h1.4v1.4h-1.4zM435.2,607.3h1.4v1.4h-1.4zM432.3,614.4h1.4v1.4h-1.4zM424.8,613.5h1.4v1.4h-1.4zM419.4,607.2h1.4v1.4h-1.4zM452.3,612.0h1.4v1.4h-1.4zM421.0,612.7h1.4v1.4h-1.4zM455.4,602.6h1.4v1.4h-1.4zM405.7,601.9h1.4v1.4h-1.4zM454.6,616.1h1.4v1.4h-1.4zM445.8,615.1h1.4v1.4h-1.4zM453.3,606.9h1.4v1.4h-1.4zM453.0,601.5h1.4v1.4h-1.4zM425.7,604.2h1.4v1.4h-1.4zM441.4,608.9h1.4v1.4h-1.4zM435.8,605.5h1.4v1.4h-1.4zM411.7,608.5h1.4v1.4h-1.4zM430.4,602.6h1.4v1.4h-1.4zM412.7,609.0h1.4v1.4h-1.4zM424.0,613.7h1.4v1.4h-1.4zM440.2,610.3h1.4v1.4h-1.4zM455.8,604.4h1.4v1.4h-1.4zM410.8,609.7h1.4v1.4h-1.4zM422.1,607.9h1.4v1.4h-1.4zM447.8,615.0h1.4v1.4h-1.4zM442.8,606.8h1.4v1.4h-1.4zM430.3,614.7h1.4v1.4h-1.4zM441.8,609.3h1.4v1.4h-1.4zM430.6,604.9h1.4v1.4h-1.4zM458.9,611.7h1.4v1.4h-1.4zM455.3,601.1h1.4v1.4h-1.4zM453.5,606.4h1.4v1.4h-1.4zM439.2,613.7h1.4v1.4h-1.4zM432.4,606.0h1.4v1.4h-1.4zM461.7,615.7h1.4v1.4h-1.4zM421.2,610.2h1.4v1.4h-1.4zM410.9,613.5h1.4v1.4h-1.4zM454.1,605.9h1.4v1.4h-1.4zM428.1,602.2h1.4v1.4h-1.4zM437.0,610.3h1.4v1.4h-1.4zM405.9,612.7h1.4v1.4h-1.4zM419.8,606.0h1.4v1.4h-1.4zM454.7,607.6h1.4v1.4h-1.4zM456.8,612.5h1.4v1.4h-1.4zM460.1,601.7h1.4v1.4h-1.4zM452.3,605.3h1.4v1.4h-1.4zM415.2,609.8h1.4v1.4h-1.4zM424.7,609.0h1.4v1.4h-1.4zM414.2,610.9h1.4v1.4h-1.4zM450.7,614.4h1.4v1.4h-1.4zM456.2,609.1h1.4v1.4h-1.4zM460.0,609.0h1.4v1.4h-1.4zM412.1,606.0h1.4v1.4h-1.4zM443.7,600.0h1.4v1.4h-1.4zM457.4,616.1h1.4v1.4h-1.4zM430.7,603.1h1.4v1.4h-1.4zM434.4,606.1h1.4v1.4h-1.4zM442.5,616.7h1.4v1.4h-1.4zM423.7,615.3h1.4v1.4h-1.4zM443.1,616.4h1.4v1.4h-1.4zM461.5,613.5h1.4v1.4h-1.4zM438.2,606.3h1.4v1.4h-1.4zM462.3,607.3h1.4v1.4h-1.4zM412.4,607.3h1.4v1.4h-1.4zM444.0,616.2h1.4v1.4h-1.4zM451.8,600.6h1.4v1.4h-1.4zM440.1,613.4h1.4v1.4h-1.4zM434.9,615.1h1.4v1.4h-1.4zM451.1,611.5h1.4v1.4h-1.4zM436.6,616.2h1.4v1.4h-1.4zM425.9,613.5h1.4v1.4h-1.4zM400.9,601.3h1.4v1.4h-1.4zM444.4,616.6h1.4v1.4h-1.4zM448.5,618.3h1.4v1.4h-1.4zM441.2,609.8h1.4v1.4h-1.4zM437.9,607.5h1.4v1.4h-1.4zM404.6,605.9h1.4v1.4h-1.4zM410.5,610.2h1.4v1.4h-1.4zM446.0,610.4h1.4v1.4h-1.4zM455.4,609.5h1.4v1.4h-1.4zM410.3,605.2h1.4v1.4h-1.4zM451.6,606.7h1.4v1.4h-1.4zM446.3,607.4h1.4v1.4h-1.4zM396.7,605.1h1.4v1.4h-1.4zM403.8,603.8h1.4v1.4h-1.4zM419.1,596.4h1.4v1.4h-1.4zM457.4,611.1h1.4v1.4h-1.4zM438.5,608.9h1.4v1.4h-1.4zM407.5,610.0h1.4v1.4h-1.4zM410.2,610.0h1.4v1.4h-1.4zM426.4,608.9h1.4v1.4h-1.4zM441.1,614.8h1.4v1.4h-1.4zM437.1,616.2h1.4v1.4h-1.4zM432.4,609.7h1.4v1.4h-1.4zM450.3,606.0h1.4v1.4h-1.4zM455.4,603.1h1.4v1.4h-1.4zM443.9,608.3h1.4v1.4h-1.4zM438.2,605.7h1.4v1.4h-1.4zM404.9,608.6h1.4v1.4h-1.4zM396.7,607.9h1.4v1.4h-1.4zM432.5,609.0h1.4v1.4h-1.4zM453.2,602.5h1.4v1.4h-1.4zM437.4,606.6h1.4v1.4h-1.4zM432.4,603.5h1.4v1.4h-1.4zM436.1,613.2h1.4v1.4h-1.4zM431.4,614.7h1.4v1.4h-1.4zM421.7,608.7h1.4v1.4h-1.4zM420.7,608.2h1.4v1.4h-1.4zM410.5,603.0h1.4v1.4h-1.4zM454.9,613.9h1.4v1.4h-1.4zM412.1,616.1h1.4v1.4h-1.4zM397.4,605.6h1.4v1.4h-1.4zM428.0,612.1h1.4v1.4h-1.4zM451.0,612.8h1.4v1.4h-1.4zM450.5,607.3h1.4v1.4h-1.4zM421.7,608.9h1.4v1.4h-1.4zM458.3,601.7h1.4v1.4h-1.4zM451.8,603.5h1.4v1.4h-1.4zM455.1,611.0h1.4v1.4h-1.4zM404.6,608.2h1.4v1.4h-1.4zM449.9,618.0h1.4v1.4h-1.4zM425.6,619.2h1.4v1.4h-1.4zM431.7,619.4h1.4v1.4h-1.4zM457.0,606.9h1.4v1.4h-1.4zM433.7,614.5h1.4v1.4h-1.4zM408.8,611.6h1.4v1.4h-1.4zM441.0,605.4h1.4v1.4h-1.4zM404.6,609.1h1.4v1.4h-1.4zM464.9,615.0h1.4v1.4h-1.4zM443.8,615.3h1.4v1.4h-1.4zM407.1,612.2h1.4v1.4h-1.4zM458.7,609.9h1.4v1.4h-1.4zM429.0,601.5h1.4v1.4h-1.4zM423.0,609.8h1.4v1.4h-1.4zM455.8,607.0h1.4v1.4h-1.4zM410.7,601.7h1.4v1.4h-1.4zM401.2,610.7h1.4v1.4h-1.4zM452.1,614.0h1.4v1.4h-1.4zM414.3,603.7h1.4v1.4h-1.4zM410.2,600.7h1.4v1.4h-1.4zM422.4,612.8h1.4v1.4h-1.4zM426.8,603.6h1.4v1.4h-1.4zM401.5,611.2h1.4v1.4h-1.4zM455.1,607.8h1.4v1.4h-1.4zM461.9,606.2h1.4v1.4h-1.4zM414.9,606.5h1.4v1.4h-1.4zM446.3,611.6h1.4v1.4h-1.4zM422.7,616.0h1.4v1.4h-1.4zM415.2,613.6h1.4v1.4h-1.4zM425.6,611.8h1.4v1.4h-1.4zM464.9,613.6h1.4v1.4h-1.4zM428.6,611.2h1.4v1.4h-1.4zM422.7,608.0h1.4v1.4h-1.4zM454.0,603.6h1.4v1.4h-1.4zM419.6,610.9h1.4v1.4h-1.4zM395.0,608.1h1.4v1.4h-1.4zM446.9,614.0h1.4v1.4h-1.4zM431.3,606.9h1.4v1.4h-1.4zM417.2,617.8h1.4v1.4h-1.4zM410.8,615.7h1.4v1.4h-1.4zM427.7,601.8h1.4v1.4h-1.4zM430.6,613.9h1.4v1.4h-1.4zM412.0,614.2h1.4v1.4h-1.4zM409.3,617.2h1.4v1.4h-1.4zM437.1,617.5h1.4v1.4h-1.4zM451.7,611.3h1.4v1.4h-1.4zM407.5,615.8h1.4v1.4h-1.4zM449.3,602.8h1.4v1.4h-1.4zM421.5,599.1h1.4v1.4h-1.4zM405.1,608.8h1.4v1.4h-1.4zM434.5,612.8h1.4v1.4h-1.4zM458.8,607.8h1.4v1.4h-1.4zM435.9,605.4h1.4v1.4h-1.4zM432.4,612.5h1.4v1.4h-1.4zM456.4,612.6h1.4v1.4h-1.4zM414.0,604.9h1.4v1.4h-1.4zM438.6,612.6h1.4v1.4h-1.4zM405.8,603.8h1.4v1.4h-1.4zM398.6,605.4h1.4v1.4h-1.4zM419.2,606.2h1.4v1.4h-1.4zM433.5,616.9h1.4v1.4h-1.4zM407.7,610.4h1.4v1.4h-1.4zM457.0,608.8h1.4v1.4h-1.4zM413.3,600.9h1.4v1.4h-1.4zM419.1,605.0h1.4v1.4h-1.4zM449.5,605.9h1.4v1.4h-1.4zM439.4,609.3h1.4v1.4h-1.4zM443.5,616.1h1.4v1.4h-1.4zM461.1,604.3h1.4v1.4h-1.4zM400.6,611.0h1.4v1.4h-1.4zM419.4,611.8h1.4v1.4h-1.4zM446.8,615.9h1.4v1.4h-1.4zM446.5,613.9h1.4v1.4h-1.4zM452.4,615.6h1.4v1.4h-1.4zM439.2,599.8h1.4v1.4h-1.4zM410.9,599.9h1.4v1.4h-1.4zM426.0,602.2h1.4v1.4h-1.4zM456.8,610.5h1.4v1.4h-1.4zM420.5,601.5h1.4v1.4h-1.4zM433.8,603.6h1.4v1.4h-1.4zM431.4,613.7h1.4v1.4h-1.4zM434.5,613.2h1.4v1.4h-1.4zM443.2,612.6h1.4v1.4h-1.4zM444.6,614.2h1.4v1.4h-1.4zM453.8,604.3h1.4v1.4h-1.4zM407.8,606.0h1.4v1.4h-1.4zM457.8,612.5h1.4v1.4h-1.4zM426.7,603.4h1.4v1.4h-1.4zM432.8,617.7h1.4v1.4h-1.4zM433.9,610.0h1.4v1.4h-1.4zM412.9,609.1h1.4v1.4h-1.4zM415.1,610.9h1.4v1.4h-1.4zM406.5,612.7h1.4v1.4h-1.4zM412.5,603.9h1.4v1.4h-1.4zM421.3,605.2h1.4v1.4h-1.4zM459.5,605.8h1.4v1.4h-1.4zM417.0,601.7h1.4v1.4h-1.4zM426.5,600.7h1.4v1.4h-1.4zM413.3,604.9h1.4v1.4h-1.4zM429.5,608.5h1.4v1.4h-1.4zM441.4,599.2h1.4v1.4h-1.4zM429.5,605.6h1.4v1.4h-1.4zM416.9,613.0h1.4v1.4h-1.4zM429.7,611.1h1.4v1.4h-1.4zM413.5,605.4h1.4v1.4h-1.4zM398.5,609.4h1.4v1.4h-1.4zM429.2,618.9h1.4v1.4h-1.4zM426.2,608.7h1.4v1.4h-1.4zM460.3,613.5h1.4v1.4h-1.4zM414.2,608.7h1.4v1.4h-1.4zM438.1,608.4h1.4v1.4h-1.4zM416.2,612.5h1.4v1.4h-1.4zM453.3,612.3h1.4v1.4h-1.4zM423.4,611.8h1.4v1.4h-1.4zM400.1,607.4h1.4v1.4h-1.4zM432.4,608.1h1.4v1.4h-1.4zM419.4,601.0h1.4v1.4h-1.4zM396.9,607.9h1.4v1.4h-1.4zM439.7,608.2h1.4v1.4h-1.4zM441.7,603.7h1.4v1.4h-1.4zM446.0,605.7h1.4v1.4h-1.4zM425.7,602.1h1.4v1.4h-1.4zM447.8,604.1h1.4v1.4h-1.4zM418.4,618.9h1.4v1.4h-1.4zM443.5,610.7h1.4v1.4h-1.4zM435.3,604.2h1.4v1.4h-1.4zM438.1,615.6h1.4v1.4h-1.4zM453.6,616.1h1.4v1.4h-1.4zM458.1,607.9h1.4v1.4h-1.4zM415.8,613.4h1.4v1.4h-1.4zM442.0,603.9h1.4v1.4h-1.4zM447.5,612.2h1.4v1.4h-1.4zM413.5,604.5h1.4v1.4h-1.4zM409.9,607.5h1.4v1.4h-1.4zM430.4,616.9h1.4v1.4h-1.4zM446.0,602.7h1.4v1.4h-1.4zM456.2,612.5h1.4v1.4h-1.4zM438.9,609.7h1.4v1.4h-1.4zM440.5,610.1h1.4v1.4h-1.4zM406.0,608.4h1.4v1.4h-1.4zM417.7,608.7h1.4v1.4h-1.4zM462.3,609.8h1.4v1.4h-1.4zM406.4,611.7h1.4v1.4h-1.4zM418.7,614.4h1.4v1.4h-1.4zM431.2,603.2h1.4v1.4h-1.4zM400.6,610.9h1.4v1.4h-1.4zM429.8,606.5h1.4v1.4h-1.4zM442.7,616.9h1.4v1.4h-1.4zM413.9,599.3h1.4v1.4h-1.4zM442.8,610.4h1.4v1.4h-1.4zM405.1,608.2h1.4v1.4h-1.4zM436.7,608.3h1.4v1.4h-1.4zM447.8,607.7h1.4v1.4h-1.4zM410.0,605.1h1.4v1.4h-1.4zM394.8,610.3h1.4v1.4h-1.4zM439.2,611.9h1.4v1.4h-1.4zM457.0,613.7h1.4v1.4h-1.4zM461.5,605.1h1.4v1.4h-1.4zM405.9,603.9h1.4v1.4h-1.4zM410.7,610.8h1.4v1.4h-1.4zM444.9,613.6h1.4v1.4h-1.4zM455.3,605.3h1.4v1.4h-1.4zM404.9,602.3h1.4v1.4h-1.4zM438.6,606.4h1.4v1.4h-1.4zM434.7,619.2h1.4v1.4h-1.4zM419.7,615.0h1.4v1.4h-1.4zM409.9,611.1h1.4v1.4h-1.4zM400.0,610.4h1.4v1.4h-1.4zM408.1,601.4h1.4v1.4h-1.4zM456.7,613.6h1.4v1.4h-1.4zM463.9,615.0h1.4v1.4h-1.4zM402.8,606.3h1.4v1.4h-1.4zM423.3,607.5h1.4v1.4h-1.4zM401.4,601.3h1.4v1.4h-1.4zM431.5,604.3h1.4v1.4h-1.4zM453.9,611.5h1.4v1.4h-1.4zM420.4,609.3h1.4v1.4h-1.4zM412.4,600.4h1.4v1.4h-1.4zM454.3,606.1h1.4v1.4h-1.4zM432.1,615.9h1.4v1.4h-1.4zM405.6,608.3h1.4v1.4h-1.4zM432.2,613.5h1.4v1.4h-1.4zM410.6,610.4h1.4v1.4h-1.4zM406.4,601.7h1.4v1.4h-1.4zM415.7,610.9h1.4v1.4h-1.4zM459.7,607.5h1.4v1.4h-1.4zM457.8,612.3h1.4v1.4h-1.4zM412.6,611.2h1.4v1.4h-1.4zM417.8,608.2h1.4v1.4h-1.4zM444.2,604.7h1.4v1.4h-1.4zM455.2,617.2h1.4v1.4h-1.4zM462.3,616.9h1.4v1.4h-1.4zM442.6,606.8h1.4v1.4h-1.4zM446.4,605.1h1.4v1.4h-1.4zM446.0,613.0h1.4v1.4h-1.4zM406.0,606.1h1.4v1.4h-1.4zM396.6,613.2h1.4v1.4h-1.4zM443.7,601.3h1.4v1.4h-1.4zM417.0,610.3h1.4v1.4h-1.4zM439.3,600.7h1.4v1.4h-1.4zM452.7,602.8h1.4v1.4h-1.4zM442.0,606.8h1.4v1.4h-1.4zM401.2,605.1h1.4v1.4h-1.4zM431.6,615.4h1.4v1.4h-1.4zM423.4,607.7h1.4v1.4h-1.4zM439.5,612.5h1.4v1.4h-1.4zM433.3,604.0h1.4v1.4h-1.4zM429.0,606.6h1.4v1.4h-1.4zM431.2,604.6h1.4v1.4h-1.4zM457.8,611.8h1.4v1.4h-1.4zM422.5,606.3h1.4v1.4h-1.4zM446.8,608.7h1.4v1.4h-1.4zM441.1,608.1h1.4v1.4h-1.4zM420.3,613.6h1.4v1.4h-1.4zM456.4,603.6h1.4v1.4h-1.4zM447.2,611.9h1.4v1.4h-1.4zM455.9,605.3h1.4v1.4h-1.4zM452.8,609.3h1.4v1.4h-1.4zM417.5,601.6h1.4v1.4h-1.4zM407.2,608.9h1.4v1.4h-1.4zM400.6,606.0h1.4v1.4h-1.4zM457.1,612.4h1.4v1.4h-1.4zM408.8,608.6h1.4v1.4h-1.4zM432.5,611.3h1.4v1.4h-1.4zM465.3,607.5h1.4v1.4h-1.4zM453.0,613.2h1.4v1.4h-1.4zM425.3,611.0h1.4v1.4h-1.4zM442.3,614.2h1.4v1.4h-1.4zM447.9,615.9h1.4v1.4h-1.4zM410.9,607.2h1.4v1.4h-1.4zM441.4,614.8h1.4v1.4h-1.4zM412.6,611.7h1.4v1.4h-1.4zM456.0,606.1h1.4v1.4h-1.4zM433.1,616.5h1.4v1.4h-1.4zM422.6,605.5h1.4v1.4h-1.4zM412.4,609.0h1.4v1.4h-1.4zM407.5,616.3h1.4v1.4h-1.4zM426.1,607.4h1.4v1.4h-1.4zM447.7,607.0h1.4v1.4h-1.4zM442.7,606.4h1.4v1.4h-1.4zM437.5,605.5h1.4v1.4h-1.4zM443.1,604.5h1.4v1.4h-1.4zM398.9,609.6h1.4v1.4h-1.4zM406.5,610.0h1.4v1.4h-1.4zM434.0,618.3h1.4v1.4h-1.4zM451.7,603.6h1.4v1.4h-1.4zM429.2,608.3h1.4v1.4h-1.4zM409.8,607.3h1.4v1.4h-1.4zM407.3,605.6h1.4v1.4h-1.4zM445.9,607.5h1.4v1.4h-1.4zM458.0,601.4h1.4v1.4h-1.4zM443.4,618.1h1.4v1.4h-1.4zM440.3,614.1h1.4v1.4h-1.4zM445.8,612.5h1.4v1.4h-1.4zM451.5,613.9h1.4v1.4h-1.4zM397.9,604.7h1.4v1.4h-1.4zM401.2,603.9h1.4v1.4h-1.4zM436.5,609.0h1.4v1.4h-1.4zM424.3,604.6h1.4v1.4h-1.4zM442.9,609.1h1.4v1.4h-1.4zM444.7,605.8h1.4v1.4h-1.4zM418.3,612.0h1.4v1.4h-1.4zM407.8,615.5h1.4v1.4h-1.4zM447.8,614.2h1.4v1.4h-1.4zM433.3,614.4h1.4v1.4h-1.4zM420.0,609.9h1.4v1.4h-1.4zM447.7,610.3h1.4v1.4h-1.4zM452.5,608.8h1.4v1.4h-1.4zM443.5,606.9h1.4v1.4h-1.4zM416.5,605.7h1.4v1.4h-1.4zM423.0,611.8h1.4v1.4h-1.4zM409.8,611.4h1.4v1.4h-1.4zM423.3,613.6h1.4v1.4h-1.4zM454.5,613.7h1.4v1.4h-1.4zM445.9,604.9h1.4v1.4h-1.4zM418.0,606.2h1.4v1.4h-1.4zM403.5,612.4h1.4v1.4h-1.4zM443.5,613.7h1.4v1.4h-1.4zM449.3,601.4h1.4v1.4h-1.4zM457.0,615.9h1.4v1.4h-1.4zM451.3,609.7h1.4v1.4h-1.4zM423.3,621.3h1.4v1.4h-1.4zM435.8,618.1h1.4v1.4h-1.4zM408.8,604.5h1.4v1.4h-1.4zM415.0,613.5h1.4v1.4h-1.4zM437.3,613.0h1.4v1.4h-1.4zM408.7,612.2h1.4v1.4h-1.4zM458.8,613.3h1.4v1.4h-1.4zM425.4,608.9h1.4v1.4h-1.4zM398.6,607.7h1.4v1.4h-1.4zM407.5,607.6h1.4v1.4h-1.4zM413.2,607.1h1.4v1.4h-1.4zM414.3,604.8h1.4v1.4h-1.4zM444.4,608.7h1.4v1.4h-1.4zM448.5,604.7h1.4v1.4h-1.4zM412.7,607.5h1.4v1.4h-1.4zM431.5,604.4h1.4v1.4h-1.4zM432.9,619.0h1.4v1.4h-1.4zM439.6,615.1h1.4v1.4h-1.4zM436.7,607.7h1.4v1.4h-1.4zM408.6,615.7h1.4v1.4h-1.4zM445.6,603.9h1.4v1.4h-1.4zM461.6,607.1h1.4v1.4h-1.4zM428.4,608.1h1.4v1.4h-1.4zM448.0,607.2h1.4v1.4h-1.4zM447.0,608.2h1.4v1.4h-1.4zM460.5,606.5h1.4v1.4h-1.4zM397.1,604.9h1.4v1.4h-1.4zM442.9,602.9h1.4v1.4h-1.4zM454.4,611.3h1.4v1.4h-1.4zM442.6,611.5h1.4v1.4h-1.4zM431.5,607.9h1.4v1.4h-1.4zM396.5,607.5h1.4v1.4h-1.4zM452.6,613.1h1.4v1.4h-1.4zM457.3,608.0h1.4v1.4h-1.4zM406.7,607.5h1.4v1.4h-1.4zM434.0,617.0h1.4v1.4h-1.4zM453.4,607.2h1.4v1.4h-1.4zM431.1,613.3h1.4v1.4h-1.4zM414.7,612.9h1.4v1.4h-1.4zM426.1,612.6h1.4v1.4h-1.4zM424.2,603.7h1.4v1.4h-1.4zM417.9,609.2h1.4v1.4h-1.4zM456.4,604.6h1.4v1.4h-1.4zM399.4,606.8h1.4v1.4h-1.4zM438.8,607.3h1.4v1.4h-1.4zM416.8,607.0h1.4v1.4h-1.4zM405.5,609.1h1.4v1.4h-1.4zM423.5,605.0h1.4v1.4h-1.4zM459.4,604.3h1.4v1.4h-1.4zM461.8,603.7h1.4v1.4h-1.4zM451.3,608.2h1.4v1.4h-1.4zM415.0,605.5h1.4v1.4h-1.4zM439.4,608.4h1.4v1.4h-1.4zM453.4,604.2h1.4v1.4h-1.4zM419.9,614.2h1.4v1.4h-1.4zM453.1,612.4h1.4v1.4h-1.4zM420.2,608.6h1.4v1.4h-1.4zM413.5,608.3h1.4v1.4h-1.4zM456.5,612.2h1.4v1.4h-1.4zM439.4,618.1h1.4v1.4h-1.4zM451.1,616.1h1.4v1.4h-1.4zM399.5,612.7h1.4v1.4h-1.4zM434.3,605.2h1.4v1.4h-1.4zM456.6,615.0h1.4v1.4h-1.4zM450.2,613.7h1.4v1.4h-1.4zM412.7,613.4h1.4v1.4h-1.4zM442.5,614.0h1.4v1.4h-1.4zM421.9,604.7h1.4v1.4h-1.4zM414.7,614.5h1.4v1.4h-1.4zM459.9,608.3h1.4v1.4h-1.4zM419.1,606.3h1.4v1.4h-1.4zM408.6,602.5h1.4v1.4h-1.4zM399.5,613.9h1.4v1.4h-1.4zM439.6,604.4h1.4v1.4h-1.4zM431.7,614.5h1.4v1.4h-1.4zM441.7,611.0h1.4v1.4h-1.4zM443.8,604.7h1.4v1.4h-1.4zM417.8,613.4h1.4v1.4h-1.4zM429.0,603.9h1.4v1.4h-1.4zM402.6,611.2h1.4v1.4h-1.4zM454.6,603.4h1.4v1.4h-1.4zM400.6,604.8h1.4v1.4h-1.4zM462.1,607.5h1.4v1.4h-1.4zM425.5,604.3h1.4v1.4h-1.4zM422.2,608.4h1.4v1.4h-1.4zM457.3,608.0h1.4v1.4h-1.4zM433.3,604.5h1.4v1.4h-1.4zM429.2,614.5h1.4v1.4h-1.4zM407.4,604.3h1.4v1.4h-1.4zM433.8,614.9h1.4v1.4h-1.4zM451.0,613.7h1.4v1.4h-1.4zM407.7,609.2h1.4v1.4h-1.4zM415.1,608.7h1.4v1.4h-1.4zM400.6,609.7h1.4v1.4h-1.4zM407.5,613.5h1.4v1.4h-1.4zM409.4,600.7h1.4v1.4h-1.4zM401.9,605.4h1.4v1.4h-1.4zM446.6,610.6h1.4v1.4h-1.4zM435.6,615.4h1.4v1.4h-1.4zM440.9,608.2h1.4v1.4h-1.4zM442.1,606.6h1.4v1.4h-1.4zM445.2,610.7h1.4v1.4h-1.4zM462.0,615.8h1.4v1.4h-1.4zM420.3,609.5h1.4v1.4h-1.4zM423.9,615.8h1.4v1.4h-1.4zM458.0,610.1h1.4v1.4h-1.4zM402.9,606.6h1.4v1.4h-1.4zM440.5,602.6h1.4v1.4h-1.4zM459.1,611.0h1.4v1.4h-1.4zM410.0,603.9h1.4v1.4h-1.4zM441.8,605.3h1.4v1.4h-1.4zM398.4,610.6h1.4v1.4h-1.4zM407.3,608.1h1.4v1.4h-1.4zM448.1,611.8h1.4v1.4h-1.4zM429.3,606.8h1.4v1.4h-1.4zM445.7,608.6h1.4v1.4h-1.4zM443.2,612.2h1.4v1.4h-1.4zM409.4,610.2h1.4v1.4h-1.4zM416.2,612.8h1.4v1.4h-1.4zM456.4,608.6h1.4v1.4h-1.4zM412.6,612.3h1.4v1.4h-1.4zM433.1,605.1h1.4v1.4h-1.4zM418.2,604.8h1.4v1.4h-1.4zM457.3,609.2h1.4v1.4h-1.4zM414.2,606.9h1.4v1.4h-1.4zM419.6,610.0h1.4v1.4h-1.4zM408.5,609.6h1.4v1.4h-1.4zM438.2,612.6h1.4v1.4h-1.4zM449.9,613.8h1.4v1.4h-1.4zM452.6,612.1h1.4v1.4h-1.4zM412.7,601.4h1.4v1.4h-1.4zM425.0,616.9h1.4v1.4h-1.4zM414.6,609.7h1.4v1.4h-1.4zM424.5,606.1h1.4v1.4h-1.4zM438.3,613.7h1.4v1.4h-1.4zM429.4,608.2h1.4v1.4h-1.4zM417.4,610.2h1.4v1.4h-1.4zM413.2,609.1h1.4v1.4h-1.4zM406.1,604.8h1.4v1.4h-1.4zM409.1,609.4h1.4v1.4h-1.4zM447.8,612.3h1.4v1.4h-1.4zM409.8,608.6h1.4v1.4h-1.4zM455.5,605.8h1.4v1.4h-1.4zM408.4,610.6h1.4v1.4h-1.4zM432.3,609.3h1.4v1.4h-1.4zM401.4,608.9h1.4v1.4h-1.4zM446.1,606.7h1.4v1.4h-1.4zM448.0,621.9h1.4v1.4h-1.4zM437.6,605.3h1.4v1.4h-1.4zM425.1,615.1h1.4v1.4h-1.4zM465.9,611.1h1.4v1.4h-1.4zM439.2,615.8h1.4v1.4h-1.4zM435.6,608.8h1.4v1.4h-1.4zM409.1,606.6h1.4v1.4h-1.4zM454.1,606.1h1.4v1.4h-1.4zM431.3,616.7h1.4v1.4h-1.4zM421.8,608.7h1.4v1.4h-1.4zM432.3,601.8h1.4v1.4h-1.4zM401.4,604.5h1.4v1.4h-1.4zM402.7,604.4h1.4v1.4h-1.4zM412.5,608.6h1.4v1.4h-1.4zM462.3,604.7h1.4v1.4h-1.4zM446.8,607.7h1.4v1.4h-1.4zM409.9,605.9h1.4v1.4h-1.4zM441.0,610.4h1.4v1.4h-1.4zM401.9,604.0h1.4v1.4h-1.4zM422.2,613.3h1.4v1.4h-1.4zM445.1,606.5h1.4v1.4h-1.4zM413.5,604.8h1.4v1.4h-1.4zM424.7,610.6h1.4v1.4h-1.4zM436.4,613.9h1.4v1.4h-1.4zM440.2,601.9h1.4v1.4h-1.4zM404.4,609.8h1.4v1.4h-1.4zM403.2,612.3h1.4v1.4h-1.4zM450.3,601.7h1.4v1.4h-1.4zM458.4,605.3h1.4v1.4h-1.4zM415.4,608.7h1.4v1.4h-1.4zM437.8,604.5h1.4v1.4h-1.4zM448.7,601.9h1.4v1.4h-1.4zM440.6,609.4h1.4v1.4h-1.4zM442.5,613.8h1.4v1.4h-1.4zM418.5,610.7h1.4v1.4h-1.4zM420.4,609.4h1.4v1.4h-1.4zM455.1,608.3h1.4v1.4h-1.4zM436.3,606.6h1.4v1.4h-1.4zM417.1,612.4h1.4v1.4h-1.4zM415.5,616.5h1.4v1.4h-1.4zM406.2,598.1h1.4v1.4h-1.4zM421.6,606.7h1.4v1.4h-1.4zM421.0,610.4h1.4v1.4h-1.4zM429.9,613.9h1.4v1.4h-1.4zM399.0,607.3h1.4v1.4h-1.4zM405.5,604.4h1.4v1.4h-1.4zM430.8,602.0h1.4v1.4h-1.4zM437.1,615.4h1.4v1.4h-1.4zM459.8,609.1h1.4v1.4h-1.4zM407.2,603.2h1.4v1.4h-1.4zM451.9,608.1h1.4v1.4h-1.4zM425.8,616.5h1.4v1.4h-1.4zM419.2,608.0h1.4v1.4h-1.4zM424.6,607.3h1.4v1.4h-1.4zM438.6,616.2h1.4v1.4h-1.4zM456.4,610.5h1.4v1.4h-1.4zM431.6,608.2h1.4v1.4h-1.4zM421.0,609.5h1.4v1.4h-1.4zM429.3,608.5h1.4v1.4h-1.4zM409.9,600.9h1.4v1.4h-1.4zM460.7,606.7h1.4v1.4h-1.4zM432.3,615.8h1.4v1.4h-1.4zM447.2,611.5h1.4v1.4h-1.4zM415.3,611.9h1.4v1.4h-1.4zM407.1,601.6h1.4v1.4h-1.4zM460.9,605.5h1.4v1.4h-1.4zM415.0,611.3h1.4v1.4h-1.4zM435.5,609.5h1.4v1.4h-1.4zM456.1,605.2h1.4v1.4h-1.4zM396.9,608.6h1.4v1.4h-1.4zM419.9,616.5h1.4v1.4h-1.4zM455.8,606.4h1.4v1.4h-1.4zM447.1,610.2h1.4v1.4h-1.4zM402.1,605.4h1.4v1.4h-1.4zM432.6,614.0h1.4v1.4h-1.4zM451.0,613.6h1.4v1.4h-1.4zM449.5,607.8h1.4v1.4h-1.4zM432.4,611.9h1.4v1.4h-1.4zM443.4,616.7h1.4v1.4h-1.4zM414.3,606.7h1.4v1.4h-1.4zM450.2,603.4h1.4v1.4h-1.4zM408.4,605.5h1.4v1.4h-1.4zM429.3,613.3h1.4v1.4h-1.4zM413.7,607.2h1.4v1.4h-1.4zM440.1,608.4h1.4v1.4h-1.4zM433.3,607.6h1.4v1.4h-1.4zM457.5,613.0h1.4v1.4h-1.4zM419.9,604.0h1.4v1.4h-1.4zM424.9,617.0h1.4v1.4h-1.4zM462.9,609.1h1.4v1.4h-1.4zM462.9,607.7h1.4v1.4h-1.4zM425.2,603.0h1.4v1.4h-1.4zM408.2,602.8h1.4v1.4h-1.4zM417.5,607.2h1.4v1.4h-1.4zM424.6,613.5h1.4v1.4h-1.4zM420.6,618.1h1.4v1.4h-1.4zM461.5,608.9h1.4v1.4h-1.4zM406.4,608.2h1.4v1.4h-1.4zM448.0,614.8h1.4v1.4h-1.4zM448.3,601.6h1.4v1.4h-1.4zM403.7,608.7h1.4v1.4h-1.4zM444.2,611.3h1.4v1.4h-1.4zM452.7,616.6h1.4v1.4h-1.4zM420.8,603.1h1.4v1.4h-1.4zM446.5,612.9h1.4v1.4h-1.4zM399.2,610.6h1.4v1.4h-1.4zM451.6,605.6h1.4v1.4h-1.4zM433.9,608.4h1.4v1.4h-1.4zM446.7,606.5h1.4v1.4h-1.4zM453.5,604.9h1.4v1.4h-1.4zM424.1,606.2h1.4v1.4h-1.4zM419.2,614.8h1.4v1.4h-1.4zM399.8,610.6h1.4v1.4h-1.4zM398.8,605.9h1.4v1.4h-1.4zM433.4,609.4h1.4v1.4h-1.4zM435.7,611.9h1.4v1.4h-1.4zM443.3,607.3h1.4v1.4h-1.4zM437.9,616.1h1.4v1.4h-1.4zM444.6,617.5h1.4v1.4h-1.4zM444.4,610.7h1.4v1.4h-1.4zM423.6,608.6h1.4v1.4h-1.4zM445.1,603.2h1.4v1.4h-1.4zM414.7,605.9h1.4v1.4h-1.4zM443.0,608.3h1.4v1.4h-1.4zM419.7,609.8h1.4v1.4h-1.4zM422.8,612.8h1.4v1.4h-1.4zM400.9,605.5h1.4v1.4h-1.4zM431.1,611.2h1.4v1.4h-1.4zM432.7,615.6h1.4v1.4h-1.4zM449.3,602.9h1.4v1.4h-1.4zM440.6,609.0h1.4v1.4h-1.4zM421.7,617.1h1.4v1.4h-1.4zM458.5,617.7h1.4v1.4h-1.4zM462.1,609.4h1.4v1.4h-1.4zM412.0,611.7h1.4v1.4h-1.4zM443.2,604.9h1.4v1.4h-1.4zM419.6,607.0h1.4v1.4h-1.4zM429.1,612.3h1.4v1.4h-1.4zM438.0,602.5h1.4v1.4h-1.4zM422.7,604.7h1.4v1.4h-1.4zM417.4,606.0h1.4v1.4h-1.4zM447.9,603.9h1.4v1.4h-1.4zM453.2,611.3h1.4v1.4h-1.4zM398.9,608.4h1.4v1.4h-1.4zM408.0,611.4h1.4v1.4h-1.4zM437.8,604.7h1.4v1.4h-1.4zM400.1,607.4h1.4v1.4h-1.4zM433.4,607.4h1.4v1.4h-1.4zM446.1,607.0h1.4v1.4h-1.4zM429.6,610.8h1.4v1.4h-1.4zM442.8,605.2h1.4v1.4h-1.4zM452.1,614.7h1.4v1.4h-1.4zM447.9,615.9h1.4v1.4h-1.4zM456.7,606.1h1.4v1.4h-1.4zM427.3,614.1h1.4v1.4h-1.4zM446.2,606.0h1.4v1.4h-1.4zM449.6,612.1h1.4v1.4h-1.4zM462.4,607.0h1.4v1.4h-1.4zM433.9,607.4h1.4v1.4h-1.4zM433.2,601.7h1.4v1.4h-1.4zM439.2,618.0h1.4v1.4h-1.4zM415.6,612.4h1.4v1.4h-1.4zM407.4,609.4h1.4v1.4h-1.4zM403.7,604.8h1.4v1.4h-1.4zM453.0,606.1h1.4v1.4h-1.4zM449.5,605.2h1.4v1.4h-1.4zM450.4,600.6h1.4v1.4h-1.4zM441.1,607.3h1.4v1.4h-1.4zM403.8,603.8h1.4v1.4h-1.4zM404.5,603.4h1.4v1.4h-1.4zM407.8,606.7h1.4v1.4h-1.4zM400.8,607.9h1.4v1.4h-1.4zM416.1,609.7h1.4v1.4h-1.4zM454.0,611.0h1.4v1.4h-1.4zM421.8,611.0h1.4v1.4h-1.4zM419.8,607.7h1.4v1.4h-1.4zM412.4,605.8h1.4v1.4h-1.4zM409.1,613.0h1.4v1.4h-1.4zM431.4,612.0h1.4v1.4h-1.4zM450.7,602.7h1.4v1.4h-1.4zM414.7,608.8h1.4v1.4h-1.4zM449.5,604.9h1.4v1.4h-1.4zM432.2,611.8h1.4v1.4h-1.4zM423.9,611.4h1.4v1.4h-1.4zM458.5,604.7h1.4v1.4h-1.4zM435.7,610.5h1.4v1.4h-1.4zM399.2,609.1h1.4v1.4h-1.4zM401.5,608.8h1.4v1.4h-1.4zM430.7,610.0h1.4v1.4h-1.4zM446.5,615.4h1.4v1.4h-1.4zM439.6,602.9h1.4v1.4h-1.4zM430.1,605.3h1.4v1.4h-1.4zM428.5,611.4h1.4v1.4h-1.4zM431.5,608.7h1.4v1.4h-1.4zM427.1,610.4h1.4v1.4h-1.4zM433.0,614.7h1.4v1.4h-1.4zM415.5,611.8h1.4v1.4h-1.4zM432.4,605.2h1.4v1.4h-1.4zM463.7,610.6h1.4v1.4h-1.4zM456.9,614.9h1.4v1.4h-1.4zM399.0,608.6h1.4v1.4h-1.4zM402.5,607.5h1.4v1.4h-1.4zM430.7,609.0h1.4v1.4h-1.4zM432.6,605.4h1.4v1.4h-1.4zM443.5,605.7h1.4v1.4h-1.4zM438.2,609.1h1.4v1.4h-1.4zM432.3,601.0h1.4v1.4h-1.4zM436.7,610.0h1.4v1.4h-1.4zM426.9,613.0h1.4v1.4h-1.4zM435.4,601.2h1.4v1.4h-1.4zM428.0,607.5h1.4v1.4h-1.4zM443.3,608.4h1.4v1.4h-1.4zM415.0,604.0h1.4v1.4h-1.4zM419.6,606.3h1.4v1.4h-1.4zM422.7,606.1h1.4v1.4h-1.4zM417.7,611.3h1.4v1.4h-1.4zM430.5,610.0h1.4v1.4h-1.4zM439.6,608.6h1.4v1.4h-1.4zM430.6,616.7h1.4v1.4h-1.4zM415.1,613.4h1.4v1.4h-1.4zM421.7,615.0h1.4v1.4h-1.4zM435.3,609.5h1.4v1.4h-1.4zM446.8,610.1h1.4v1.4h-1.4zM414.1,606.1h1.4v1.4h-1.4zM424.6,604.5h1.4v1.4h-1.4zM439.0,602.1h1.4v1.4h-1.4zM453.7,607.8h1.4v1.4h-1.4zM429.2,607.2h1.4v1.4h-1.4zM416.6,615.7h1.4v1.4h-1.4zM436.0,606.2h1.4v1.4h-1.4zM421.3,602.6h1.4v1.4h-1.4zM411.8,607.9h1.4v1.4h-1.4zM451.8,610.9h1.4v1.4h-1.4zM438.6,602.2h1.4v1.4h-1.4zM425.3,605.8h1.4v1.4h-1.4zM460.3,614.2h1.4v1.4h-1.4zM409.0,603.6h1.4v1.4h-1.4zM453.9,602.7h1.4v1.4h-1.4zM422.6,612.9h1.4v1.4h-1.4zM427.7,612.8h1.4v1.4h-1.4zM418.3,603.8h1.4v1.4h-1.4zM409.0,604.1h1.4v1.4h-1.4zM410.3,603.8h1.4v1.4h-1.4zM447.9,608.8h1.4v1.4h-1.4zM447.6,612.2h1.4v1.4h-1.4zM420.4,604.8h1.4v1.4h-1.4zM406.1,611.7h1.4v1.4h-1.4zM402.5,601.1h1.4v1.4h-1.4zM465.5,611.1h1.4v1.4h-1.4zM441.0,610.6h1.4v1.4h-1.4zM451.0,616.6h1.4v1.4h-1.4zM402.7,607.6h1.4v1.4h-1.4zM440.0,602.2h1.4v1.4h-1.4zM439.4,607.3h1.4v1.4h-1.4zM411.9,612.7h1.4v1.4h-1.4zM459.4,616.5h1.4v1.4h-1.4zM408.5,612.1h1.4v1.4h-1.4zM455.0,599.4h1.4v1.4h-1.4zM443.1,614.5h1.4v1.4h-1.4zM413.7,601.4h1.4v1.4h-1.4zM449.4,613.3h1.4v1.4h-1.4zM401.1,609.1h1.4v1.4h-1.4zM447.1,614.1h1.4v1.4h-1.4zM410.0,614.5h1.4v1.4h-1.4zM416.6,609.9h1.4v1.4h-1.4zM421.8,607.4h1.4v1.4h-1.4zM408.8,610.9h1.4v1.4h-1.4zM446.8,611.8h1.4v1.4h-1.4zM447.4,610.2h1.4v1.4h-1.4zM425.6,615.0h1.4v1.4h-1.4zM454.0,613.1h1.4v1.4h-1.4zM414.7,608.4h1.4v1.4h-1.4zM434.3,607.6h1.4v1.4h-1.4zM433.1,612.4h1.4v1.4h-1.4zM403.0,613.7h1.4v1.4h-1.4zM451.2,605.3h1.4v1.4h-1.4zM457.4,615.7h1.4v1.4h-1.4zM420.6,612.4h1.4v1.4h-1.4zM402.9,609.6h1.4v1.4h-1.4zM440.2,614.9h1.4v1.4h-1.4zM434.0,610.7h1.4v1.4h-1.4zM453.9,605.4h1.4v1.4h-1.4zM449.9,607.4h1.4v1.4h-1.4zM420.6,610.8h1.4v1.4h-1.4zM450.7,603.1h1.4v1.4h-1.4zM462.0,612.7h1.4v1.4h-1.4zM433.2,617.1h1.4v1.4h-1.4zM417.8,602.1h1.4v1.4h-1.4zM423.3,602.8h1.4v1.4h-1.4zM403.0,605.2h1.4v1.4h-1.4zM426.7,602.1h1.4v1.4h-1.4zM433.6,605.5h1.4v1.4h-1.4zM438.1,606.8h1.4v1.4h-1.4zM430.0,610.7h1.4v1.4h-1.4zM454.3,607.2h1.4v1.4h-1.4zM417.0,607.7h1.4v1.4h-1.4zM431.9,600.3h1.4v1.4h-1.4zM454.7,612.6h1.4v1.4h-1.4zM457.0,613.8h1.4v1.4h-1.4zM416.4,607.8h1.4v1.4h-1.4zM440.3,616.6h1.4v1.4h-1.4zM440.4,612.2h1.4v1.4h-1.4zM411.2,610.8h1.4v1.4h-1.4zM423.7,610.5h1.4v1.4h-1.4zM426.6,611.3h1.4v1.4h-1.4zM432.9,606.0h1.4v1.4h-1.4zM447.3,609.7h1.4v1.4h-1.4zM414.3,606.0h1.4v1.4h-1.4zM430.7,610.9h1.4v1.4h-1.4zM464.1,613.1h1.4v1.4h-1.4zM445.6,612.2h1.4v1.4h-1.4zM445.4,608.6h1.4v1.4h-1.4zM457.5,608.0h1.4v1.4h-1.4zM407.2,603.0h1.4v1.4h-1.4zM425.3,607.7h1.4v1.4h-1.4zM450.4,611.6h1.4v1.4h-1.4zM427.6,599.0h1.4v1.4h-1.4zM415.3,609.9h1.4v1.4h-1.4zM432.5,606.9h1.4v1.4h-1.4zM428.2,610.8h1.4v1.4h-1.4zM433.0,608.1h1.4v1.4h-1.4zM411.4,609.6h1.4v1.4h-1.4zM411.9,610.6h1.4v1.4h-1.4zM419.0,616.8h1.4v1.4h-1.4zM438.7,604.9h1.4v1.4h-1.4zM415.0,612.7h1.4v1.4h-1.4zM443.7,602.7h1.4v1.4h-1.4zM454.3,612.5h1.4v1.4h-1.4zM418.8,613.0h1.4v1.4h-1.4zM453.3,618.1h1.4v1.4h-1.4zM429.1,606.0h1.4v1.4h-1.4zM410.8,610.0h1.4v1.4h-1.4zM426.1,616.5h1.4v1.4h-1.4zM430.8,612.9h1.4v1.4h-1.4zM431.2,614.0h1.4v1.4h-1.4zM451.1,614.4h1.4v1.4h-1.4zM425.2,614.4h1.4v1.4h-1.4zM427.6,613.9h1.4v1.4h-1.4zM416.6,607.3h1.4v1.4h-1.4zM458.4,605.1h1.4v1.4h-1.4zM421.6,602.9h1.4v1.4h-1.4zM440.0,614.7h1.4v1.4h-1.4zM439.0,606.9h1.4v1.4h-1.4zM440.7,605.2h1.4v1.4h-1.4zM456.2,620.2h1.4v1.4h-1.4zM460.8,612.8h1.4v1.4h-1.4zM413.9,611.7h1.4v1.4h-1.4zM438.1,602.4h1.4v1.4h-1.4zM404.0,603.1h1.4v1.4h-1.4zM441.0,612.0h1.4v1.4h-1.4zM395.2,605.1h1.4v1.4h-1.4zM449.4,605.4h1.4v1.4h-1.4zM456.4,608.9h1.4v1.4h-1.4zM438.2,612.3h1.4v1.4h-1.4zM447.3,612.5h1.4v1.4h-1.4zM435.9,613.3h1.4v1.4h-1.4zM447.1,603.5h1.4v1.4h-1.4zM428.2,612.6h1.4v1.4h-1.4zM444.6,603.9h1.4v1.4h-1.4zM437.1,615.0h1.4v1.4h-1.4zM431.9,610.0h1.4v1.4h-1.4zM410.1,604.3h1.4v1.4h-1.4zM442.9,616.0h1.4v1.4h-1.4zM426.6,608.9h1.4v1.4h-1.4zM444.3,605.0h1.4v1.4h-1.4zM434.3,612.4h1.4v1.4h-1.4zM402.8,605.5h1.4v1.4h-1.4zM431.3,604.1h1.4v1.4h-1.4zM422.6,607.3h1.4v1.4h-1.4zM427.2,614.3h1.4v1.4h-1.4zM449.4,615.4h1.4v1.4h-1.4zM459.8,600.2h1.4v1.4h-1.4zM449.8,613.1h1.4v1.4h-1.4zM451.6,612.1h1.4v1.4h-1.4zM447.7,612.2h1.4v1.4h-1.4zM426.9,611.9h1.4v1.4h-1.4zM397.2,604.3h1.4v1.4h-1.4zM443.0,611.3h1.4v1.4h-1.4zM408.7,608.9h1.4v1.4h-1.4zM433.0,610.1h1.4v1.4h-1.4zM429.9,605.3h1.4v1.4h-1.4zM417.8,602.6h1.4v1.4h-1.4zM403.6,607.8h1.4v1.4h-1.4zM443.3,605.2h1.4v1.4h-1.4zM454.5,614.2h1.4v1.4h-1.4zM422.0,612.0h1.4v1.4h-1.4zM401.5,606.6h1.4v1.4h-1.4zM434.1,601.6h1.4v1.4h-1.4zM453.7,607.7h1.4v1.4h-1.4zM463.7,609.1h1.4v1.4h-1.4zM445.8,610.3h1.4v1.4h-1.4zM432.9,612.2h1.4v1.4h-1.4zM447.3,609.4h1.4v1.4h-1.4zM421.4,610.5h1.4v1.4h-1.4zM414.5,611.1h1.4v1.4h-1.4zM428.8,610.4h1.4v1.4h-1.4zM447.6,608.4h1.4v1.4h-1.4zM446.5,603.5h1.4v1.4h-1.4zM411.2,604.8h1.4v1.4h-1.4zM416.7,612.0h1.4v1.4h-1.4zM407.5,603.9h1.4v1.4h-1.4zM422.8,606.5h1.4v1.4h-1.4zM401.8,608.0h1.4v1.4h-1.4zM400.8,608.6h1.4v1.4h-1.4zM450.0,604.5h1.4v1.4h-1.4zM428.4,601.6h1.4v1.4h-1.4zM411.8,607.5h1.4v1.4h-1.4zM401.0,608.1h1.4v1.4h-1.4zM420.5,601.0h1.4v1.4h-1.4zM438.5,614.5h1.4v1.4h-1.4zM424.8,610.0h1.4v1.4h-1.4zM455.5,606.9h1.4v1.4h-1.4zM430.5,615.8h1.4v1.4h-1.4zM435.6,613.6h1.4v1.4h-1.4zM431.5,615.0h1.4v1.4h-1.4zM461.9,612.9h1.4v1.4h-1.4zM413.2,605.3h1.4v1.4h-1.4zM402.6,614.6h1.4v1.4h-1.4zM460.0,611.7h1.4v1.4h-1.4zM425.3,609.5h1.4v1.4h-1.4zM420.1,613.4h1.4v1.4h-1.4zM402.2,605.3h1.4v1.4h-1.4zM452.7,615.1h1.4v1.4h-1.4zM434.4,607.9h1.4v1.4h-1.4zM414.5,611.3h1.4v1.4h-1.4zM454.9,605.8h1.4v1.4h-1.4zM435.9,615.0h1.4v1.4h-1.4zM416.7,605.9h1.4v1.4h-1.4zM444.2,614.2h1.4v1.4h-1.4zM429.2,610.3h1.4v1.4h-1.4zM447.2,607.5h1.4v1.4h-1.4zM447.7,611.9h1.4v1.4h-1.4zM444.0,609.0h1.4v1.4h-1.4zM417.5,605.8h1.4v1.4h-1.4zM406.7,609.3h1.4v1.4h-1.4zM414.5,603.6h1.4v1.4h-1.4zM417.1,609.6h1.4v1.4h-1.4zM409.4,612.7h1.4v1.4h-1.4zM447.0,618.5h1.4v1.4h-1.4zM460.3,616.1h1.4v1.4h-1.4zM437.0,604.1h1.4v1.4h-1.4zM436.6,605.3h1.4v1.4h-1.4zM417.2,605.5h1.4v1.4h-1.4zM463.6,612.9h1.4v1.4h-1.4zM429.6,613.7h1.4v1.4h-1.4zM416.3,606.9h1.4v1.4h-1.4zM434.1,610.6h1.4v1.4h-1.4zM443.1,609.7h1.4v1.4h-1.4zM441.0,602.9h1.4v1.4h-1.4zM401.5,608.4h1.4v1.4h-1.4zM438.3,608.8h1.4v1.4h-1.4zM456.2,611.6h1.4v1.4h-1.4zM455.5,612.7h1.4v1.4h-1.4zM447.3,610.6h1.4v1.4h-1.4zM415.1,614.1h1.4v1.4h-1.4zM432.3,609.9h1.4v1.4h-1.4zM458.5,607.8h1.4v1.4h-1.4zM427.9,607.0h1.4v1.4h-1.4zM463.0,602.8h1.4v1.4h-1.4zM460.6,612.2h1.4v1.4h-1.4zM426.4,614.2h1.4v1.4h-1.4zM428.3,608.6h1.4v1.4h-1.4zM394.0,601.8h1.4v1.4h-1.4zM441.5,606.9h1.4v1.4h-1.4zM455.3,606.0h1.4v1.4h-1.4zM445.8,609.2h1.4v1.4h-1.4zM447.4,608.9h1.4v1.4h-1.4zM408.1,602.3h1.4v1.4h-1.4zM408.9,601.5h1.4v1.4h-1.4zM414.4,610.8h1.4v1.4h-1.4zM438.0,615.4h1.4v1.4h-1.4zM400.9,610.3h1.4v1.4h-1.4zM418.0,608.8h1.4v1.4h-1.4zM408.3,604.8h1.4v1.4h-1.4zM451.8,602.8h1.4v1.4h-1.4zM434.5,613.5h1.4v1.4h-1.4zM413.3,605.4h1.4v1.4h-1.4zM415.0,604.2h1.4v1.4h-1.4zM414.6,605.1h1.4v1.4h-1.4zM436.8,612.1h1.4v1.4h-1.4zM424.1,613.4h1.4v1.4h-1.4zM415.4,608.4h1.4v1.4h-1.4zM405.1,608.1h1.4v1.4h-1.4zM403.1,605.4h1.4v1.4h-1.4zM442.9,618.5h1.4v1.4h-1.4zM457.6,602.0h1.4v1.4h-1.4zM461.2,611.4h1.4v1.4h-1.4zM434.1,604.2h1.4v1.4h-1.4zM451.3,615.2h1.4v1.4h-1.4zM424.8,619.0h1.4v1.4h-1.4zM449.5,613.8h1.4v1.4h-1.4zM419.7,606.8h1.4v1.4h-1.4zM435.9,608.5h1.4v1.4h-1.4zM451.0,606.3h1.4v1.4h-1.4zM452.4,612.4h1.4v1.4h-1.4zM457.1,615.0h1.4v1.4h-1.4zM414.2,605.5h1.4v1.4h-1.4zM448.7,611.4h1.4v1.4h-1.4zM433.1,610.7h1.4v1.4h-1.4zM425.9,603.5h1.4v1.4h-1.4zM442.0,613.5h1.4v1.4h-1.4zM434.5,617.7h1.4v1.4h-1.4zM445.7,613.7h1.4v1.4h-1.4zM461.5,609.9h1.4v1.4h-1.4zM414.6,610.6h1.4v1.4h-1.4zM409.0,610.1h1.4v1.4h-1.4zM407.8,607.8h1.4v1.4h-1.4zM457.6,614.8h1.4v1.4h-1.4zM431.2,612.4h1.4v1.4h-1.4zM428.5,607.4h1.4v1.4h-1.4zM429.2,603.5h1.4v1.4h-1.4zM460.3,611.5h1.4v1.4h-1.4zM421.2,609.0h1.4v1.4h-1.4zM414.5,603.2h1.4v1.4h-1.4zM448.1,604.2h1.4v1.4h-1.4zM444.7,611.9h1.4v1.4h-1.4zM410.0,608.8h1.4v1.4h-1.4zM453.0,616.4h1.4v1.4h-1.4zM442.6,608.3h1.4v1.4h-1.4zM451.5,604.0h1.4v1.4h-1.4zM454.5,612.2h1.4v1.4h-1.4zM408.3,606.7h1.4v1.4h-1.4zM439.0,608.6h1.4v1.4h-1.4zM410.5,611.4h1.4v1.4h-1.4zM438.7,604.0h1.4v1.4h-1.4zM422.6,614.2h1.4v1.4h-1.4zM461.1,601.3h1.4v1.4h-1.4zM420.7,609.9h1.4v1.4h-1.4zM431.3,611.4h1.4v1.4h-1.4zM408.2,605.8h1.4v1.4h-1.4zM439.7,610.7h1.4v1.4h-1.4zM403.3,610.0h1.4v1.4h-1.4zM450.2,604.5h1.4v1.4h-1.4zM452.7,606.5h1.4v1.4h-1.4zM452.9,607.0h1.4v1.4h-1.4zM448.2,614.0h1.4v1.4h-1.4zM412.1,608.5h1.4v1.4h-1.4zM402.7,612.0h1.4v1.4h-1.4zM431.0,611.7h1.4v1.4h-1.4zM425.9,610.9h1.4v1.4h-1.4zM454.8,604.2h1.4v1.4h-1.4zM398.2,611.6h1.4v1.4h-1.4zM456.2,607.9h1.4v1.4h-1.4zM418.2,609.6h1.4v1.4h-1.4zM423.5,605.9h1.4v1.4h-1.4zM462.7,613.6h1.4v1.4h-1.4zM439.1,615.9h1.4v1.4h-1.4zM429.7,606.3h1.4v1.4h-1.4zM421.6,605.5h1.4v1.4h-1.4zM455.4,615.3h1.4v1.4h-1.4zM445.8,617.5h1.4v1.4h-1.4zM452.7,602.4h1.4v1.4h-1.4zM447.7,606.1h1.4v1.4h-1.4zM422.7,608.4h1.4v1.4h-1.4zM420.0,601.1h1.4v1.4h-1.4zM445.0,604.8h1.4v1.4h-1.4zM398.8,606.2h1.4v1.4h-1.4zM436.9,615.6h1.4v1.4h-1.4zM441.5,601.4h1.4v1.4h-1.4zM431.0,610.4h1.4v1.4h-1.4zM416.7,607.1h1.4v1.4h-1.4zM418.9,602.6h1.4v1.4h-1.4zM401.6,605.7h1.4v1.4h-1.4zM416.3,602.8h1.4v1.4h-1.4zM432.3,612.0h1.4v1.4h-1.4zM428.9,605.9h1.4v1.4h-1.4zM420.9,600.7h1.4v1.4h-1.4zM415.2,614.9h1.4v1.4h-1.4zM446.9,606.4h1.4v1.4h-1.4zM418.3,609.1h1.4v1.4h-1.4zM425.8,609.8h1.4v1.4h-1.4zM408.6,602.5h1.4v1.4h-1.4zM417.1,614.8h1.4v1.4h-1.4zM443.0,613.1h1.4v1.4h-1.4zM434.2,616.8h1.4v1.4h-1.4zM457.7,615.2h1.4v1.4h-1.4zM423.8,609.0h1.4v1.4h-1.4zM441.0,615.6h1.4v1.4h-1.4zM410.5,613.0h1.4v1.4h-1.4zM409.9,608.9h1.4v1.4h-1.4zM414.0,611.0h1.4v1.4h-1.4zM463.7,614.6h1.4v1.4h-1.4zM442.8,617.2h1.4v1.4h-1.4zM438.2,615.3h1.4v1.4h-1.4zM452.6,615.2h1.4v1.4h-1.4zM460.3,613.7h1.4v1.4h-1.4zM410.1,607.2h1.4v1.4h-1.4zM414.5,604.2h1.4v1.4h-1.4zM422.7,601.0h1.4v1.4h-1.4zM422.1,607.6h1.4v1.4h-1.4zM440.7,616.9h1.4v1.4h-1.4zM446.5,613.3h1.4v1.4h-1.4zM405.0,608.9h1.4v1.4h-1.4zM435.7,615.2h1.4v1.4h-1.4zM443.6,604.0h1.4v1.4h-1.4zM411.9,611.1h1.4v1.4h-1.4zM439.7,611.3h1.4v1.4h-1.4zM462.4,607.3h1.4v1.4h-1.4zM422.1,605.5h1.4v1.4h-1.4zM454.1,613.6h1.4v1.4h-1.4zM407.0,614.6h1.4v1.4h-1.4zM456.9,611.7h1.4v1.4h-1.4zM419.0,614.1h1.4v1.4h-1.4zM454.1,609.5h1.4v1.4h-1.4zM457.6,606.3h1.4v1.4h-1.4zM451.5,603.3h1.4v1.4h-1.4zM452.1,608.6h1.4v1.4h-1.4zM418.1,603.3h1.4v1.4h-1.4zM437.4,612.9h1.4v1.4h-1.4zM443.8,609.1h1.4v1.4h-1.4zM411.6,613.9h1.4v1.4h-1.4zM422.0,613.0h1.4v1.4h-1.4zM427.1,609.1h1.4v1.4h-1.4zM412.3,599.9h1.4v1.4h-1.4zM429.6,616.5h1.4v1.4h-1.4zM450.4,607.3h1.4v1.4h-1.4zM423.8,604.2h1.4v1.4h-1.4zM409.8,603.3h1.4v1.4h-1.4zM454.1,606.8h1.4v1.4h-1.4zM418.3,612.4h1.4v1.4h-1.4zM436.0,610.7h1.4v1.4h-1.4zM443.2,618.4h1.4v1.4h-1.4zM410.0,608.4h1.4v1.4h-1.4zM452.3,602.2h1.4v1.4h-1.4zM457.9,611.2h1.4v1.4h-1.4zM412.9,601.0h1.4v1.4h-1.4zM431.8,605.3h1.4v1.4h-1.4zM450.0,606.0h1.4v1.4h-1.4zM417.6,613.1h1.4v1.4h-1.4zM426.5,606.7h1.4v1.4h-1.4zM451.9,606.3h1.4v1.4h-1.4zM455.2,606.9h1.4v1.4h-1.4zM433.0,603.2h1.4v1.4h-1.4zM433.0,603.2h1.4v1.4h-1.4zM423.1,613.4h1.4v1.4h-1.4zM449.3,609.4h1.4v1.4h-1.4zM424.2,609.1h1.4v1.4h-1.4zM421.5,608.7h1.4v1.4h-1.4zM418.5,609.5h1.4v1.4h-1.4zM432.7,610.6h1.4v1.4h-1.4zM423.6,609.1h1.4v1.4h-1.4zM448.0,610.2h1.4v1.4h-1.4zM415.6,605.5h1.4v1.4h-1.4zM433.3,615.5h1.4v1.4h-1.4zM429.7,612.5h1.4v1.4h-1.4zM424.3,609.4h1.4v1.4h-1.4zM462.0,606.3h1.4v1.4h-1.4zM450.0,613.0h1.4v1.4h-1.4zM400.8,611.1h1.4v1.4h-1.4zM413.4,610.3h1.4v1.4h-1.4zM459.4,613.2h1.4v1.4h-1.4zM444.1,602.1h1.4v1.4h-1.4zM435.7,617.7h1.4v1.4h-1.4zM438.0,612.2h1.4v1.4h-1.4zM443.5,609.6h1.4v1.4h-1.4zM452.5,613.4h1.4v1.4h-1.4zM448.6,608.3h1.4v1.4h-1.4zM456.3,610.1h1.4v1.4h-1.4zM413.8,615.3h1.4v1.4h-1.4zM439.0,603.5h1.4v1.4h-1.4zM413.5,609.2h1.4v1.4h-1.4zM432.9,610.7h1.4v1.4h-1.4zM447.5,613.1h1.4v1.4h-1.4zM434.6,608.3h1.4v1.4h-1.4zM423.6,603.7h1.4v1.4h-1.4zM417.9,607.6h1.4v1.4h-1.4zM445.5,606.7h1.4v1.4h-1.4zM445.6,615.4h1.4v1.4h-1.4zM446.3,602.7h1.4v1.4h-1.4zM433.6,615.7h1.4v1.4h-1.4zM456.3,612.5h1.4v1.4h-1.4zM437.9,615.0h1.4v1.4h-1.4zM407.4,612.5h1.4v1.4h-1.4zM401.5,616.6h1.4v1.4h-1.4zM426.8,599.8h1.4v1.4h-1.4zM459.7,614.4h1.4v1.4h-1.4zM406.3,599.9h1.4v1.4h-1.4zM411.7,605.6h1.4v1.4h-1.4zM429.3,612.7h1.4v1.4h-1.4zM433.4,608.7h1.4v1.4h-1.4zM408.0,606.4h1.4v1.4h-1.4zM424.7,609.3h1.4v1.4h-1.4zM417.3,597.2h1.4v1.4h-1.4zM410.4,608.1h1.4v1.4h-1.4zM441.8,615.6h1.4v1.4h-1.4zM453.3,603.6h1.4v1.4h-1.4zM426.9,609.6h1.4v1.4h-1.4zM425.8,602.7h1.4v1.4h-1.4zM432.9,602.1h1.4v1.4h-1.4zM403.0,609.3h1.4v1.4h-1.4zM413.7,616.3h1.4v1.4h-1.4zM435.0,611.0h1.4v1.4h-1.4zM459.4,612.0h1.4v1.4h-1.4zM419.7,613.0h1.4v1.4h-1.4zM405.8,611.9h1.4v1.4h-1.4zM446.9,619.9h1.4v1.4h-1.4zM395.9,608.8h1.4v1.4h-1.4zM434.3,612.3h1.4v1.4h-1.4zM423.5,613.7h1.4v1.4h-1.4zM457.3,610.8h1.4v1.4h-1.4zM413.1,612.0h1.4v1.4h-1.4zM412.8,608.1h1.4v1.4h-1.4zM430.8,604.7h1.4v1.4h-1.4zM456.9,610.1h1.4v1.4h-1.4zM422.3,606.5h1.4v1.4h-1.4zM430.4,618.6h1.4v1.4h-1.4zM419.3,612.4h1.4v1.4h-1.4zM428.3,612.7h1.4v1.4h-1.4zM402.8,612.3h1.4v1.4h-1.4zM419.3,611.4h1.4v1.4h-1.4zM399.9,612.7h1.4v1.4h-1.4zM431.8,620.3h1.4v1.4h-1.4zM410.2,602.3h1.4v1.4h-1.4zM454.5,606.7h1.4v1.4h-1.4zM397.5,611.1h1.4v1.4h-1.4zM419.4,608.2h1.4v1.4h-1.4zM447.4,607.1h1.4v1.4h-1.4zM420.4,606.9h1.4v1.4h-1.4zM429.1,605.2h1.4v1.4h-1.4zM398.7,606.2h1.4v1.4h-1.4zM440.8,603.9h1.4v1.4h-1.4zM456.5,616.6h1.4v1.4h-1.4zM430.4,606.4h1.4v1.4h-1.4zM405.5,605.1h1.4v1.4h-1.4zM443.0,609.7h1.4v1.4h-1.4zM404.4,600.4h1.4v1.4h-1.4zM404.5,604.6h1.4v1.4h-1.4zM427.4,612.2h1.4v1.4h-1.4zM454.4,606.8h1.4v1.4h-1.4zM442.0,608.1h1.4v1.4h-1.4zM435.3,615.5h1.4v1.4h-1.4zM430.5,613.7h1.4v1.4h-1.4zM406.0,608.3h1.4v1.4h-1.4zM443.0,608.0h1.4v1.4h-1.4zM407.6,607.9h1.4v1.4h-1.4zM426.9,617.4h1.4v1.4h-1.4zM453.0,613.0h1.4v1.4h-1.4zM462.6,607.9h1.4v1.4h-1.4zM409.0,601.4h1.4v1.4h-1.4zM435.6,615.6h1.4v1.4h-1.4zM428.7,604.3h1.4v1.4h-1.4zM432.6,605.8h1.4v1.4h-1.4zM452.2,602.8h1.4v1.4h-1.4zM449.8,601.7h1.4v1.4h-1.4zM430.3,604.9h1.4v1.4h-1.4zM424.1,599.5h1.4v1.4h-1.4zM432.4,605.7h1.4v1.4h-1.4zM455.9,609.5h1.4v1.4h-1.4zM444.6,610.4h1.4v1.4h-1.4zM417.9,613.4h1.4v1.4h-1.4zM433.2,617.4h1.4v1.4h-1.4zM457.8,604.9h1.4v1.4h-1.4zM436.1,615.6h1.4v1.4h-1.4zM435.0,610.2h1.4v1.4h-1.4zM412.1,605.2h1.4v1.4h-1.4zM443.5,606.1h1.4v1.4h-1.4zM414.7,611.8h1.4v1.4h-1.4zM445.6,608.0h1.4v1.4h-1.4zM400.2,608.5h1.4v1.4h-1.4zM424.0,607.2h1.4v1.4h-1.4zM423.5,617.5h1.4v1.4h-1.4zM425.0,614.8h1.4v1.4h-1.4zM464.7,608.0h1.4v1.4h-1.4zM417.8,616.4h1.4v1.4h-1.4zM455.2,610.5h1.4v1.4h-1.4zM453.6,601.7h1.4v1.4h-1.4zM411.7,613.4h1.4v1.4h-1.4zM419.4,614.2h1.4v1.4h-1.4zM435.9,603.7h1.4v1.4h-1.4zM451.8,601.6h1.4v1.4h-1.4zM414.9,610.0h1.4v1.4h-1.4zM455.4,613.6h1.4v1.4h-1.4zM429.3,605.8h1.4v1.4h-1.4zM438.7,607.1h1.4v1.4h-1.4zM438.6,612.3h1.4v1.4h-1.4zM450.6,615.0h1.4v1.4h-1.4zM411.0,611.3h1.4v1.4h-1.4zM449.1,615.0h1.4v1.4h-1.4zM450.3,603.0h1.4v1.4h-1.4zM412.1,610.4h1.4v1.4h-1.4zM408.6,610.1h1.4v1.4h-1.4zM402.4,603.8h1.4v1.4h-1.4zM426.3,609.8h1.4v1.4h-1.4zM400.4,604.1h1.4v1.4h-1.4zM434.8,604.6h1.4v1.4h-1.4zM438.4,611.8h1.4v1.4h-1.4zM411.3,613.2h1.4v1.4h-1.4zM456.5,609.1h1.4v1.4h-1.4zM402.3,608.9h1.4v1.4h-1.4zM446.9,604.5h1.4v1.4h-1.4zM426.9,604.8h1.4v1.4h-1.4zM421.7,606.6h1.4v1.4h-1.4zM421.9,603.4h1.4v1.4h-1.4zM428.6,604.1h1.4v1.4h-1.4zM406.8,612.8h1.4v1.4h-1.4zM449.3,605.0h1.4v1.4h-1.4zM438.2,619.6h1.4v1.4h-1.4zM431.1,606.2h1.4v1.4h-1.4zM462.4,612.0h1.4v1.4h-1.4zM440.4,618.7h1.4v1.4h-1.4zM414.1,605.6h1.4v1.4h-1.4zM414.7,609.4h1.4v1.4h-1.4zM399.0,609.0h1.4v1.4h-1.4zM434.7,605.6h1.4v1.4h-1.4zM460.6,611.1h1.4v1.4h-1.4zM454.8,608.2h1.4v1.4h-1.4zM410.6,615.4h1.4v1.4h-1.4zM417.8,606.3h1.4v1.4h-1.4zM449.0,617.5h1.4v1.4h-1.4zM455.7,607.8h1.4v1.4h-1.4zM419.6,614.0h1.4v1.4h-1.4zM434.9,609.0h1.4v1.4h-1.4zM399.1,603.9h1.4v1.4h-1.4zM414.9,607.6h1.4v1.4h-1.4zM421.7,605.7h1.4v1.4h-1.4zM427.9,615.6h1.4v1.4h-1.4zM424.2,600.0h1.4v1.4h-1.4zM454.6,609.0h1.4v1.4h-1.4zM437.5,608.8h1.4v1.4h-1.4zM460.8,607.1h1.4v1.4h-1.4zM454.3,612.0h1.4v1.4h-1.4zM437.2,609.0h1.4v1.4h-1.4zM432.5,616.0h1.4v1.4h-1.4zM422.1,604.6h1.4v1.4h-1.4zM442.9,612.9h1.4v1.4h-1.4zM435.9,605.1h1.4v1.4h-1.4zM415.0,606.5h1.4v1.4h-1.4zM414.0,610.3h1.4v1.4h-1.4zM420.4,610.6h1.4v1.4h-1.4zM447.4,604.7h1.4v1.4h-1.4zM425.9,605.4h1.4v1.4h-1.4zM447.4,612.4h1.4v1.4h-1.4zM433.1,607.4h1.4v1.4h-1.4zM407.9,615.5h1.4v1.4h-1.4zM416.6,607.9h1.4v1.4h-1.4zM420.3,602.6h1.4v1.4h-1.4zM396.9,605.3h1.4v1.4h-1.4zM400.3,611.0h1.4v1.4h-1.4zM417.6,613.4h1.4v1.4h-1.4zM406.6,612.2h1.4v1.4h-1.4zM445.9,610.1h1.4v1.4h-1.4zM426.5,608.8h1.4v1.4h-1.4zM415.2,614.7h1.4v1.4h-1.4zM403.5,600.1h1.4v1.4h-1.4zM411.9,608.8h1.4v1.4h-1.4zM411.3,615.6h1.4v1.4h-1.4zM417.3,612.3h1.4v1.4h-1.4zM422.5,603.5h1.4v1.4h-1.4zM404.3,613.2h1.4v1.4h-1.4zM425.5,612.5h1.4v1.4h-1.4zM406.4,609.7h1.4v1.4h-1.4zM438.9,606.7h1.4v1.4h-1.4zM418.4,602.2h1.4v1.4h-1.4zM433.1,605.3h1.4v1.4h-1.4zM425.1,611.6h1.4v1.4h-1.4zM431.0,607.9h1.4v1.4h-1.4zM400.0,605.2h1.4v1.4h-1.4zM399.0,607.5h1.4v1.4h-1.4zM436.2,603.8h1.4v1.4h-1.4zM435.3,606.3h1.4v1.4h-1.4zM425.0,616.9h1.4v1.4h-1.4zM453.3,612.3h1.4v1.4h-1.4zM442.8,604.9h1.4v1.4h-1.4zM444.2,613.3h1.4v1.4h-1.4zM448.7,612.2h1.4v1.4h-1.4zM433.5,604.1h1.4v1.4h-1.4zM452.2,614.6h1.4v1.4h-1.4zM418.4,611.9h1.4v1.4h-1.4zM443.1,614.7h1.4v1.4h-1.4zM397.4,606.3h1.4v1.4h-1.4zM402.4,605.4h1.4v1.4h-1.4zM453.8,607.0h1.4v1.4h-1.4zM414.8,614.5h1.4v1.4h-1.4zM454.5,609.6h1.4v1.4h-1.4zM442.2,604.4h1.4v1.4h-1.4zM453.5,615.3h1.4v1.4h-1.4zM426.6,613.9h1.4v1.4h-1.4zM453.7,614.9h1.4v1.4h-1.4zM429.6,609.7h1.4v1.4h-1.4zM426.2,605.6h1.4v1.4h-1.4zM420.7,609.3h1.4v1.4h-1.4zM402.5,608.7h1.4v1.4h-1.4zM435.5,602.5h1.4v1.4h-1.4zM419.8,610.2h1.4v1.4h-1.4zM413.4,607.6h1.4v1.4h-1.4zM433.9,607.0h1.4v1.4h-1.4zM429.5,613.6h1.4v1.4h-1.4zM411.0,607.0h1.4v1.4h-1.4zM429.0,615.5h1.4v1.4h-1.4zM456.0,603.5h1.4v1.4h-1.4zM446.2,614.1h1.4v1.4h-1.4zM417.1,612.2h1.4v1.4h-1.4zM447.5,615.5h1.4v1.4h-1.4zM424.5,605.0h1.4v1.4h-1.4zM396.8,607.4h1.4v1.4h-1.4zM433.8,606.7h1.4v1.4h-1.4zM416.7,611.4h1.4v1.4h-1.4zM431.1,610.2h1.4v1.4h-1.4zM431.9,613.5h1.4v1.4h-1.4zM432.6,608.5h1.4v1.4h-1.4zM425.1,611.6h1.4v1.4h-1.4zM433.5,611.0h1.4v1.4h-1.4zM411.8,607.2h1.4v1.4h-1.4zM459.8,604.1h1.4v1.4h-1.4zM453.6,613.6h1.4v1.4h-1.4zM399.5,610.4h1.4v1.4h-1.4zM427.9,610.3h1.4v1.4h-1.4zM403.0,612.0h1.4v1.4h-1.4zM416.8,606.7h1.4v1.4h-1.4zM438.9,610.4h1.4v1.4h-1.4zM433.8,609.7h1.4v1.4h-1.4zM440.3,609.3h1.4v1.4h-1.4zM397.8,611.6h1.4v1.4h-1.4zM433.2,605.0h1.4v1.4h-1.4zM410.7,602.7h1.4v1.4h-1.4zM420.2,610.8h1.4v1.4h-1.4zM438.3,612.3h1.4v1.4h-1.4zM405.0,606.0h1.4v1.4h-1.4zM439.0,615.4h1.4v1.4h-1.4zM402.6,607.8h1.4v1.4h-1.4zM454.4,606.1h1.4v1.4h-1.4zM419.3,609.9h1.4v1.4h-1.4zM436.4,607.0h1.4v1.4h-1.4zM446.1,610.0h1.4v1.4h-1.4zM450.7,605.7h1.4v1.4h-1.4zM451.5,611.2h1.4v1.4h-1.4zM403.6,601.9h1.4v1.4h-1.4zM404.2,609.4h1.4v1.4h-1.4zM417.7,598.4h1.4v1.4h-1.4zM431.7,604.1h1.4v1.4h-1.4zM447.5,610.4h1.4v1.4h-1.4zM433.7,606.5h1.4v1.4h-1.4zM401.8,604.4h1.4v1.4h-1.4zM437.2,605.0h1.4v1.4h-1.4zM459.9,609.7h1.4v1.4h-1.4zM401.7,608.5h1.4v1.4h-1.4zM431.7,615.5h1.4v1.4h-1.4zM444.4,610.0h1.4v1.4h-1.4zM457.0,601.5h1.4v1.4h-1.4zM438.3,617.2h1.4v1.4h-1.4zM409.6,611.2h1.4v1.4h-1.4zM430.5,615.7h1.4v1.4h-1.4zM414.8,602.3h1.4v1.4h-1.4zM422.8,610.0h1.4v1.4h-1.4zM422.4,606.5h1.4v1.4h-1.4zM461.4,604.7h1.4v1.4h-1.4zM436.4,605.9h1.4v1.4h-1.4zM459.1,612.7h1.4v1.4h-1.4zM444.4,603.9h1.4v1.4h-1.4zM414.6,608.2h1.4v1.4h-1.4zM441.5,602.9h1.4v1.4h-1.4zM412.7,615.4h1.4v1.4h-1.4zM421.1,605.1h1.4v1.4h-1.4zM407.2,612.2h1.4v1.4h-1.4zM410.6,605.3h1.4v1.4h-1.4zM430.8,605.5h1.4v1.4h-1.4zM445.2,612.3h1.4v1.4h-1.4zM413.8,612.6h1.4v1.4h-1.4zM438.3,610.9h1.4v1.4h-1.4zM431.7,614.1h1.4v1.4h-1.4zM416.4,608.3h1.4v1.4h-1.4zM398.6,606.5h1.4v1.4h-1.4zM458.9,606.7h1.4v1.4h-1.4zM413.7,611.2h1.4v1.4h-1.4zM443.3,608.0h1.4v1.4h-1.4zM439.1,618.7h1.4v1.4h-1.4zM451.8,609.3h1.4v1.4h-1.4zM435.9,599.7h1.4v1.4h-1.4zM457.2,607.2h1.4v1.4h-1.4zM447.6,600.6h1.4v1.4h-1.4zM449.9,611.8h1.4v1.4h-1.4zM420.1,602.9h1.4v1.4h-1.4zM450.1,609.4h1.4v1.4h-1.4zM439.3,602.2h1.4v1.4h-1.4zM412.9,609.7h1.4v1.4h-1.4zM434.7,610.5h1.4v1.4h-1.4zM440.7,613.9h1.4v1.4h-1.4zM436.5,609.9h1.4v1.4h-1.4zM430.7,608.6h1.4v1.4h-1.4zM431.8,618.2h1.4v1.4h-1.4zM454.6,606.0h1.4v1.4h-1.4zM444.6,611.5h1.4v1.4h-1.4zM429.5,603.5h1.4v1.4h-1.4zM425.3,604.8h1.4v1.4h-1.4zM443.1,619.7h1.4v1.4h-1.4zM410.9,607.7h1.4v1.4h-1.4zM419.2,613.8h1.4v1.4h-1.4zM445.0,606.1h1.4v1.4h-1.4zM450.0,606.6h1.4v1.4h-1.4zM445.5,606.6h1.4v1.4h-1.4zM454.5,613.4h1.4v1.4h-1.4zM454.9,611.8h1.4v1.4h-1.4zM433.5,613.7h1.4v1.4h-1.4zM417.4,608.9h1.4v1.4h-1.4zM404.6,604.9h1.4v1.4h-1.4zM454.6,604.8h1.4v1.4h-1.4zM435.0,606.6h1.4v1.4h-1.4zM458.4,609.2h1.4v1.4h-1.4zM426.2,608.7h1.4v1.4h-1.4zM405.6,609.5h1.4v1.4h-1.4zM432.8,608.9h1.4v1.4h-1.4zM402.8,612.5h1.4v1.4h-1.4zM443.1,615.0h1.4v1.4h-1.4zM443.9,606.8h1.4v1.4h-1.4zM454.4,612.5h1.4v1.4h-1.4zM441.2,610.7h1.4v1.4h-1.4zM415.4,603.8h1.4v1.4h-1.4zM422.0,612.4h1.4v1.4h-1.4zM431.3,606.9h1.4v1.4h-1.4zM422.3,615.1h1.4v1.4h-1.4zM399.5,609.3h1.4v1.4h-1.4zM414.3,600.8h1.4v1.4h-1.4zM412.6,611.7h1.4v1.4h-1.4zM431.1,607.3h1.4v1.4h-1.4zM417.5,612.1h1.4v1.4h-1.4zM441.9,615.8h1.4v1.4h-1.4zM450.5,609.6h1.4v1.4h-1.4zM458.6,609.5h1.4v1.4h-1.4zM405.8,602.6h1.4v1.4h-1.4zM438.0,607.0h1.4v1.4h-1.4zM450.6,614.7h1.4v1.4h-1.4zM452.2,607.6h1.4v1.4h-1.4zM456.5,616.6h1.4v1.4h-1.4zM425.5,603.5h1.4v1.4h-1.4zM412.8,601.5h1.4v1.4h-1.4zM459.0,617.9h1.4v1.4h-1.4zM432.6,603.0h1.4v1.4h-1.4zM413.6,611.8h1.4v1.4h-1.4zM426.8,603.5h1.4v1.4h-1.4zM433.8,620.4h1.4v1.4h-1.4zM442.4,614.5h1.4v1.4h-1.4zM433.5,615.1h1.4v1.4h-1.4zM440.3,608.2h1.4v1.4h-1.4zM445.7,606.9h1.4v1.4h-1.4zM413.9,603.6h1.4v1.4h-1.4zM418.4,607.9h1.4v1.4h-1.4zM423.8,606.5h1.4v1.4h-1.4zM425.9,614.8h1.4v1.4h-1.4zM447.3,627.5h1.4v1.4h-1.4zM438.1,623.1h1.4v1.4h-1.4zM439.7,617.7h1.4v1.4h-1.4zM438.6,626.5h1.4v1.4h-1.4zM415.3,615.5h1.4v1.4h-1.4zM413.7,611.5h1.4v1.4h-1.4zM444.4,631.7h1.4v1.4h-1.4zM433.7,623.3h1.4v1.4h-1.4zM413.2,618.2h1.4v1.4h-1.4zM417.3,622.7h1.4v1.4h-1.4zM434.2,626.1h1.4v1.4h-1.4zM444.1,620.6h1.4v1.4h-1.4zM461.9,626.0h1.4v1.4h-1.4zM444.7,629.1h1.4v1.4h-1.4zM456.7,621.2h1.4v1.4h-1.4zM456.7,626.2h1.4v1.4h-1.4zM436.1,624.6h1.4v1.4h-1.4zM423.1,620.8h1.4v1.4h-1.4zM454.8,625.3h1.4v1.4h-1.4zM423.3,617.9h1.4v1.4h-1.4zM425.2,619.4h1.4v1.4h-1.4zM455.6,617.2h1.4v1.4h-1.4zM448.5,617.1h1.4v1.4h-1.4zM432.2,617.2h1.4v1.4h-1.4zM450.5,625.5h1.4v1.4h-1.4zM417.2,624.4h1.4v1.4h-1.4zM446.2,626.1h1.4v1.4h-1.4zM422.4,613.7h1.4v1.4h-1.4zM405.1,623.0h1.4v1.4h-1.4zM452.8,621.1h1.4v1.4h-1.4zM442.5,623.2h1.4v1.4h-1.4zM455.5,630.2h1.4v1.4h-1.4zM419.5,615.1h1.4v1.4h-1.4zM463.2,629.6h1.4v1.4h-1.4zM441.0,620.1h1.4v1.4h-1.4zM447.1,629.3h1.4v1.4h-1.4zM422.6,622.0h1.4v1.4h-1.4zM409.2,612.4h1.4v1.4h-1.4zM460.8,630.3h1.4v1.4h-1.4zM442.5,614.3h1.4v1.4h-1.4zM448.5,623.0h1.4v1.4h-1.4zM444.5,622.3h1.4v1.4h-1.4zM410.3,615.2h1.4v1.4h-1.4zM416.3,625.1h1.4v1.4h-1.4zM459.2,616.2h1.4v1.4h-1.4zM433.3,609.5h1.4v1.4h-1.4zM435.0,616.5h1.4v1.4h-1.4zM434.9,615.3h1.4v1.4h-1.4zM455.9,631.7h1.4v1.4h-1.4zM453.2,622.8h1.4v1.4h-1.4zM455.9,624.7h1.4v1.4h-1.4zM414.4,621.0h1.4v1.4h-1.4zM455.5,620.3h1.4v1.4h-1.4zM439.9,617.0h1.4v1.4h-1.4zM459.7,626.5h1.4v1.4h-1.4zM429.5,617.5h1.4v1.4h-1.4zM419.0,625.5h1.4v1.4h-1.4zM459.9,619.3h1.4v1.4h-1.4zM441.9,612.4h1.4v1.4h-1.4zM418.4,621.5h1.4v1.4h-1.4zM456.3,625.5h1.4v1.4h-1.4zM441.0,626.5h1.4v1.4h-1.4zM458.8,623.1h1.4v1.4h-1.4zM415.5,619.7h1.4v1.4h-1.4zM415.8,623.8h1.4v1.4h-1.4zM416.9,620.4h1.4v1.4h-1.4zM415.4,618.2h1.4v1.4h-1.4zM447.4,627.0h1.4v1.4h-1.4zM426.9,623.6h1.4v1.4h-1.4zM417.0,612.3h1.4v1.4h-1.4zM415.2,622.7h1.4v1.4h-1.4zM406.6,612.8h1.4v1.4h-1.4zM452.7,630.3h1.4v1.4h-1.4zM438.6,623.1h1.4v1.4h-1.4zM421.2,619.6h1.4v1.4h-1.4zM439.2,617.0h1.4v1.4h-1.4zM410.8,620.0h1.4v1.4h-1.4zM439.5,622.2h1.4v1.4h-1.4zM444.5,614.8h1.4v1.4h-1.4zM441.2,617.4h1.4v1.4h-1.4zM435.1,616.8h1.4v1.4h-1.4zM454.3,636.1h1.4v1.4h-1.4zM430.3,619.6h1.4v1.4h-1.4zM423.8,629.0h1.4v1.4h-1.4zM437.3,622.3h1.4v1.4h-1.4zM412.7,616.9h1.4v1.4h-1.4zM426.1,625.2h1.4v1.4h-1.4zM415.4,623.5h1.4v1.4h-1.4zM430.7,618.4h1.4v1.4h-1.4zM409.1,619.5h1.4v1.4h-1.4zM426.1,623.2h1.4v1.4h-1.4zM421.2,627.9h1.4v1.4h-1.4zM419.7,622.3h1.4v1.4h-1.4zM421.4,622.4h1.4v1.4h-1.4zM461.1,618.2h1.4v1.4h-1.4zM441.3,615.0h1.4v1.4h-1.4zM438.0,625.0h1.4v1.4h-1.4zM454.0,626.2h1.4v1.4h-1.4zM429.2,616.2h1.4v1.4h-1.4zM451.6,617.5h1.4v1.4h-1.4zM411.3,619.4h1.4v1.4h-1.4zM421.1,618.6h1.4v1.4h-1.4zM450.1,620.2h1.4v1.4h-1.4zM436.1,615.3h1.4v1.4h-1.4zM446.0,629.5h1.4v1.4h-1.4zM433.9,619.3h1.4v1.4h-1.4zM459.9,619.8h1.4v1.4h-1.4zM456.1,618.3h1.4v1.4h-1.4zM440.9,629.7h1.4v1.4h-1.4zM440.3,623.9h1.4v1.4h-1.4zM431.9,612.5h1.4v1.4h-1.4zM439.8,612.5h1.4v1.4h-1.4zM468.6,624.8h1.4v1.4h-1.4zM445.4,629.4h1.4v1.4h-1.4zM462.5,622.5h1.4v1.4h-1.4zM459.0,623.7h1.4v1.4h-1.4zM453.8,614.4h1.4v1.4h-1.4zM400.8,612.7h1.4v1.4h-1.4zM450.2,614.3h1.4v1.4h-1.4zM446.6,612.7h1.4v1.4h-1.4zM416.2,613.9h1.4v1.4h-1.4zM439.2,609.1h1.4v1.4h-1.4zM444.6,630.5h1.4v1.4h-1.4zM415.8,621.3h1.4v1.4h-1.4zM462.2,629.2h1.4v1.4h-1.4zM422.9,615.5h1.4v1.4h-1.4zM420.4,619.1h1.4v1.4h-1.4zM460.1,617.7h1.4v1.4h-1.4zM409.2,615.6h1.4v1.4h-1.4zM429.3,626.4h1.4v1.4h-1.4zM463.8,618.9h1.4v1.4h-1.4zM424.7,616.1h1.4v1.4h-1.4zM459.9,613.0h1.4v1.4h-1.4zM442.8,625.2h1.4v1.4h-1.4zM448.9,635.1h1.4v1.4h-1.4zM430.8,614.5h1.4v1.4h-1.4zM446.1,621.3h1.4v1.4h-1.4zM446.1,610.7h1.4v1.4h-1.4zM451.2,614.6h1.4v1.4h-1.4zM437.8,622.3h1.4v1.4h-1.4zM466.2,626.1h1.4v1.4h-1.4zM428.2,611.4h1.4v1.4h-1.4zM435.2,616.1h1.4v1.4h-1.4zM444.8,625.0h1.4v1.4h-1.4zM436.1,615.6h1.4v1.4h-1.4zM452.0,621.8h1.4v1.4h-1.4zM450.2,632.4h1.4v1.4h-1.4zM456.1,622.9h1.4v1.4h-1.4zM408.3,618.3h1.4v1.4h-1.4zM433.1,614.4h1.4v1.4h-1.4zM451.1,621.1h1.4v1.4h-1.4zM448.6,617.6h1.4v1.4h-1.4zM466.2,631.9h1.4v1.4h-1.4zM456.3,627.7h1.4v1.4h-1.4zM426.8,619.0h1.4v1.4h-1.4zM417.7,611.6h1.4v1.4h-1.4zM452.1,628.5h1.4v1.4h-1.4zM414.5,618.3h1.4v1.4h-1.4zM428.0,625.7h1.4v1.4h-1.4zM415.4,623.3h1.4v1.4h-1.4zM434.1,623.8h1.4v1.4h-1.4zM430.2,616.0h1.4v1.4h-1.4zM433.8,625.5h1.4v1.4h-1.4zM423.0,626.4h1.4v1.4h-1.4zM416.9,623.4h1.4v1.4h-1.4zM440.7,624.9h1.4v1.4h-1.4zM418.5,618.3h1.4v1.4h-1.4zM437.3,625.1h1.4v1.4h-1.4zM429.8,612.6h1.4v1.4h-1.4zM435.2,631.8h1.4v1.4h-1.4zM461.0,614.1h1.4v1.4h-1.4zM418.8,626.2h1.4v1.4h-1.4zM422.2,615.7h1.4v1.4h-1.4zM430.5,615.0h1.4v1.4h-1.4zM440.1,621.3h1.4v1.4h-1.4zM431.7,627.4h1.4v1.4h-1.4zM466.1,629.4h1.4v1.4h-1.4zM464.2,625.5h1.4v1.4h-1.4zM457.1,630.6h1.4v1.4h-1.4zM436.3,618.5h1.4v1.4h-1.4zM439.3,625.8h1.4v1.4h-1.4zM440.3,628.8h1.4v1.4h-1.4zM458.1,630.5h1.4v1.4h-1.4zM428.0,615.0h1.4v1.4h-1.4zM422.3,619.9h1.4v1.4h-1.4zM417.1,617.4h1.4v1.4h-1.4zM444.2,624.5h1.4v1.4h-1.4zM435.0,619.6h1.4v1.4h-1.4zM444.2,630.3h1.4v1.4h-1.4zM458.0,625.1h1.4v1.4h-1.4zM450.8,623.3h1.4v1.4h-1.4zM441.8,617.4h1.4v1.4h-1.4zM459.7,625.4h1.4v1.4h-1.4zM432.5,623.0h1.4v1.4h-1.4zM423.8,622.6h1.4v1.4h-1.4zM416.9,617.5h1.4v1.4h-1.4zM452.1,630.9h1.4v1.4h-1.4zM426.6,621.6h1.4v1.4h-1.4zM427.1,624.8h1.4v1.4h-1.4zM430.9,616.0h1.4v1.4h-1.4zM461.9,618.3h1.4v1.4h-1.4zM458.7,625.5h1.4v1.4h-1.4zM449.9,633.0h1.4v1.4h-1.4zM409.5,612.5h1.4v1.4h-1.4zM402.1,611.8h1.4v1.4h-1.4zM453.4,613.3h1.4v1.4h-1.4zM450.6,622.9h1.4v1.4h-1.4zM458.8,628.4h1.4v1.4h-1.4zM419.1,621.2h1.4v1.4h-1.4zM468.3,630.8h1.4v1.4h-1.4zM419.5,617.3h1.4v1.4h-1.4zM433.8,621.9h1.4v1.4h-1.4zM448.3,617.1h1.4v1.4h-1.4zM453.4,631.2h1.4v1.4h-1.4zM422.1,622.9h1.4v1.4h-1.4zM425.5,622.4h1.4v1.4h-1.4zM434.2,615.3h1.4v1.4h-1.4zM439.6,624.6h1.4v1.4h-1.4zM407.0,621.9h1.4v1.4h-1.4zM425.3,627.1h1.4v1.4h-1.4zM444.5,629.7h1.4v1.4h-1.4zM448.7,626.9h1.4v1.4h-1.4zM429.1,617.5h1.4v1.4h-1.4zM432.0,614.9h1.4v1.4h-1.4zM455.7,617.2h1.4v1.4h-1.4zM439.7,623.4h1.4v1.4h-1.4zM451.5,622.0h1.4v1.4h-1.4zM445.5,616.8h1.4v1.4h-1.4zM409.6,615.6h1.4v1.4h-1.4zM458.7,631.1h1.4v1.4h-1.4zM467.0,629.2h1.4v1.4h-1.4zM469.4,598.1h1.4v1.4h-1.4zM471.7,628.9h1.4v1.4h-1.4zM470.9,631.1h1.4v1.4h-1.4zM480.2,632.6h1.4v1.4h-1.4zM466.4,617.2h1.4v1.4h-1.4zM482.0,614.2h1.4v1.4h-1.4zM461.0,597.3h1.4v1.4h-1.4zM476.8,625.4h1.4v1.4h-1.4zM473.8,605.3h1.4v1.4h-1.4zM470.8,626.3h1.4v1.4h-1.4zM474.9,621.0h1.4v1.4h-1.4zM469.3,610.2h1.4v1.4h-1.4zM472.7,610.8h1.4v1.4h-1.4zM470.8,594.9h1.4v1.4h-1.4zM467.8,608.4h1.4v1.4h-1.4zM475.7,599.7h1.4v1.4h-1.4zM473.3,613.0h1.4v1.4h-1.4zM470.8,609.2h1.4v1.4h-1.4zM456.8,605.4h1.4v1.4h-1.4zM467.3,627.4h1.4v1.4h-1.4zM456.5,624.1h1.4v1.4h-1.4zM467.5,637.3h1.4v1.4h-1.4zM457.7,609.2h1.4v1.4h-1.4zM459.1,622.7h1.4v1.4h-1.4zM459.1,625.8h1.4v1.4h-1.4zM458.7,612.3h1.4v1.4h-1.4zM460.4,596.4h1.4v1.4h-1.4zM469.5,620.8h1.4v1.4h-1.4zM466.0,605.1h1.4v1.4h-1.4zM466.1,600.2h1.4v1.4h-1.4zM475.2,594.7h1.4v1.4h-1.4zM456.8,610.6h1.4v1.4h-1.4zM463.1,626.4h1.4v1.4h-1.4zM464.7,629.5h1.4v1.4h-1.4zM467.2,608.0h1.4v1.4h-1.4zM455.5,609.9h1.4v1.4h-1.4zM455.3,603.7h1.4v1.4h-1.4zM460.5,608.5h1.4v1.4h-1.4zM458.9,594.4h1.4v1.4h-1.4zM467.4,612.9h1.4v1.4h-1.4zM473.7,612.7h1.4v1.4h-1.4zM473.5,622.0h1.4v1.4h-1.4zM463.3,603.1h1.4v1.4h-1.4zM480.5,604.8h1.4v1.4h-1.4zM458.9,599.1h1.4v1.4h-1.4zM472.5,605.3h1.4v1.4h-1.4zM473.5,596.1h1.4v1.4h-1.4zM463.1,623.8h1.4v1.4h-1.4zM464.6,597.0h1.4v1.4h-1.4zM466.3,623.0h1.4v1.4h-1.4zM464.4,614.3h1.4v1.4h-1.4zM468.9,606.1h1.4v1.4h-1.4zM474.8,626.3h1.4v1.4h-1.4zM467.6,595.7h1.4v1.4h-1.4zM475.7,636.1h1.4v1.4h-1.4zM465.6,626.0h1.4v1.4h-1.4zM474.5,629.8h1.4v1.4h-1.4zM480.3,619.6h1.4v1.4h-1.4zM465.1,629.5h1.4v1.4h-1.4zM474.3,620.0h1.4v1.4h-1.4zM470.2,603.6h1.4v1.4h-1.4zM466.6,601.4h1.4v1.4h-1.4zM478.9,611.2h1.4v1.4h-1.4zM470.3,593.8h1.4v1.4h-1.4zM458.6,605.7h1.4v1.4h-1.4zM476.3,617.6h1.4v1.4h-1.4zM476.4,601.7h1.4v1.4h-1.4zM463.3,622.9h1.4v1.4h-1.4zM469.6,598.7h1.4v1.4h-1.4zM463.2,598.9h1.4v1.4h-1.4zM474.9,636.2h1.4v1.4h-1.4zM476.0,600.1h1.4v1.4h-1.4zM476.9,621.3h1.4v1.4h-1.4zM471.0,604.4h1.4v1.4h-1.4zM479.1,603.5h1.4v1.4h-1.4zM461.3,627.8h1.4v1.4h-1.4zM471.7,624.3h1.4v1.4h-1.4zM473.3,622.2h1.4v1.4h-1.4zM458.7,605.6h1.4v1.4h-1.4zM471.1,626.9h1.4v1.4h-1.4zM470.7,597.5h1.4v1.4h-1.4zM474.4,622.7h1.4v1.4h-1.4zM476.2,618.4h1.4v1.4h-1.4zM478.7,627.7h1.4v1.4h-1.4zM458.9,610.5h1.4v1.4h-1.4zM474.2,614.1h1.4v1.4h-1.4zM476.9,612.5h1.4v1.4h-1.4zM466.4,638.4h1.4v1.4h-1.4zM463.7,622.9h1.4v1.4h-1.4zM464.0,609.7h1.4v1.4h-1.4zM459.1,622.7h1.4v1.4h-1.4zM459.7,620.3h1.4v1.4h-1.4zM461.8,628.4h1.4v1.4h-1.4zM469.3,614.0h1.4v1.4h-1.4zM457.6,627.2h1.4v1.4h-1.4zM466.0,597.5h1.4v1.4h-1.4zM461.6,616.9h1.4v1.4h-1.4zM463.7,599.2h1.4v1.4h-1.4zM456.7,612.9h1.4v1.4h-1.4zM464.1,599.5h1.4v1.4h-1.4zM460.4,598.7h1.4v1.4h-1.4zM477.7,620.2h1.4v1.4h-1.4zM479.4,609.1h1.4v1.4h-1.4zM478.4,626.8h1.4v1.4h-1.4zM469.6,621.9h1.4v1.4h-1.4zM475.7,634.6h1.4v1.4h-1.4zM459.6,615.1h1.4v1.4h-1.4zM465.9,604.8h1.4v1.4h-1.4zM466.2,596.8h1.4v1.4h-1.4zM456.7,604.6h1.4v1.4h-1.4zM469.2,623.4h1.4v1.4h-1.4zM469.0,628.8h1.4v1.4h-1.4zM468.9,605.4h1.4v1.4h-1.4zM476.6,630.5h1.4v1.4h-1.4zM459.5,614.3h1.4v1.4h-1.4zM469.3,634.9h1.4v1.4h-1.4zM483.6,613.1h1.4v1.4h-1.4zM470.8,596.0h1.4v1.4h-1.4zM470.7,601.9h1.4v1.4h-1.4zM467.1,609.2h1.4v1.4h-1.4zM467.9,628.8h1.4v1.4h-1.4zM473.0,629.1h1.4v1.4h-1.4zM461.2,595.0h1.4v1.4h-1.4zM467.0,612.3h1.4v1.4h-1.4zM460.8,618.4h1.4v1.4h-1.4zM474.8,597.9h1.4v1.4h-1.4zM472.6,627.5h1.4v1.4h-1.4zM463.2,604.2h1.4v1.4h-1.4zM466.9,594.9h1.4v1.4h-1.4zM478.3,611.5h1.4v1.4h-1.4zM464.2,605.2h1.4v1.4h-1.4zM476.8,629.8h1.4v1.4h-1.4zM466.1,609.2h1.4v1.4h-1.4zM462.3,625.1h1.4v1.4h-1.4zM465.3,605.2h1.4v1.4h-1.4zM469.7,615.4h1.4v1.4h-1.4zM454.5,600.7h1.4v1.4h-1.4zM461.2,622.9h1.4v1.4h-1.4zM475.9,605.3h1.4v1.4h-1.4zM458.9,612.6h1.4v1.4h-1.4zM466.1,599.5h1.4v1.4h-1.4zM472.6,614.9h1.4v1.4h-1.4zM464.8,627.5h1.4v1.4h-1.4zM472.2,616.3h1.4v1.4h-1.4zM472.5,604.7h1.4v1.4h-1.4zM459.3,600.5h1.4v1.4h-1.4zM458.4,618.8h1.4v1.4h-1.4zM475.2,620.1h1.4v1.4h-1.4zM475.5,604.9h1.4v1.4h-1.4zM463.4,612.5h1.4v1.4h-1.4zM474.8,620.7h1.4v1.4h-1.4zM467.0,597.2h1.4v1.4h-1.4zM478.8,598.5h1.4v1.4h-1.4zM468.0,628.9h1.4v1.4h-1.4zM471.3,603.6h1.4v1.4h-1.4zM474.2,614.7h1.4v1.4h-1.4zM475.3,610.3h1.4v1.4h-1.4zM476.0,609.3h1.4v1.4h-1.4zM456.7,598.1h1.4v1.4h-1.4zM466.3,634.2h1.4v1.4h-1.4zM468.1,626.9h1.4v1.4h-1.4zM469.8,635.0h1.4v1.4h-1.4zM476.8,629.2h1.4v1.4h-1.4zM469.8,603.7h1.4v1.4h-1.4zM459.0,601.0h1.4v1.4h-1.4zM473.3,621.6h1.4v1.4h-1.4zM474.3,603.0h1.4v1.4h-1.4zM465.5,626.0h1.4v1.4h-1.4zM463.3,620.4h1.4v1.4h-1.4zM458.6,608.6h1.4v1.4h-1.4zM478.1,616.9h1.4v1.4h-1.4zM471.2,622.3h1.4v1.4h-1.4zM479.4,602.5h1.4v1.4h-1.4zM465.6,627.4h1.4v1.4h-1.4zM475.9,612.7h1.4v1.4h-1.4zM476.3,622.6h1.4v1.4h-1.4zM471.3,597.4h1.4v1.4h-1.4zM467.4,617.9h1.4v1.4h-1.4zM459.7,614.1h1.4v1.4h-1.4zM460.9,623.0h1.4v1.4h-1.4zM468.7,607.9h1.4v1.4h-1.4zM481.6,603.8h1.4v1.4h-1.4zM473.5,630.5h1.4v1.4h-1.4zM461.1,628.5h1.4v1.4h-1.4zM458.6,623.4h1.4v1.4h-1.4zM460.1,623.6h1.4v1.4h-1.4zM460.8,598.3h1.4v1.4h-1.4zM475.2,610.5h1.4v1.4h-1.4zM458.4,594.9h1.4v1.4h-1.4zM469.5,605.3h1.4v1.4h-1.4zM479.1,600.2h1.4v1.4h-1.4zM477.3,617.2h1.4v1.4h-1.4zM462.7,630.2h1.4v1.4h-1.4zM477.0,617.5h1.4v1.4h-1.4zM462.1,598.9h1.4v1.4h-1.4zM460.5,625.7h1.4v1.4h-1.4zM472.7,601.6h1.4v1.4h-1.4zM457.0,594.2h1.4v1.4h-1.4zM460.1,599.5h1.4v1.4h-1.4zM469.1,610.6h1.4v1.4h-1.4zM464.7,615.7h1.4v1.4h-1.4zM458.9,606.8h1.4v1.4h-1.4zM463.0,612.2h1.4v1.4h-1.4zM468.3,606.5h1.4v1.4h-1.4zM459.9,606.1h1.4v1.4h-1.4zM468.6,609.8h1.4v1.4h-1.4zM466.3,627.7h1.4v1.4h-1.4zM478.6,604.3h1.4v1.4h-1.4zM466.3,604.0h1.4v1.4h-1.4zM463.8,607.5h1.4v1.4h-1.4zM462.6,603.6h1.4v1.4h-1.4zM473.6,603.7h1.4v1.4h-1.4zM472.3,598.2h1.4v1.4h-1.4zM472.4,606.3h1.4v1.4h-1.4zM470.7,595.1h1.4v1.4h-1.4zM462.9,596.1h1.4v1.4h-1.4zM469.4,615.2h1.4v1.4h-1.4zM471.3,632.9h1.4v1.4h-1.4zM468.8,615.3h1.4v1.4h-1.4zM478.0,616.5h1.4v1.4h-1.4zM465.9,634.5h1.4v1.4h-1.4zM480.5,613.4h1.4v1.4h-1.4zM473.5,605.8h1.4v1.4h-1.4zM480.0,594.2h1.4v1.4h-1.4zM471.7,625.8h1.4v1.4h-1.4zM460.6,603.4h1.4v1.4h-1.4zM474.4,607.1h1.4v1.4h-1.4zM457.3,600.4h1.4v1.4h-1.4zM473.7,608.3h1.4v1.4h-1.4zM461.2,597.8h1.4v1.4h-1.4zM480.2,613.1h1.4v1.4h-1.4zM471.7,617.9h1.4v1.4h-1.4zM473.5,603.6h1.4v1.4h-1.4zM464.1,626.3h1.4v1.4h-1.4zM474.5,617.4h1.4v1.4h-1.4zM473.8,619.8h1.4v1.4h-1.4zM480.4,611.8h1.4v1.4h-1.4zM472.4,601.1h1.4v1.4h-1.4zM472.9,614.9h1.4v1.4h-1.4zM475.6,609.1h1.4v1.4h-1.4zM470.7,620.4h1.4v1.4h-1.4zM465.0,635.4h1.4v1.4h-1.4zM467.5,614.1h1.4v1.4h-1.4zM456.3,603.7h1.4v1.4h-1.4zM457.8,604.7h1.4v1.4h-1.4zM474.2,612.2h1.4v1.4h-1.4zM460.2,622.5h1.4v1.4h-1.4zM466.8,633.0h1.4v1.4h-1.4zM464.5,632.9h1.4v1.4h-1.4zM455.8,604.3h1.4v1.4h-1.4zM472.1,605.7h1.4v1.4h-1.4zM479.1,618.1h1.4v1.4h-1.4zM470.4,626.4h1.4v1.4h-1.4zM466.3,594.9h1.4v1.4h-1.4zM480.1,627.3h1.4v1.4h-1.4zM475.5,608.7h1.4v1.4h-1.4zM467.9,607.2h1.4v1.4h-1.4zM461.9,609.7h1.4v1.4h-1.4zM469.1,599.4h1.4v1.4h-1.4zM469.5,636.9h1.4v1.4h-1.4zM477.8,621.9h1.4v1.4h-1.4zM476.7,600.6h1.4v1.4h-1.4zM457.6,597.8h1.4v1.4h-1.4zM474.9,628.2h1.4v1.4h-1.4zM468.9,607.8h1.4v1.4h-1.4zM456.2,611.1h1.4v1.4h-1.4zM471.0,611.7h1.4v1.4h-1.4zM472.0,610.4h1.4v1.4h-1.4zM481.1,593.4h1.4v1.4h-1.4zM467.2,614.8h1.4v1.4h-1.4zM469.0,603.6h1.4v1.4h-1.4zM473.9,609.2h1.4v1.4h-1.4zM470.0,609.1h1.4v1.4h-1.4zM458.2,619.3h1.4v1.4h-1.4zM469.3,636.9h1.4v1.4h-1.4zM470.6,594.2h1.4v1.4h-1.4zM458.7,615.9h1.4v1.4h-1.4zM482.6,605.6h1.4v1.4h-1.4zM479.1,617.0h1.4v1.4h-1.4zM458.0,593.1h1.4v1.4h-1.4zM455.8,610.3h1.4v1.4h-1.4zM472.7,634.6h1.4v1.4h-1.4zM470.6,634.4h1.4v1.4h-1.4zM479.7,622.2h1.4v1.4h-1.4zM465.0,625.4h1.4v1.4h-1.4zM479.0,603.1h1.4v1.4h-1.4zM466.6,603.1h1.4v1.4h-1.4zM456.3,594.6h1.4v1.4h-1.4zM467.1,607.3h1.4v1.4h-1.4zM472.7,604.7h1.4v1.4h-1.4zM473.9,631.6h1.4v1.4h-1.4zM467.0,597.2h1.4v1.4h-1.4zM476.1,610.6h1.4v1.4h-1.4zM479.7,599.4h1.4v1.4h-1.4zM464.7,591.7h1.4v1.4h-1.4zM472.8,609.1h1.4v1.4h-1.4zM465.7,618.0h1.4v1.4h-1.4zM465.8,620.5h1.4v1.4h-1.4zM457.0,628.7h1.4v1.4h-1.4zM382.6,612.3h1.4v1.4h-1.4zM417.6,614.6h1.4v1.4h-1.4zM395.6,602.9h1.4v1.4h-1.4zM402.9,592.3h1.4v1.4h-1.4zM395.8,625.4h1.4v1.4h-1.4zM387.4,602.0h1.4v1.4h-1.4zM428.5,617.3h1.4v1.4h-1.4zM453.8,613.4h1.4v1.4h-1.4zM390.1,600.3h1.4v1.4h-1.4zM429.8,613.6h1.4v1.4h-1.4zM424.7,622.6h1.4v1.4h-1.4zM465.1,609.5h1.4v1.4h-1.4zM455.9,601.1h1.4v1.4h-1.4zM443.3,594.0h1.4v1.4h-1.4zM415.6,599.3h1.4v1.4h-1.4zM386.7,614.6h1.4v1.4h-1.4zM470.3,609.3h1.4v1.4h-1.4zM402.5,619.5h1.4v1.4h-1.4zM455.2,606.5h1.4v1.4h-1.4zM493.5,607.7h1.4v1.4h-1.4zM411.0,592.1h1.4v1.4h-1.4zM411.8,600.3h1.4v1.4h-1.4zM434.3,609.7h1.4v1.4h-1.4zM391.6,582.9h1.4v1.4h-1.4zM470.1,596.3h1.4v1.4h-1.4zM444.3,610.4h1.4v1.4h-1.4zM395.0,605.9h1.4v1.4h-1.4zM457.7,583.6h1.4v1.4h-1.4zM442.4,610.5h1.4v1.4h-1.4zM463.6,596.2h1.4v1.4h-1.4zM434.9,593.0h1.4v1.4h-1.4zM428.8,611.6h1.4v1.4h-1.4zM457.6,585.5h1.4v1.4h-1.4zM447.6,606.7h1.4v1.4h-1.4zM456.8,597.9h1.4v1.4h-1.4zM434.8,599.2h1.4v1.4h-1.4zM456.6,595.2h1.4v1.4h-1.4zM416.2,612.0h1.4v1.4h-1.4zM465.7,613.3h1.4v1.4h-1.4zM435.5,620.6h1.4v1.4h-1.4zM467.9,595.4h1.4v1.4h-1.4zM398.0,600.9h1.4v1.4h-1.4zM461.3,608.5h1.4v1.4h-1.4zM410.2,617.2h1.4v1.4h-1.4zM460.5,607.2h1.4v1.4h-1.4zM424.5,602.7h1.4v1.4h-1.4zM454.4,618.8h1.4v1.4h-1.4zM469.2,593.0h1.4v1.4h-1.4zM483.4,600.9h1.4v1.4h-1.4zM418.6,595.9h1.4v1.4h-1.4zM431.2,614.7h1.4v1.4h-1.4zM408.1,611.1h1.4v1.4h-1.4zM481.4,634.8h1.4v1.4h-1.4zM434.2,608.2h1.4v1.4h-1.4zM471.4,606.8h1.4v1.4h-1.4zM433.7,598.8h1.4v1.4h-1.4zM418.9,608.1h1.4v1.4h-1.4zM425.1,604.1h1.4v1.4h-1.4zM476.8,617.0h1.4v1.4h-1.4zM436.3,601.0h1.4v1.4h-1.4zM405.1,615.7h1.4v1.4h-1.4zM480.2,603.2h1.4v1.4h-1.4zM366.5,620.7h1.4v1.4h-1.4zM405.4,612.3h1.4v1.4h-1.4zM423.8,611.1h1.4v1.4h-1.4zM449.4,605.5h1.4v1.4h-1.4zM447.9,622.6h1.4v1.4h-1.4zM444.2,613.6h1.4v1.4h-1.4zM393.9,610.0h1.4v1.4h-1.4zM415.8,605.7h1.4v1.4h-1.4zM442.5,603.0h1.4v1.4h-1.4zM495.1,593.8h1.4v1.4h-1.4zM512.1,604.7h1.4v1.4h-1.4zM433.6,606.6h1.4v1.4h-1.4zM395.0,611.0h1.4v1.4h-1.4zM427.9,606.0h1.4v1.4h-1.4zM436.2,632.7h1.4v1.4h-1.4zM434.0,617.2h1.4v1.4h-1.4zM425.8,609.5h1.4v1.4h-1.4zM448.1,611.2h1.4v1.4h-1.4zM415.0,618.0h1.4v1.4h-1.4zM457.3,590.9h1.4v1.4h-1.4zM390.1,599.3h1.4v1.4h-1.4zM427.8,614.1h1.4v1.4h-1.4zM418.2,626.7h1.4v1.4h-1.4zM408.8,589.6h1.4v1.4h-1.4zM380.7,611.6h1.4v1.4h-1.4zM414.8,604.8h1.4v1.4h-1.4zM423.7,603.3h1.4v1.4h-1.4zM420.0,619.7h1.4v1.4h-1.4zM457.2,616.4h1.4v1.4h-1.4zM397.3,622.4h1.4v1.4h-1.4zM441.7,610.8h1.4v1.4h-1.4zM446.0,616.6h1.4v1.4h-1.4zM440.5,609.9h1.4v1.4h-1.4zM413.0,610.1h1.4v1.4h-1.4zM375.7,606.8h1.4v1.4h-1.4zM392.1,600.2h1.4v1.4h-1.4zM396.6,603.0h1.4v1.4h-1.4zM412.9,601.1h1.4v1.4h-1.4zM468.9,617.4h1.4v1.4h-1.4zM474.2,591.9h1.4v1.4h-1.4zM437.6,614.8h1.4v1.4h-1.4zM385.9,625.9h1.4v1.4h-1.4zM471.5,620.2h1.4v1.4h-1.4zM417.3,612.9h1.4v1.4h-1.4zM466.4,610.1h1.4v1.4h-1.4zM400.9,599.1h1.4v1.4h-1.4zM406.6,616.4h1.4v1.4h-1.4zM457.3,600.8h1.4v1.4h-1.4zM404.7,605.5h1.4v1.4h-1.4zM419.4,594.3h1.4v1.4h-1.4zM469.1,610.2h1.4v1.4h-1.4zM436.4,604.2h1.4v1.4h-1.4zM434.2,609.7h1.4v1.4h-1.4zM434.9,610.1h1.4v1.4h-1.4zM420.0,596.3h1.4v1.4h-1.4zM417.2,592.3h1.4v1.4h-1.4zM454.2,597.3h1.4v1.4h-1.4zM455.4,603.1h1.4v1.4h-1.4zM440.9,599.6h1.4v1.4h-1.4zM436.5,607.7h1.4v1.4h-1.4zM413.5,623.6h1.4v1.4h-1.4zM403.6,612.8h1.4v1.4h-1.4zM444.8,619.8h1.4v1.4h-1.4zM426.2,610.6h1.4v1.4h-1.4zM394.3,602.1h1.4v1.4h-1.4zM390.8,602.3h1.4v1.4h-1.4zM375.1,597.1h1.4v1.4h-1.4zM463.0,599.1h1.4v1.4h-1.4zM479.6,607.2h1.4v1.4h-1.4zM469.8,610.4h1.4v1.4h-1.4zM413.4,605.8h1.4v1.4h-1.4zM377.8,622.4h1.4v1.4h-1.4zM419.2,616.7h1.4v1.4h-1.4zM476.4,627.5h1.4v1.4h-1.4zM422.5,600.7h1.4v1.4h-1.4zM422.5,614.7h1.4v1.4h-1.4zM424.2,610.7h1.4v1.4h-1.4zM508.1,577.8h1.4v1.4h-1.4zM453.0,611.4h1.4v1.4h-1.4zM435.6,604.9h1.4v1.4h-1.4zM443.3,592.9h1.4v1.4h-1.4zM400.8,585.6h1.4v1.4h-1.4zM483.7,629.3h1.4v1.4h-1.4zM390.3,617.4h1.4v1.4h-1.4zM448.6,601.1h1.4v1.4h-1.4zM411.6,603.7h1.4v1.4h-1.4zM437.7,591.6h1.4v1.4h-1.4zM453.3,620.1h1.4v1.4h-1.4zM399.7,607.8h1.4v1.4h-1.4zM454.8,592.0h1.4v1.4h-1.4zM378.4,595.5h1.4v1.4h-1.4zM478.9,620.4h1.4v1.4h-1.4zM486.7,600.8h1.4v1.4h-1.4zM407.9,622.5h1.4v1.4h-1.4zM416.6,603.4h1.4v1.4h-1.4zM460.4,598.1h1.4v1.4h-1.4zM449.8,594.8h1.4v1.4h-1.4zM372.3,618.4h1.4v1.4h-1.4zM376.6,594.2h1.4v1.4h-1.4zM432.8,596.4h1.4v1.4h-1.4zM446.3,611.5h1.4v1.4h-1.4zM433.8,606.5h1.4v1.4h-1.4zM433.6,608.5h1.4v1.4h-1.4zM444.8,613.9h1.4v1.4h-1.4zM382.1,618.2h1.4v1.4h-1.4zM430.8,598.8h1.4v1.4h-1.4zM432.1,592.9h1.4v1.4h-1.4zM415.2,593.7h1.4v1.4h-1.4zM446.9,614.5h1.4v1.4h-1.4zM432.8,597.9h1.4v1.4h-1.4zM456.8,597.8h1.4v1.4h-1.4zM404.6,607.1h1.4v1.4h-1.4zM386.0,605.4h1.4v1.4h-1.4zM477.0,592.7h1.4v1.4h-1.4zM492.6,611.5h1.4v1.4h-1.4zM450.5,608.8h1.4v1.4h-1.4zM462.3,603.4h1.4v1.4h-1.4zM403.1,616.9h1.4v1.4h-1.4zM403.5,629.3h1.4v1.4h-1.4zM409.2,616.9h1.4v1.4h-1.4zM432.3,605.5h1.4v1.4h-1.4zM436.2,603.3h1.4v1.4h-1.4zM404.9,611.8h1.4v1.4h-1.4zM435.1,601.6h1.4v1.4h-1.4zM428.6,600.2h1.4v1.4h-1.4zM483.0,605.6h1.4v1.4h-1.4zM449.6,601.7h1.4v1.4h-1.4zM421.6,616.4h1.4v1.4h-1.4zM495.4,614.1h1.4v1.4h-1.4zM449.0,612.6h1.4v1.4h-1.4zM432.2,598.2h1.4v1.4h-1.4zM454.6,607.1h1.4v1.4h-1.4zM421.6,616.9h1.4v1.4h-1.4zM447.4,618.8h1.4v1.4h-1.4zM349.2,588.4h1.4v1.4h-1.4zM438.9,620.8h1.4v1.4h-1.4zM425.8,594.1h1.4v1.4h-1.4zM406.6,610.6h1.4v1.4h-1.4zM462.5,606.3h1.4v1.4h-1.4zM460.6,601.2h1.4v1.4h-1.4zM449.3,603.9h1.4v1.4h-1.4zM457.0,617.2h1.4v1.4h-1.4zM450.8,611.0h1.4v1.4h-1.4zM460.9,612.3h1.4v1.4h-1.4zM392.6,607.1h1.4v1.4h-1.4zM407.4,623.7h1.4v1.4h-1.4zM421.4,597.1h1.4v1.4h-1.4zM399.3,608.1h1.4v1.4h-1.4zM472.1,612.2h1.4v1.4h-1.4zM408.1,611.7h1.4v1.4h-1.4zM420.5,600.5h1.4v1.4h-1.4zM391.4,620.9h1.4v1.4h-1.4zM409.7,609.1h1.4v1.4h-1.4zM469.6,598.4h1.4v1.4h-1.4zM458.6,616.4h1.4v1.4h-1.4zM422.8,616.8h1.4v1.4h-1.4zM419.3,628.2h1.4v1.4h-1.4zM462.9,602.0h1.4v1.4h-1.4zM414.0,596.5h1.4v1.4h-1.4zM381.4,616.5h1.4v1.4h-1.4zM389.5,618.5h1.4v1.4h-1.4zM460.1,621.9h1.4v1.4h-1.4zM394.4,594.1h1.4v1.4h-1.4zM383.7,595.7h1.4v1.4h-1.4zM420.6,610.5h1.4v1.4h-1.4zM440.0,608.4h1.4v1.4h-1.4zM391.0,601.2h1.4v1.4h-1.4zM398.0,601.7h1.4v1.4h-1.4zM434.8,595.7h1.4v1.4h-1.4zM370.3,615.2h1.4v1.4h-1.4zM459.8,616.0h1.4v1.4h-1.4zM437.4,601.5h1.4v1.4h-1.4zM394.3,601.5h1.4v1.4h-1.4zM470.1,629.6h1.4v1.4h-1.4zM452.1,595.2h1.4v1.4h-1.4zM423.3,591.5h1.4v1.4h-1.4zM387.3,604.2h1.4v1.4h-1.4zM399.8,596.6h1.4v1.4h-1.4zM446.0,613.1h1.4v1.4h-1.4zM387.5,596.9h1.4v1.4h-1.4zM391.2,605.3h1.4v1.4h-1.4zM428.8,594.4h1.4v1.4h-1.4zM445.6,598.8h1.4v1.4h-1.4zM443.6,597.1h1.4v1.4h-1.4zM438.1,618.7h1.4v1.4h-1.4zM412.6,602.0h1.4v1.4h-1.4zM452.7,602.7h1.4v1.4h-1.4zM396.8,607.0h1.4v1.4h-1.4zM452.6,612.8h1.4v1.4h-1.4zM438.1,591.8h1.4v1.4h-1.4zM406.9,604.4h1.4v1.4h-1.4zM449.1,611.8h1.4v1.4h-1.4zM466.9,620.2h1.4v1.4h-1.4zM372.3,598.8h1.4v1.4h-1.4zM412.7,609.2h1.4v1.4h-1.4zM400.5,608.9h1.4v1.4h-1.4zM440.7,600.4h1.4v1.4h-1.4zM434.8,612.3h1.4v1.4h-1.4zM415.8,599.3h1.4v1.4h-1.4zM399.8,605.7h1.4v1.4h-1.4zM376.1,606.6h1.4v1.4h-1.4zM429.7,616.2h1.4v1.4h-1.4zM395.2,591.7h1.4v1.4h-1.4zM421.5,606.3h1.4v1.4h-1.4zM416.9,617.3h1.4v1.4h-1.4zM463.7,605.2h1.4v1.4h-1.4zM451.0,620.9h1.4v1.4h-1.4zM415.4,610.6h1.4v1.4h-1.4zM464.9,597.8h1.4v1.4h-1.4zM443.8,600.2h1.4v1.4h-1.4zM449.9,611.4h1.4v1.4h-1.4zM442.3,601.7h1.4v1.4h-1.4zM489.7,600.3h1.4v1.4h-1.4zM445.2,602.3h1.4v1.4h-1.4zM422.5,609.6h1.4v1.4h-1.4zM450.2,617.1h1.4v1.4h-1.4zM468.8,599.3h1.4v1.4h-1.4zM405.8,594.8h1.4v1.4h-1.4zM407.7,613.1h1.4v1.4h-1.4zM475.8,610.2h1.4v1.4h-1.4zM449.0,608.2h1.4v1.4h-1.4zM416.2,588.0h1.4v1.4h-1.4zM490.4,616.3h1.4v1.4h-1.4zM451.7,597.9h1.4v1.4h-1.4zM402.0,610.1h1.4v1.4h-1.4zM380.8,614.2h1.4v1.4h-1.4zM453.7,592.8h1.4v1.4h-1.4zM450.5,605.2h1.4v1.4h-1.4zM400.2,607.0h1.4v1.4h-1.4zM421.7,614.0h1.4v1.4h-1.4zM442.3,621.5h1.4v1.4h-1.4zM427.5,617.7h1.4v1.4h-1.4zM392.1,624.6h1.4v1.4h-1.4zM461.3,587.6h1.4v1.4h-1.4zM487.9,630.4h1.4v1.4h-1.4zM432.9,600.9h1.4v1.4h-1.4zM411.7,605.9h1.4v1.4h-1.4zM415.2,599.7h1.4v1.4h-1.4zM411.0,617.3h1.4v1.4h-1.4zM457.2,618.1h1.4v1.4h-1.4zM422.1,602.8h1.4v1.4h-1.4zM485.9,609.6h1.4v1.4h-1.4zM433.6,608.1h1.4v1.4h-1.4zM410.0,608.8h1.4v1.4h-1.4zM402.6,607.1h1.4v1.4h-1.4zM418.9,610.2h1.4v1.4h-1.4zM414.2,608.7h1.4v1.4h-1.4zM415.1,616.3h1.4v1.4h-1.4zM426.7,609.8h1.4v1.4h-1.4zM468.1,588.8h1.4v1.4h-1.4zM459.9,604.9h1.4v1.4h-1.4zM464.0,598.9h1.4v1.4h-1.4zM430.8,607.7h1.4v1.4h-1.4zM395.6,598.4h1.4v1.4h-1.4zM455.3,611.6h1.4v1.4h-1.4zM408.3,607.2h1.4v1.4h-1.4zM375.2,596.1h1.4v1.4h-1.4zM460.2,615.6h1.4v1.4h-1.4zM440.9,616.4h1.4v1.4h-1.4zM394.8,619.1h1.4v1.4h-1.4zM462.1,614.8h1.4v1.4h-1.4zM478.9,603.6h1.4v1.4h-1.4zM386.4,598.2h1.4v1.4h-1.4zM455.3,594.9h1.4v1.4h-1.4zM455.2,598.1h1.4v1.4h-1.4zM479.2,611.5h1.4v1.4h-1.4zM380.3,614.8h1.4v1.4h-1.4zM489.2,600.8h1.4v1.4h-1.4zM417.3,607.0h1.4v1.4h-1.4zM426.6,615.4h1.4v1.4h-1.4zM454.5,595.3h1.4v1.4h-1.4zM391.5,617.2h1.4v1.4h-1.4zM423.1,603.1h1.4v1.4h-1.4zM446.4,613.4h1.4v1.4h-1.4zM360.1,600.5h1.4v1.4h-1.4zM408.1,601.1h1.4v1.4h-1.4zM451.6,609.8h1.4v1.4h-1.4zM408.7,608.4h1.4v1.4h-1.4zM414.3,615.2h1.4v1.4h-1.4zM409.2,615.9h1.4v1.4h-1.4zM476.0,602.0h1.4v1.4h-1.4zM432.9,594.4h1.4v1.4h-1.4zM458.8,606.5h1.4v1.4h-1.4zM413.3,618.5h1.4v1.4h-1.4zM389.3,606.7h1.4v1.4h-1.4zM337.1,597.9h1.4v1.4h-1.4zM417.2,611.0h1.4v1.4h-1.4zM429.4,617.0h1.4v1.4h-1.4zM417.1,608.8h1.4v1.4h-1.4zM392.4,596.7h1.4v1.4h-1.4zM455.1,608.7h1.4v1.4h-1.4zM394.8,627.7h1.4v1.4h-1.4zM424.6,613.7h1.4v1.4h-1.4zM450.7,619.4h1.4v1.4h-1.4zM396.7,611.1h1.4v1.4h-1.4zM442.6,618.2h1.4v1.4h-1.4zM456.1,607.7h1.4v1.4h-1.4zM409.8,602.1h1.4v1.4h-1.4zM399.9,637.3h1.4v1.4h-1.4zM363.5,606.1h1.4v1.4h-1.4zM438.1,593.2h1.4v1.4h-1.4zM439.6,603.5h1.4v1.4h-1.4zM422.3,586.9h1.4v1.4h-1.4zM454.3,599.4h1.4v1.4h-1.4zM397.4,596.8h1.4v1.4h-1.4zM459.0,609.0h1.4v1.4h-1.4zM406.1,599.2h1.4v1.4h-1.4zM436.4,605.9h1.4v1.4h-1.4zM469.8,600.3h1.4v1.4h-1.4zM404.1,607.3h1.4v1.4h-1.4zM449.4,616.9h1.4v1.4h-1.4zM445.6,603.5h1.4v1.4h-1.4zM434.6,613.7h1.4v1.4h-1.4zM453.1,594.6h1.4v1.4h-1.4zM383.7,615.6h1.4v1.4h-1.4zM435.7,623.6h1.4v1.4h-1.4zM401.9,644.6h1.4v1.4h-1.4zM425.2,622.4h1.4v1.4h-1.4zM474.4,643.3h1.4v1.4h-1.4zM470.7,650.4h1.4v1.4h-1.4zM471.6,628.2h1.4v1.4h-1.4zM473.3,630.3h1.4v1.4h-1.4zM464.4,653.3h1.4v1.4h-1.4zM474.0,649.4h1.4v1.4h-1.4zM455.5,631.2h1.4v1.4h-1.4zM469.2,627.6h1.4v1.4h-1.4zM468.2,634.2h1.4v1.4h-1.4zM461.9,668.8h1.4v1.4h-1.4zM467.1,651.0h1.4v1.4h-1.4zM463.1,632.6h1.4v1.4h-1.4zM470.4,633.1h1.4v1.4h-1.4zM474.2,640.4h1.4v1.4h-1.4zM455.1,653.5h1.4v1.4h-1.4zM470.9,628.0h1.4v1.4h-1.4zM467.9,630.0h1.4v1.4h-1.4zM469.6,640.3h1.4v1.4h-1.4zM469.6,627.5h1.4v1.4h-1.4zM462.0,641.4h1.4v1.4h-1.4zM465.6,632.8h1.4v1.4h-1.4zM467.5,632.9h1.4v1.4h-1.4zM475.9,652.2h1.4v1.4h-1.4zM470.2,630.3h1.4v1.4h-1.4zM454.9,627.4h1.4v1.4h-1.4zM466.0,636.4h1.4v1.4h-1.4zM473.4,637.3h1.4v1.4h-1.4zM462.3,631.9h1.4v1.4h-1.4zM475.5,636.0h1.4v1.4h-1.4zM461.6,633.7h1.4v1.4h-1.4zM469.9,641.6h1.4v1.4h-1.4zM468.9,650.6h1.4v1.4h-1.4zM472.1,640.4h1.4v1.4h-1.4zM462.0,640.0h1.4v1.4h-1.4zM462.6,633.1h1.4v1.4h-1.4zM464.7,634.8h1.4v1.4h-1.4zM478.4,628.4h1.4v1.4h-1.4zM465.5,638.9h1.4v1.4h-1.4zM464.5,643.9h1.4v1.4h-1.4zM463.3,629.7h1.4v1.4h-1.4zM462.8,637.9h1.4v1.4h-1.4zM471.0,639.6h1.4v1.4h-1.4zM467.4,637.9h1.4v1.4h-1.4zM458.5,639.2h1.4v1.4h-1.4zM470.5,631.6h1.4v1.4h-1.4zM473.3,634.4h1.4v1.4h-1.4zM465.2,637.1h1.4v1.4h-1.4zM471.3,648.6h1.4v1.4h-1.4zM471.5,628.1h1.4v1.4h-1.4zM463.3,630.9h1.4v1.4h-1.4zM469.4,633.1h1.4v1.4h-1.4zM466.1,627.4h1.4v1.4h-1.4zM475.1,629.3h1.4v1.4h-1.4zM470.9,645.7h1.4v1.4h-1.4zM471.6,632.3h1.4v1.4h-1.4zM463.1,643.1h1.4v1.4h-1.4zM460.8,654.5h1.4v1.4h-1.4zM458.6,639.4h1.4v1.4h-1.4zM467.3,629.5h1.4v1.4h-1.4zM456.3,640.7h1.4v1.4h-1.4zM472.8,627.6h1.4v1.4h-1.4zM474.5,636.5h1.4v1.4h-1.4zM456.8,628.1h1.4v1.4h-1.4zM469.0,640.5h1.4v1.4h-1.4zM460.0,649.0h1.4v1.4h-1.4zM470.7,648.7h1.4v1.4h-1.4zM465.4,637.0h1.4v1.4h-1.4zM463.7,627.9h1.4v1.4h-1.4zM473.1,630.5h1.4v1.4h-1.4zM461.3,643.1h1.4v1.4h-1.4zM473.8,643.7h1.4v1.4h-1.4zM460.8,637.3h1.4v1.4h-1.4zM468.6,643.5h1.4v1.4h-1.4zM478.8,641.2h1.4v1.4h-1.4zM461.0,650.1h1.4v1.4h-1.4zM461.1,635.2h1.4v1.4h-1.4zM475.1,628.0h1.4v1.4h-1.4zM468.6,642.2h1.4v1.4h-1.4zM474.9,628.9h1.4v1.4h-1.4zM469.6,627.4h1.4v1.4h-1.4zM472.5,645.6h1.4v1.4h-1.4zM473.4,655.2h1.4v1.4h-1.4zM458.4,652.8h1.4v1.4h-1.4zM469.4,631.8h1.4v1.4h-1.4zM470.5,632.9h1.4v1.4h-1.4zM470.5,631.4h1.4v1.4h-1.4zM468.6,647.0h1.4v1.4h-1.4zM467.6,643.2h1.4v1.4h-1.4zM474.3,629.0h1.4v1.4h-1.4zM464.3,632.0h1.4v1.4h-1.4zM462.2,630.8h1.4v1.4h-1.4zM477.8,645.2h1.4v1.4h-1.4zM464.7,628.3h1.4v1.4h-1.4zM458.9,648.3h1.4v1.4h-1.4zM475.6,629.3h1.4v1.4h-1.4zM463.7,630.5h1.4v1.4h-1.4zM466.6,655.9h1.4v1.4h-1.4zM464.3,634.1h1.4v1.4h-1.4zM456.9,628.0h1.4v1.4h-1.4zM477.2,631.9h1.4v1.4h-1.4zM473.4,633.3h1.4v1.4h-1.4zM470.0,644.8h1.4v1.4h-1.4zM462.7,640.4h1.4v1.4h-1.4zM465.4,632.3h1.4v1.4h-1.4zM466.8,633.1h1.4v1.4h-1.4zM467.5,648.2h1.4v1.4h-1.4zM461.8,642.1h1.4v1.4h-1.4zM475.0,631.2h1.4v1.4h-1.4zM470.8,638.4h1.4v1.4h-1.4zM468.0,639.7h1.4v1.4h-1.4zM469.3,631.7h1.4v1.4h-1.4zM468.1,649.0h1.4v1.4h-1.4zM473.0,643.1h1.4v1.4h-1.4zM468.3,637.0h1.4v1.4h-1.4zM466.1,649.2h1.4v1.4h-1.4zM482.2,629.9h1.4v1.4h-1.4zM471.4,633.1h1.4v1.4h-1.4zM472.7,631.8h1.4v1.4h-1.4zM474.6,642.8h1.4v1.4h-1.4zM459.2,641.7h1.4v1.4h-1.4zM432.0,631.3h1.4v1.4h-1.4zM466.7,632.0h1.4v1.4h-1.4zM462.1,628.2h1.4v1.4h-1.4zM465.0,629.8h1.4v1.4h-1.4zM480.8,629.5h1.4v1.4h-1.4zM454.6,632.5h1.4v1.4h-1.4zM451.3,625.5h1.4v1.4h-1.4zM460.6,632.2h1.4v1.4h-1.4zM476.0,628.5h1.4v1.4h-1.4zM467.2,627.9h1.4v1.4h-1.4zM467.0,638.7h1.4v1.4h-1.4zM461.3,629.2h1.4v1.4h-1.4zM464.4,626.6h1.4v1.4h-1.4zM474.5,633.2h1.4v1.4h-1.4zM454.1,637.7h1.4v1.4h-1.4zM461.8,634.0h1.4v1.4h-1.4zM452.2,631.1h1.4v1.4h-1.4zM454.2,635.6h1.4v1.4h-1.4zM433.0,636.5h1.4v1.4h-1.4zM474.2,633.3h1.4v1.4h-1.4zM441.5,637.3h1.4v1.4h-1.4zM435.8,633.1h1.4v1.4h-1.4zM446.9,636.6h1.4v1.4h-1.4zM479.9,634.8h1.4v1.4h-1.4zM463.1,629.8h1.4v1.4h-1.4zM468.4,626.1h1.4v1.4h-1.4zM472.8,638.9h1.4v1.4h-1.4zM455.4,636.4h1.4v1.4h-1.4zM457.4,629.0h1.4v1.4h-1.4zM437.3,634.9h1.4v1.4h-1.4zM447.5,629.6h1.4v1.4h-1.4zM456.2,634.7h1.4v1.4h-1.4zM437.5,638.7h1.4v1.4h-1.4zM472.5,631.9h1.4v1.4h-1.4zM435.3,636.7h1.4v1.4h-1.4z" fill="#000"/>
<path d="M307.4,582.4h1.4v1.4h-1.4zM307.4,585.6h1.4v1.4h-1.4zM307.4,591.4h1.4v1.4h-1.4zM308.9,601.0h1.4v1.4h-1.4zM307.4,603.9h1.4v1.4h-1.4zM307.4,605.8h1.4v1.4h-1.4zM318.5,596.2h1.4v1.4h-1.4zM319.5,597.8h1.4v1.4h-1.4zM323.3,603.5h1.4v1.4h-1.4zM332.0,593.3h1.4v1.4h-1.4zM334.9,603.5h1.4v1.4h-1.4zM341.6,592.8h1.4v1.4h-1.4zM345.5,600.1h1.4v1.4h-1.4zM350.3,602.3h1.4v1.4h-1.4zM337.8,614.5h1.4v1.4h-1.4zM349.7,610.6h1.4v1.4h-1.4zM355.1,596.2h1.4v1.4h-1.4zM357.0,593.9h1.4v1.4h-1.4zM357.0,599.7h1.4v1.4h-1.4zM360.5,599.1h1.4v1.4h-1.4zM357.0,616.4h1.4v1.4h-1.4zM360.5,613.1h1.4v1.4h-1.4zM363.7,607.3h1.4v1.4h-1.4zM365.6,590.1h1.4v1.4h-1.4zM370.5,596.2h1.4v1.4h-1.4zM369.5,600.1h1.4v1.4h-1.4zM371.4,604.9h1.4v1.4h-1.4zM374.3,595.3h1.4v1.4h-1.4zM378.1,594.3h1.4v1.4h-1.4zM382.0,594.3h1.4v1.4h-1.4zM389.7,586.2h1.4v1.4h-1.4zM376.2,603.5h1.4v1.4h-1.4zM380.1,607.8h1.4v1.4h-1.4zM379.1,613.5h1.4v1.4h-1.4zM383.9,615.5h1.4v1.4h-1.4zM386.8,618.3h1.4v1.4h-1.4zM380.1,620.3h1.4v1.4h-1.4zM383.9,622.2h1.4v1.4h-1.4zM326.2,628.5h1.4v1.4h-1.4zM355.1,633.7h1.4v1.4h-1.4zM358.9,632.4h1.4v1.4h-1.4zM362.8,633.1h1.4v1.4h-1.4zM373.3,630.5h1.4v1.4h-1.4zM380.1,635.6h1.4v1.4h-1.4zM387.8,630.8h1.4v1.4h-1.4zM393.5,625.1h1.4v1.4h-1.4zM307.3,666.3h1.4v1.4h-1.4zM314.5,676.3h1.4v1.4h-1.4zM331.0,695.3h1.4v1.4h-1.4zM325.1,702.7h1.4v1.4h-1.4zM354.3,634.0h1.4v1.4h-1.4zM359.6,633.1h1.4v1.4h-1.4zM362.8,633.5h1.4v1.4h-1.4zM359.6,639.5h1.4v1.4h-1.4zM373.3,637.3h1.4v1.4h-1.4zM379.7,636.1h1.4v1.4h-1.4zM376.5,642.4h1.4v1.4h-1.4zM383.5,639.5h1.4v1.4h-1.4zM386.0,638.2h1.4v1.4h-1.4zM383.5,643.7h1.4v1.4h-1.4zM392.4,639.5h1.4v1.4h-1.4zM390.3,645.8h1.4v1.4h-1.4zM388.2,647.9h1.4v1.4h-1.4zM387.7,653.0h1.4v1.4h-1.4zM388.2,656.4h1.4v1.4h-1.4zM351.1,650.9h1.4v1.4h-1.4zM358.1,655.7h1.4v1.4h-1.4zM349.6,661.0h1.4v1.4h-1.4zM382.9,660.6h1.4v1.4h-1.4zM389.8,665.3h1.4v1.4h-1.4zM360.2,669.1h1.4v1.4h-1.4zM384.3,670.6h1.4v1.4h-1.4zM383.9,689.0h1.4v1.4h-1.4zM383.9,697.0h1.4v1.4h-1.4zM377.1,702.3h1.4v1.4h-1.4zM370.8,707.1h1.4v1.4h-1.4zM395.6,634.0h1.4v1.4h-1.4zM403.0,633.1h1.4v1.4h-1.4zM406.1,634.6h1.4v1.4h-1.4zM408.3,643.7h1.4v1.4h-1.4zM398.7,631.0h1.4v1.4h-1.4zM373.3,629.7h1.4v1.4h-1.4zM388.2,629.7h1.4v1.4h-1.4zM326.3,629.7h1.4v1.4h-1.4zM408.1,643.8h1.4v1.4h-1.4zM412.3,650.1h1.4v1.4h-1.4zM405.3,634.5h1.4v1.4h-1.4zM429.7,649.3h1.4v1.4h-1.4zM436.0,645.0h1.4v1.4h-1.4zM443.4,647.1h1.4v1.4h-1.4zM450.4,643.8h1.4v1.4h-1.4zM450.4,651.4h1.4v1.4h-1.4zM443.0,659.2h1.4v1.4h-1.4zM444.5,672.5h1.4v1.4h-1.4zM442.4,677.6h1.4v1.4h-1.4zM444.5,684.0h1.4v1.4h-1.4zM445.6,687.3h1.4v1.4h-1.4zM440.7,692.4h1.4v1.4h-1.4zM447.7,692.4h1.4v1.4h-1.4zM422.9,684.0h1.4v1.4h-1.4zM425.5,693.1h1.4v1.4h-1.4zM428.6,697.3h1.4v1.4h-1.4zM440.7,703.6h1.4v1.4h-1.4zM450.4,704.7h1.4v1.4h-1.4zM442.0,709.3h1.4v1.4h-1.4zM449.1,717.4h1.4v1.4h-1.4zM456.1,671.3h1.4v1.4h-1.4zM461.0,663.4h1.4v1.4h-1.4zM466.7,675.1h1.4v1.4h-1.4zM465.6,683.1h1.4v1.4h-1.4zM471.6,681.0h1.4v1.4h-1.4zM465.6,688.8h1.4v1.4h-1.4zM474.1,687.3h1.4v1.4h-1.4zM477.3,689.9h1.4v1.4h-1.4zM477.3,697.3h1.4v1.4h-1.4zM462.5,703.0h1.4v1.4h-1.4zM475.2,709.3h1.4v1.4h-1.4zM467.8,714.8h1.4v1.4h-1.4zM471.6,715.7h1.4v1.4h-1.4zM461.8,711.5h1.4v1.4h-1.4zM457.2,715.3h1.4v1.4h-1.4zM478.3,674.0h1.4v1.4h-1.4zM479.4,662.8h1.4v1.4h-1.4zM478.3,653.9h1.4v1.4h-1.4zM480.9,642.9h1.4v1.4h-1.4zM467.8,656.0h1.4v1.4h-1.4zM469.9,659.8h1.4v1.4h-1.4zM473.1,662.3h1.4v1.4h-1.4zM459.7,655.0h1.4v1.4h-1.4zM462.5,650.7h1.4v1.4h-1.4zM458.2,647.1h1.4v1.4h-1.4zM461.4,644.4h1.4v1.4h-1.4zM468.8,645.5h1.4v1.4h-1.4zM472.0,649.7h1.4v1.4h-1.4zM475.2,652.9h1.4v1.4h-1.4zM465.6,651.8h1.4v1.4h-1.4zM469.9,640.8h1.4v1.4h-1.4zM455.1,640.8h1.4v1.4h-1.4zM488.9,626.8h1.4v1.4h-1.4z" fill="#222"/>
<text x="-0.80" y="796.30" font-size="26" text-anchor="start">D</text>
<text x="46.20" y="802.50" font-size="22" text-anchor="start">ii</text>
<line x1="47.10" y1="814.00" x2="47.10" y2="971.90" stroke="#000" stroke-width="2.2"/>
<line x1="44.60" y1="815.50" x2="47.10" y2="815.50" stroke="#000" stroke-width="1.5"/>
<line x1="44.60" y1="846.00" x2="47.10" y2="846.00" stroke="#000" stroke-width="1.5"/>
<line x1="44.60" y1="876.80" x2="47.10" y2="876.80" stroke="#000" stroke-width="1.5"/>
<line x1="44.60" y1="908.50" x2="47.10" y2="908.50" stroke="#000" stroke-width="1.5"/>
<line x1="44.60" y1="939.50" x2="47.10" y2="939.50" stroke="#000" stroke-width="1.5"/>
<line x1="44.60" y1="970.50" x2="47.10" y2="970.50" stroke="#000" stroke-width="1.5"/>
<text x="39.60" y="822.52" font-size="13.6" text-anchor="end">100</text>
<text x="39.60" y="853.42" font-size="13.6" text-anchor="end">80</text>
<text x="39.60" y="882.72" font-size="13.6" text-anchor="end">60</text>
<text x="39.60" y="912.82" font-size="13.6" text-anchor="end">40</text>
<text x="39.60" y="942.42" font-size="13.6" text-anchor="end">20</text>
<text x="39.60" y="974.02" font-size="13.6" text-anchor="end">0</text>
<line x1="46.00" y1="970.90" x2="260.30" y2="970.90" stroke="#000" stroke-width="2.8"/>
<text x="87.90" y="993.92" font-size="13.6" text-anchor="middle">0</text>
<text x="154.00" y="993.92" font-size="13.6" text-anchor="middle">40</text>
<text x="224.70" y="993.92" font-size="13.6" text-anchor="middle">80</text>
<text x="127.40" y="1009.60" font-size="13.6" text-anchor="start">H<tspan font-size="7.2" dy="2.3">2</tspan><tspan dy="-2.3">O</tspan><tspan font-size="7.2" dy="2.3">2</tspan><tspan dy="-2.3" dx="2.4">(µM)</tspan></text>
<text x="15.00" y="898.80" font-size="13.6" text-anchor="middle" transform="rotate(-90 15.00 898.80)">% viable cells</text>
<polyline points="82.10,817.00 153.40,858.00 225.30,917.50" fill="none" stroke="#000" stroke-width="1.8" stroke-dasharray="5.2,3.4" stroke-linejoin="round"/>
<polyline points="82.10,822.50 153.40,840.80 225.30,875.50" fill="none" stroke="#000" stroke-width="1.8" stroke-linejoin="round"/>
<line x1="153.40" y1="834.60" x2="153.40" y2="844.30" stroke="#000" stroke-width="1.4"/>
<line x1="151.40" y1="834.60" x2="155.40" y2="834.60" stroke="#000" stroke-width="1.4"/>
<line x1="151.40" y1="844.30" x2="155.40" y2="844.30" stroke="#000" stroke-width="1.4"/>
<line x1="225.40" y1="864.00" x2="225.40" y2="886.50" stroke="#000" stroke-width="1.4"/>
<line x1="223.40" y1="864.00" x2="227.40" y2="864.00" stroke="#000" stroke-width="1.4"/>
<line x1="223.40" y1="886.50" x2="227.40" y2="886.50" stroke="#000" stroke-width="1.4"/>
<line x1="153.40" y1="850.20" x2="153.40" y2="865.80" stroke="#000" stroke-width="1.4"/>
<line x1="151.40" y1="850.20" x2="155.40" y2="850.20" stroke="#000" stroke-width="1.4"/>
<line x1="151.40" y1="865.80" x2="155.40" y2="865.80" stroke="#000" stroke-width="1.4"/>
<line x1="225.10" y1="903.00" x2="225.10" y2="928.80" stroke="#000" stroke-width="1.4"/>
<line x1="223.10" y1="903.00" x2="227.10" y2="903.00" stroke="#000" stroke-width="1.4"/>
<line x1="223.10" y1="928.80" x2="227.10" y2="928.80" stroke="#000" stroke-width="1.4"/>
<rect x="78.85" y="819.25" width="6.5" height="6.5" fill="#000"/>
<rect x="150.15" y="837.55" width="6.5" height="6.5" fill="#000"/>
<rect x="222.05" y="872.25" width="6.5" height="6.5" fill="#000"/>
<polygon points="82.10,813.15 86.35,820.15 77.85,820.15" fill="#000"/>
<polygon points="153.40,854.15 157.65,861.15 149.15,861.15" fill="#000"/>
<polygon points="225.30,913.65 229.55,920.65 221.05,920.65" fill="#000"/>
<path d="M162.60,855.30L162.60,851.10M162.60,855.30L166.59,854.00M162.60,855.30L165.07,858.70M162.60,855.30L160.13,858.70M162.60,855.30L158.61,854.00" stroke="#000" stroke-width="1.9" fill="none"/>
<path d="M233.50,911.30L233.50,907.10M233.50,911.30L237.49,910.00M233.50,911.30L235.97,914.70M233.50,911.30L231.03,914.70M233.50,911.30L229.51,910.00" stroke="#000" stroke-width="1.9" fill="none"/>
<line x1="63.80" y1="943.00" x2="86.20" y2="943.00" stroke="#000" stroke-width="2"/>
<rect x="71.70" y="939.70" width="6.6" height="6.6" fill="#000"/>
<text x="95.00" y="947.20" font-size="13.9" text-anchor="start">Treg naive</text>
<line x1="63.80" y1="958.80" x2="69.30" y2="958.80" stroke="#000" stroke-width="2"/>
<line x1="80.70" y1="958.80" x2="86.20" y2="958.80" stroke="#000" stroke-width="2"/>
<polygon points="75.00,954.45 79.00,961.45 71.00,961.45" fill="#000"/>
<text x="95.00" y="962.60" font-size="13.9" text-anchor="start">T4 conv naive</text>
<text x="262.00" y="797.00" font-size="26" text-anchor="start">E</text>
<line x1="304.20" y1="816.50" x2="304.20" y2="971.30" stroke="#000" stroke-width="2.2"/>
<line x1="301.70" y1="817.50" x2="304.20" y2="817.50" stroke="#000" stroke-width="1.5"/>
<line x1="301.70" y1="855.70" x2="304.20" y2="855.70" stroke="#000" stroke-width="1.5"/>
<line x1="301.70" y1="893.90" x2="304.20" y2="893.90" stroke="#000" stroke-width="1.5"/>
<line x1="301.70" y1="932.10" x2="304.20" y2="932.10" stroke="#000" stroke-width="1.5"/>
<line x1="301.70" y1="970.30" x2="304.20" y2="970.30" stroke="#000" stroke-width="1.5"/>
<text x="299.60" y="822.02" font-size="13.6" text-anchor="end">40</text>
<text x="299.60" y="860.32" font-size="13.6" text-anchor="end">30</text>
<text x="299.60" y="898.62" font-size="13.6" text-anchor="end">20</text>
<text x="299.60" y="937.02" font-size="13.6" text-anchor="end">10</text>
<text x="299.60" y="974.22" font-size="13.6" text-anchor="end">0</text>
<line x1="303.00" y1="970.30" x2="517.70" y2="970.30" stroke="#000" stroke-width="2.4"/>
<line x1="346.80" y1="970.30" x2="346.80" y2="972.60" stroke="#000" stroke-width="1.3"/>
<line x1="389.20" y1="970.30" x2="389.20" y2="972.60" stroke="#000" stroke-width="1.3"/>
<line x1="432.60" y1="970.30" x2="432.60" y2="972.60" stroke="#000" stroke-width="1.3"/>
<line x1="475.50" y1="970.30" x2="475.50" y2="972.60" stroke="#000" stroke-width="1.3"/>
<line x1="517.40" y1="970.30" x2="517.40" y2="972.60" stroke="#000" stroke-width="1.3"/>
<text x="346.00" y="994.52" font-size="13.6" text-anchor="middle">5</text>
<text x="388.40" y="994.52" font-size="13.6" text-anchor="middle">10</text>
<text x="475.40" y="994.52" font-size="13.6" text-anchor="middle">20</text>
<text x="384.60" y="1011.00" font-size="13.6" text-anchor="start">H<tspan font-size="7.2" dy="2.3">2</tspan><tspan dy="-2.3">O</tspan><tspan font-size="7.2" dy="2.3">2</tspan><tspan dy="-2.3" dx="2.4">(µM)</tspan></text>
<text x="274.20" y="895.00" font-size="14.2" text-anchor="middle" transform="rotate(-90 274.20 895.00)">% increase of naive Treg</text>
<line x1="348.00" y1="932.50" x2="473.30" y2="858.80" stroke="#000" stroke-width="1.9" stroke-dasharray="5,3.4"/>
<line x1="347.10" y1="925.50" x2="347.10" y2="957.00" stroke="#000" stroke-width="1.4"/>
<line x1="345.10" y1="925.50" x2="349.10" y2="925.50" stroke="#000" stroke-width="1.4"/>
<line x1="345.10" y1="957.00" x2="349.10" y2="957.00" stroke="#000" stroke-width="1.4"/>
<rect x="343.60" y="937.80" width="7" height="7" fill="#000"/>
<line x1="390.20" y1="882.50" x2="390.20" y2="912.20" stroke="#000" stroke-width="1.4"/>
<line x1="388.20" y1="882.50" x2="392.20" y2="882.50" stroke="#000" stroke-width="1.4"/>
<line x1="388.20" y1="912.20" x2="392.20" y2="912.20" stroke="#000" stroke-width="1.4"/>
<rect x="386.70" y="893.60" width="7" height="7" fill="#000"/>
<line x1="476.50" y1="843.80" x2="476.50" y2="878.50" stroke="#000" stroke-width="1.4"/>
<line x1="474.50" y1="843.80" x2="478.50" y2="843.80" stroke="#000" stroke-width="1.4"/>
<line x1="474.50" y1="878.50" x2="478.50" y2="878.50" stroke="#000" stroke-width="1.4"/>
<rect x="473.00" y="858.10" width="7" height="7" fill="#000"/>
<text x="0" y="0" font-size="13" transform="translate(394.2 851.6) scale(0.96 1)" style="stroke-width:0.15px">R<tspan font-size="8" dy="-5.2">2</tspan><tspan dy="5.2" dx="0.6">=0,9387</tspan></text>
</svg>
</body></html>
